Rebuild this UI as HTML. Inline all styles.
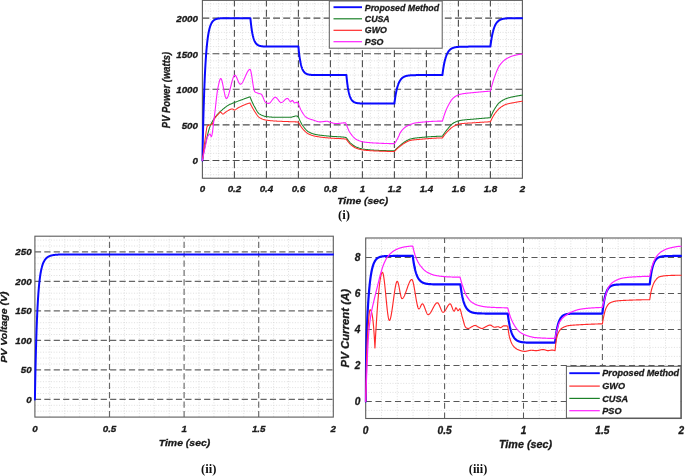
<!DOCTYPE html>
<html lang="en">
<head>
<meta charset="utf-8">
<title>PV power, voltage and current</title>
<style>
html,body{margin:0;padding:0;background:#ffffff;}
body{width:685px;height:476px;overflow:hidden;font-family:"Liberation Sans",sans-serif;}
svg{display:block;filter:blur(0.35px);}
.t{font-family:"Liberation Sans",sans-serif;font-weight:bold;font-style:italic;fill:#1a1a1a;stroke:#1a1a1a;stroke-width:0.3px;}
.s{font-family:"Liberation Serif",serif;font-weight:bold;fill:#111;}
</style>
</head>
<body>
<svg width="685" height="476" viewBox="0 0 685 476">
<rect x="0" y="0" width="685" height="476" fill="#ffffff"/>
<clipPath id="c1"><rect x="201.20" y="0.36" width="321.70" height="177.88"/></clipPath>
<rect x="202.40" y="0.36" width="320.00" height="177.88" fill="#fff"/>
<path d="M210.40,0.36V178.24M218.40,0.36V178.24M226.40,0.36V178.24M242.40,0.36V178.24M250.40,0.36V178.24M258.40,0.36V178.24M274.40,0.36V178.24M282.40,0.36V178.24M290.40,0.36V178.24M306.40,0.36V178.24M314.40,0.36V178.24M322.40,0.36V178.24M338.40,0.36V178.24M346.40,0.36V178.24M354.40,0.36V178.24M370.40,0.36V178.24M378.40,0.36V178.24M386.40,0.36V178.24M402.40,0.36V178.24M410.40,0.36V178.24M418.40,0.36V178.24M434.40,0.36V178.24M442.40,0.36V178.24M450.40,0.36V178.24M466.40,0.36V178.24M474.40,0.36V178.24M482.40,0.36V178.24M498.40,0.36V178.24M506.40,0.36V178.24M514.40,0.36V178.24M202.40,174.68H522.40M202.40,167.56H522.40M202.40,153.33H522.40M202.40,146.22H522.40M202.40,139.10H522.40M202.40,131.99H522.40M202.40,117.76H522.40M202.40,110.64H522.40M202.40,103.53H522.40M202.40,96.41H522.40M202.40,82.18H522.40M202.40,75.07H522.40M202.40,67.95H522.40M202.40,60.84H522.40M202.40,46.61H522.40M202.40,39.49H522.40M202.40,32.38H522.40M202.40,25.26H522.40M202.40,11.03H522.40M202.40,3.92H522.40" stroke="#dbdbdb" stroke-width="0.9" stroke-dasharray="1 1.68" fill="none"/>
<path d="M234.40,178.24V0.36M266.40,178.24V0.36M298.40,178.24V0.36M330.40,178.24V0.36M362.40,178.24V0.36M394.40,178.24V0.36M426.40,178.24V0.36M458.40,178.24V0.36M490.40,178.24V0.36M202.40,160.45H522.40M202.40,124.87H522.40M202.40,89.30H522.40M202.40,53.72H522.40M202.40,18.15H522.40" stroke="#4c4c4c" stroke-width="1.1" stroke-dasharray="6.9 3.2" fill="none"/>
<rect x="202.40" y="0.36" width="320.00" height="177.88" fill="none" stroke="#5c5c5c" stroke-width="1.1"/>
<g clip-path="url(#c1)" fill="none" stroke-linejoin="round" stroke-linecap="round">
<path d="M202.40,160.45 L202.51,154.98 L202.61,149.71 L202.72,144.65 L202.83,139.78 L202.93,135.11 L203.04,130.61 L203.15,126.28 L203.25,122.12 L203.36,118.12 L203.47,114.28 L203.57,110.58 L203.68,107.02 L203.79,103.60 L203.89,100.32 L204.00,97.15 L204.11,94.12 L204.21,91.19 L204.32,88.38 L204.43,85.68 L204.53,83.08 L204.64,80.59 L204.75,78.18 L204.85,75.87 L204.96,73.65 L205.07,71.52 L205.17,69.47 L205.28,67.49 L205.39,65.59 L205.49,63.77 L205.60,62.01 L205.71,60.33 L205.81,58.70 L205.92,57.14 L206.03,55.64 L206.13,54.20 L206.24,52.81 L206.35,51.48 L206.45,50.20 L206.56,48.97 L206.67,47.78 L206.77,46.64 L206.88,45.54 L206.99,44.49 L207.09,43.48 L207.20,42.50 L207.31,41.57 L207.42,40.67 L207.52,39.80 L207.63,38.97 L207.74,38.17 L207.84,37.40 L207.95,36.66 L208.06,35.94 L208.16,35.26 L208.27,34.60 L208.38,33.97 L208.48,33.36 L208.59,32.77 L208.70,32.21 L208.80,31.67 L208.91,31.15 L209.02,30.65 L209.12,30.17 L209.23,29.71 L209.34,29.26 L209.44,28.83 L209.55,28.42 L209.66,28.03 L209.76,27.65 L209.87,27.28 L209.98,26.93 L210.08,26.59 L210.19,26.27 L210.30,25.96 L210.40,25.66 L210.51,25.37 L210.62,25.09 L210.72,24.82 L210.83,24.57 L210.94,24.32 L211.04,24.08 L211.15,23.85 L211.26,23.63 L211.36,23.42 L211.47,23.22 L211.58,23.03 L211.68,22.84 L211.79,22.66 L211.90,22.48 L212.00,22.32 L212.11,22.16 L212.22,22.00 L212.32,21.85 L212.43,21.71 L212.54,21.58 L212.64,21.44 L212.75,21.32 L212.86,21.20 L212.96,21.08 L213.07,20.97 L213.18,20.86 L213.28,20.75 L213.39,20.65 L213.50,20.56 L213.60,20.46 L213.71,20.37 L213.82,20.29 L213.92,20.21 L214.03,20.13 L214.14,20.05 L214.24,19.98 L214.35,19.91 L214.46,19.84 L214.56,19.78 L214.67,19.71 L214.78,19.65 L214.88,19.60 L214.99,19.54 L215.10,19.49 L215.20,19.43 L215.31,19.39 L215.42,19.34 L215.52,19.29 L215.63,19.25 L215.74,19.21 L215.84,19.17 L215.95,19.13 L216.06,19.09 L216.16,19.05 L216.27,19.02 L216.38,18.98 L216.48,18.95 L216.59,18.92 L216.70,18.89 L216.80,18.86 L216.91,18.84 L217.02,18.81 L217.12,18.78 L217.23,18.76 L217.34,18.74 L217.45,18.71 L217.55,18.69 L217.66,18.67 L217.77,18.65 L217.87,18.63 L217.98,18.61 L218.09,18.60 L218.19,18.58 L218.30,18.56 L218.41,18.55 L218.51,18.53 L218.62,18.52 L218.73,18.50 L218.83,18.49 L218.94,18.48 L219.05,18.46 L219.15,18.45 L219.26,18.44 L219.37,18.43 L219.47,18.42 L219.58,18.41 L219.69,18.40 L219.79,18.39 L219.90,18.38 L220.01,18.37 L220.11,18.36 L220.22,18.35 L220.33,18.35 L220.43,18.34 L220.54,18.33 L220.65,18.32 L220.75,18.32 L220.86,18.31 L220.97,18.30 L221.07,18.30 L221.18,18.29 L221.29,18.29 L221.39,18.28 L221.50,18.28 L221.61,18.27 L221.71,18.27 L221.82,18.26 L221.93,18.26 L222.03,18.25 L222.14,18.25 L222.25,18.25 L222.35,18.24 L222.46,18.24 L222.57,18.24 L222.67,18.23 L222.78,18.23 L222.89,18.23 L222.99,18.22 L223.10,18.22 L223.21,18.22 L223.31,18.22 L223.42,18.21 L223.53,18.21 L223.63,18.21 L223.74,18.21 L223.85,18.20 L223.95,18.20 L224.06,18.20 L224.17,18.20 L224.27,18.20 L224.38,18.19 L224.49,18.19 L224.59,18.19 L224.70,18.19 L224.81,18.19 L224.91,18.19 L225.02,18.18 L225.13,18.18 L225.23,18.18 L225.34,18.18 L225.45,18.18 L225.55,18.18 L225.66,18.18 L225.77,18.18 L225.87,18.18 L225.98,18.17 L226.09,18.17 L226.19,18.17 L226.30,18.17 L226.41,18.17 L226.51,18.17 L226.62,18.17 L226.73,18.17 L226.83,18.17 L226.94,18.17 L227.05,18.17 L227.15,18.17 L227.26,18.17 L227.37,18.16 L227.48,18.16 L227.58,18.16 L227.69,18.16 L227.80,18.16 L227.90,18.16 L228.01,18.16 L228.12,18.16 L228.22,18.16 L228.33,18.16 L228.44,18.16 L228.54,18.16 L228.65,18.16 L228.76,18.16 L228.86,18.16 L228.97,18.16 L229.08,18.16 L229.18,18.16 L229.29,18.16 L229.40,18.16 L229.50,18.16 L229.61,18.16 L229.72,18.16 L229.82,18.16 L229.93,18.16 L230.04,18.16 L230.14,18.16 L230.25,18.16 L230.36,18.15 L230.46,18.15 L230.57,18.15 L230.68,18.15 L230.78,18.15 L230.89,18.15 L231.00,18.15 L231.10,18.15 L231.21,18.15 L231.32,18.15 L231.42,18.15 L231.53,18.15 L231.64,18.15 L231.74,18.15 L231.85,18.15 L231.96,18.15 L232.06,18.15 L232.17,18.15 L232.28,18.15 L232.38,18.15 L232.49,18.15 L232.60,18.15 L232.70,18.15 L232.81,18.15 L232.92,18.15 L233.02,18.15 L233.13,18.15 L233.24,18.15 L233.34,18.15 L233.45,18.15 L233.56,18.15 L233.66,18.15 L233.77,18.15 L233.88,18.15 L233.98,18.15 L234.09,18.15 L234.20,18.15 L234.30,18.15 L234.41,18.15 L234.52,18.15 L234.62,18.15 L234.73,18.15 L234.84,18.15 L234.94,18.15 L235.05,18.15 L235.16,18.15 L235.26,18.15 L235.37,18.15 L235.48,18.15 L235.58,18.15 L235.69,18.15 L235.80,18.15 L235.90,18.15 L236.01,18.15 L236.12,18.15 L236.22,18.15 L236.33,18.15 L236.44,18.15 L236.54,18.15 L236.65,18.15 L236.76,18.15 L236.86,18.15 L236.97,18.15 L237.08,18.15 L237.18,18.15 L237.29,18.15 L237.40,18.15 L237.51,18.15 L237.61,18.15 L237.72,18.15 L237.83,18.15 L237.93,18.15 L238.04,18.15 L238.15,18.15 L238.25,18.15 L238.36,18.15 L238.47,18.15 L238.57,18.15 L238.68,18.15 L238.79,18.15 L238.89,18.15 L239.00,18.15 L239.11,18.15 L239.21,18.15 L239.32,18.15 L239.43,18.15 L239.53,18.15 L239.64,18.15 L239.75,18.15 L239.85,18.15 L239.96,18.15 L240.07,18.15 L240.17,18.15 L240.28,18.15 L240.39,18.15 L240.49,18.15 L240.60,18.15 L240.71,18.15 L240.81,18.15 L240.92,18.15 L241.03,18.15 L241.13,18.15 L241.24,18.15 L241.35,18.15 L241.45,18.15 L241.56,18.15 L241.67,18.15 L241.77,18.15 L241.88,18.15 L241.99,18.15 L242.09,18.15 L242.20,18.15 L242.31,18.15 L242.41,18.15 L242.52,18.15 L242.63,18.15 L242.73,18.15 L242.84,18.15 L242.95,18.15 L243.05,18.15 L243.16,18.15 L243.27,18.15 L243.37,18.15 L243.48,18.15 L243.59,18.15 L243.69,18.15 L243.80,18.15 L243.91,18.15 L244.01,18.15 L244.12,18.15 L244.23,18.15 L244.33,18.15 L244.44,18.15 L244.55,18.15 L244.65,18.15 L244.76,18.15 L244.87,18.15 L244.97,18.15 L245.08,18.15 L245.19,18.15 L245.29,18.15 L245.40,18.15 L245.51,18.15 L245.61,18.15 L245.72,18.15 L245.83,18.15 L245.93,18.15 L246.04,18.15 L246.15,18.15 L246.25,18.15 L246.36,18.15 L246.47,18.15 L246.57,18.15 L246.68,18.15 L246.79,18.15 L246.89,18.15 L247.00,18.15 L247.11,18.15 L247.21,18.15 L247.32,18.15 L247.43,18.15 L247.54,18.15 L247.64,18.15 L247.75,18.15 L247.86,18.15 L247.96,18.15 L248.07,18.15 L248.18,18.15 L248.28,18.15 L248.39,18.15 L248.50,18.15 L248.60,18.15 L248.71,18.15 L248.82,18.15 L248.92,18.15 L249.03,18.15 L249.14,18.15 L249.24,18.15 L249.35,18.15 L249.46,18.15 L249.56,18.15 L249.67,18.15 L249.78,18.15 L249.88,18.15 L249.99,18.15 L250.10,18.15 L250.20,18.15 L250.31,18.15 L250.40,18.15 L250.42,18.33 L250.52,19.48 L250.63,20.59 L250.74,21.65 L250.84,22.67 L250.95,23.65 L251.06,24.59 L251.16,25.48 L251.27,26.35 L251.38,27.17 L251.48,27.97 L251.59,28.73 L251.70,29.46 L251.80,30.16 L251.91,30.83 L252.02,31.47 L252.12,32.09 L252.23,32.69 L252.34,33.25 L252.44,33.80 L252.55,34.32 L252.66,34.82 L252.76,35.30 L252.87,35.77 L252.98,36.21 L253.08,36.63 L253.19,37.04 L253.30,37.43 L253.40,37.81 L253.51,38.17 L253.62,38.51 L253.72,38.84 L253.83,39.16 L253.94,39.46 L254.04,39.75 L254.15,40.03 L254.26,40.30 L254.36,40.56 L254.47,40.81 L254.58,41.04 L254.68,41.27 L254.79,41.49 L254.90,41.70 L255.00,41.90 L255.11,42.09 L255.22,42.28 L255.32,42.45 L255.43,42.62 L255.54,42.78 L255.64,42.94 L255.75,43.09 L255.86,43.23 L255.96,43.37 L256.07,43.50 L256.18,43.63 L256.28,43.75 L256.39,43.87 L256.50,43.98 L256.60,44.09 L256.71,44.19 L256.82,44.29 L256.92,44.39 L257.03,44.48 L257.14,44.56 L257.24,44.65 L257.35,44.73 L257.46,44.80 L257.57,44.88 L257.67,44.95 L257.78,45.02 L257.89,45.08 L257.99,45.14 L258.10,45.20 L258.21,45.26 L258.31,45.32 L258.42,45.37 L258.53,45.42 L258.63,45.47 L258.74,45.51 L258.85,45.56 L258.95,45.60 L259.06,45.64 L259.17,45.68 L259.27,45.72 L259.38,45.76 L259.49,45.79 L259.59,45.83 L259.70,45.86 L259.81,45.89 L259.91,45.92 L260.02,45.95 L260.13,45.97 L260.23,46.00 L260.34,46.02 L260.45,46.05 L260.55,46.07 L260.66,46.09 L260.77,46.11 L260.87,46.13 L260.98,46.15 L261.09,46.17 L261.19,46.19 L261.30,46.21 L261.41,46.22 L261.51,46.24 L261.62,46.25 L261.73,46.27 L261.83,46.28 L261.94,46.30 L262.05,46.31 L262.15,46.32 L262.26,46.33 L262.37,46.34 L262.47,46.36 L262.58,46.37 L262.69,46.38 L262.79,46.39 L262.90,46.39 L263.01,46.40 L263.11,46.41 L263.22,46.42 L263.33,46.43 L263.43,46.43 L263.54,46.44 L263.65,46.45 L263.75,46.46 L263.86,46.46 L263.97,46.47 L264.07,46.47 L264.18,46.48 L264.29,46.48 L264.39,46.49 L264.50,46.49 L264.61,46.50 L264.71,46.50 L264.82,46.51 L264.93,46.51 L265.03,46.52 L265.14,46.52 L265.25,46.52 L265.35,46.53 L265.46,46.53 L265.57,46.53 L265.67,46.54 L265.78,46.54 L265.89,46.54 L265.99,46.55 L266.10,46.55 L266.21,46.55 L266.31,46.55 L266.42,46.56 L266.53,46.56 L266.63,46.56 L266.74,46.56 L266.85,46.56 L266.95,46.57 L267.06,46.57 L267.17,46.57 L267.27,46.57 L267.38,46.57 L267.49,46.57 L267.60,46.58 L267.70,46.58 L267.81,46.58 L267.92,46.58 L268.02,46.58 L268.13,46.58 L268.24,46.58 L268.34,46.58 L268.45,46.59 L268.56,46.59 L268.66,46.59 L268.77,46.59 L268.88,46.59 L268.98,46.59 L269.09,46.59 L269.20,46.59 L269.30,46.59 L269.41,46.59 L269.52,46.59 L269.62,46.59 L269.73,46.60 L269.84,46.60 L269.94,46.60 L270.05,46.60 L270.16,46.60 L270.26,46.60 L270.37,46.60 L270.48,46.60 L270.58,46.60 L270.69,46.60 L270.80,46.60 L270.90,46.60 L271.01,46.60 L271.12,46.60 L271.22,46.60 L271.33,46.60 L271.44,46.60 L271.54,46.60 L271.65,46.60 L271.76,46.60 L271.86,46.60 L271.97,46.60 L272.08,46.60 L272.18,46.60 L272.29,46.60 L272.40,46.60 L272.50,46.60 L272.61,46.61 L272.72,46.61 L272.82,46.61 L272.93,46.61 L273.04,46.61 L273.14,46.61 L273.25,46.61 L273.36,46.61 L273.46,46.61 L273.57,46.61 L273.68,46.61 L273.78,46.61 L273.89,46.61 L274.00,46.61 L274.10,46.61 L274.21,46.61 L274.32,46.61 L274.42,46.61 L274.53,46.61 L274.64,46.61 L274.74,46.61 L274.85,46.61 L274.96,46.61 L275.06,46.61 L275.17,46.61 L275.28,46.61 L275.38,46.61 L275.49,46.61 L275.60,46.61 L275.70,46.61 L275.81,46.61 L275.92,46.61 L276.02,46.61 L276.13,46.61 L276.24,46.61 L276.34,46.61 L276.45,46.61 L276.56,46.61 L276.66,46.61 L276.77,46.61 L276.88,46.61 L276.98,46.61 L277.09,46.61 L277.20,46.61 L277.30,46.61 L277.41,46.61 L277.52,46.61 L277.63,46.61 L277.73,46.61 L277.84,46.61 L277.95,46.61 L278.05,46.61 L278.16,46.61 L278.27,46.61 L278.37,46.61 L278.48,46.61 L278.59,46.61 L278.69,46.61 L278.80,46.61 L278.91,46.61 L279.01,46.61 L279.12,46.61 L279.23,46.61 L279.33,46.61 L279.44,46.61 L279.55,46.61 L279.65,46.61 L279.76,46.61 L279.87,46.61 L279.97,46.61 L280.08,46.61 L280.19,46.61 L280.29,46.61 L280.40,46.61 L280.51,46.61 L280.61,46.61 L280.72,46.61 L280.83,46.61 L280.93,46.61 L281.04,46.61 L281.15,46.61 L281.25,46.61 L281.36,46.61 L281.47,46.61 L281.57,46.61 L281.68,46.61 L281.79,46.61 L281.89,46.61 L282.00,46.61 L282.11,46.61 L282.21,46.61 L282.32,46.61 L282.43,46.61 L282.53,46.61 L282.64,46.61 L282.75,46.61 L282.85,46.61 L282.96,46.61 L283.07,46.61 L283.17,46.61 L283.28,46.61 L283.39,46.61 L283.49,46.61 L283.60,46.61 L283.71,46.61 L283.81,46.61 L283.92,46.61 L284.03,46.61 L284.13,46.61 L284.24,46.61 L284.35,46.61 L284.45,46.61 L284.56,46.61 L284.67,46.61 L284.77,46.61 L284.88,46.61 L284.99,46.61 L285.09,46.61 L285.20,46.61 L285.31,46.61 L285.41,46.61 L285.52,46.61 L285.63,46.61 L285.73,46.61 L285.84,46.61 L285.95,46.61 L286.05,46.61 L286.16,46.61 L286.27,46.61 L286.37,46.61 L286.48,46.61 L286.59,46.61 L286.69,46.61 L286.80,46.61 L286.91,46.61 L287.01,46.61 L287.12,46.61 L287.23,46.61 L287.33,46.61 L287.44,46.61 L287.55,46.61 L287.66,46.61 L287.76,46.61 L287.87,46.61 L287.98,46.61 L288.08,46.61 L288.19,46.61 L288.30,46.61 L288.40,46.61 L288.51,46.61 L288.62,46.61 L288.72,46.61 L288.83,46.61 L288.94,46.61 L289.04,46.61 L289.15,46.61 L289.26,46.61 L289.36,46.61 L289.47,46.61 L289.58,46.61 L289.68,46.61 L289.79,46.61 L289.90,46.61 L290.00,46.61 L290.11,46.61 L290.22,46.61 L290.32,46.61 L290.43,46.61 L290.54,46.61 L290.64,46.61 L290.75,46.61 L290.86,46.61 L290.96,46.61 L291.07,46.61 L291.18,46.61 L291.28,46.61 L291.39,46.61 L291.50,46.61 L291.60,46.61 L291.71,46.61 L291.82,46.61 L291.92,46.61 L292.03,46.61 L292.14,46.61 L292.24,46.61 L292.35,46.61 L292.46,46.61 L292.56,46.61 L292.67,46.61 L292.78,46.61 L292.88,46.61 L292.99,46.61 L293.10,46.61 L293.20,46.61 L293.31,46.61 L293.42,46.61 L293.52,46.61 L293.63,46.61 L293.74,46.61 L293.84,46.61 L293.95,46.61 L294.06,46.61 L294.16,46.61 L294.27,46.61 L294.38,46.61 L294.48,46.61 L294.59,46.61 L294.70,46.61 L294.80,46.61 L294.91,46.61 L295.02,46.61 L295.12,46.61 L295.23,46.61 L295.34,46.61 L295.44,46.61 L295.55,46.61 L295.66,46.61 L295.76,46.61 L295.87,46.61 L295.98,46.61 L296.08,46.61 L296.19,46.61 L296.30,46.61 L296.40,46.61 L296.51,46.61 L296.62,46.61 L296.72,46.61 L296.83,46.61 L296.94,46.61 L297.04,46.61 L297.15,46.61 L297.26,46.61 L297.36,46.61 L297.47,46.61 L297.58,46.61 L297.69,46.61 L297.79,46.61 L297.90,46.61 L298.01,46.61 L298.11,46.61 L298.22,46.61 L298.33,46.61 L298.40,46.61 L298.43,46.96 L298.54,48.11 L298.65,49.21 L298.75,50.27 L298.86,51.28 L298.97,52.25 L299.07,53.18 L299.18,54.08 L299.29,54.93 L299.39,55.76 L299.50,56.54 L299.61,57.30 L299.71,58.03 L299.82,58.72 L299.93,59.39 L300.03,60.03 L300.14,60.64 L300.25,61.23 L300.35,61.80 L300.46,62.34 L300.57,62.86 L300.67,63.36 L300.78,63.84 L300.89,64.29 L300.99,64.73 L301.10,65.16 L301.21,65.56 L301.31,65.95 L301.42,66.32 L301.53,66.68 L301.63,67.02 L301.74,67.35 L301.85,67.66 L301.95,67.97 L302.06,68.26 L302.17,68.53 L302.27,68.80 L302.38,69.06 L302.49,69.30 L302.59,69.54 L302.70,69.76 L302.81,69.98 L302.91,70.19 L303.02,70.39 L303.13,70.58 L303.23,70.76 L303.34,70.94 L303.45,71.11 L303.55,71.27 L303.66,71.42 L303.77,71.57 L303.87,71.72 L303.98,71.85 L304.09,71.98 L304.19,72.11 L304.30,72.23 L304.41,72.35 L304.51,72.46 L304.62,72.56 L304.73,72.67 L304.83,72.76 L304.94,72.86 L305.05,72.95 L305.15,73.04 L305.26,73.12 L305.37,73.20 L305.47,73.27 L305.58,73.35 L305.69,73.42 L305.79,73.49 L305.90,73.55 L306.01,73.61 L306.11,73.67 L306.22,73.73 L306.33,73.78 L306.43,73.84 L306.54,73.89 L306.65,73.94 L306.75,73.98 L306.86,74.03 L306.97,74.07 L307.07,74.11 L307.18,74.15 L307.29,74.19 L307.39,74.22 L307.50,74.26 L307.61,74.29 L307.72,74.32 L307.82,74.35 L307.93,74.38 L308.04,74.41 L308.14,74.44 L308.25,74.46 L308.36,74.49 L308.46,74.51 L308.57,74.53 L308.68,74.56 L308.78,74.58 L308.89,74.60 L309.00,74.62 L309.10,74.63 L309.21,74.65 L309.32,74.67 L309.42,74.69 L309.53,74.70 L309.64,74.72 L309.74,74.73 L309.85,74.74 L309.96,74.76 L310.06,74.77 L310.17,74.78 L310.28,74.79 L310.38,74.81 L310.49,74.82 L310.60,74.83 L310.70,74.84 L310.81,74.85 L310.92,74.86 L311.02,74.86 L311.13,74.87 L311.24,74.88 L311.34,74.89 L311.45,74.90 L311.56,74.90 L311.66,74.91 L311.77,74.92 L311.88,74.92 L311.98,74.93 L312.09,74.93 L312.20,74.94 L312.30,74.95 L312.41,74.95 L312.52,74.96 L312.62,74.96 L312.73,74.96 L312.84,74.97 L312.94,74.97 L313.05,74.98 L313.16,74.98 L313.26,74.98 L313.37,74.99 L313.48,74.99 L313.58,74.99 L313.69,75.00 L313.80,75.00 L313.90,75.00 L314.01,75.01 L314.12,75.01 L314.22,75.01 L314.33,75.01 L314.44,75.02 L314.54,75.02 L314.65,75.02 L314.76,75.02 L314.86,75.02 L314.97,75.03 L315.08,75.03 L315.18,75.03 L315.29,75.03 L315.40,75.03 L315.50,75.03 L315.61,75.04 L315.72,75.04 L315.82,75.04 L315.93,75.04 L316.04,75.04 L316.14,75.04 L316.25,75.04 L316.36,75.04 L316.46,75.05 L316.57,75.05 L316.68,75.05 L316.78,75.05 L316.89,75.05 L317.00,75.05 L317.10,75.05 L317.21,75.05 L317.32,75.05 L317.43,75.05 L317.53,75.05 L317.64,75.05 L317.75,75.06 L317.85,75.06 L317.96,75.06 L318.07,75.06 L318.17,75.06 L318.28,75.06 L318.39,75.06 L318.49,75.06 L318.60,75.06 L318.71,75.06 L318.81,75.06 L318.92,75.06 L319.03,75.06 L319.13,75.06 L319.24,75.06 L319.35,75.06 L319.45,75.06 L319.56,75.06 L319.67,75.06 L319.77,75.06 L319.88,75.06 L319.99,75.06 L320.09,75.06 L320.20,75.06 L320.31,75.06 L320.41,75.06 L320.52,75.06 L320.63,75.07 L320.73,75.07 L320.84,75.07 L320.95,75.07 L321.05,75.07 L321.16,75.07 L321.27,75.07 L321.37,75.07 L321.48,75.07 L321.59,75.07 L321.69,75.07 L321.80,75.07 L321.91,75.07 L322.01,75.07 L322.12,75.07 L322.23,75.07 L322.33,75.07 L322.44,75.07 L322.55,75.07 L322.65,75.07 L322.76,75.07 L322.87,75.07 L322.97,75.07 L323.08,75.07 L323.19,75.07 L323.29,75.07 L323.40,75.07 L323.51,75.07 L323.61,75.07 L323.72,75.07 L323.83,75.07 L323.93,75.07 L324.04,75.07 L324.15,75.07 L324.25,75.07 L324.36,75.07 L324.47,75.07 L324.57,75.07 L324.68,75.07 L324.79,75.07 L324.89,75.07 L325.00,75.07 L325.11,75.07 L325.21,75.07 L325.32,75.07 L325.43,75.07 L325.53,75.07 L325.64,75.07 L325.75,75.07 L325.85,75.07 L325.96,75.07 L326.07,75.07 L326.17,75.07 L326.28,75.07 L326.39,75.07 L326.49,75.07 L326.60,75.07 L326.71,75.07 L326.81,75.07 L326.92,75.07 L327.03,75.07 L327.13,75.07 L327.24,75.07 L327.35,75.07 L327.46,75.07 L327.56,75.07 L327.67,75.07 L327.78,75.07 L327.88,75.07 L327.99,75.07 L328.10,75.07 L328.20,75.07 L328.31,75.07 L328.42,75.07 L328.52,75.07 L328.63,75.07 L328.74,75.07 L328.84,75.07 L328.95,75.07 L329.06,75.07 L329.16,75.07 L329.27,75.07 L329.38,75.07 L329.48,75.07 L329.59,75.07 L329.70,75.07 L329.80,75.07 L329.91,75.07 L330.02,75.07 L330.12,75.07 L330.23,75.07 L330.34,75.07 L330.44,75.07 L330.55,75.07 L330.66,75.07 L330.76,75.07 L330.87,75.07 L330.98,75.07 L331.08,75.07 L331.19,75.07 L331.30,75.07 L331.40,75.07 L331.51,75.07 L331.62,75.07 L331.72,75.07 L331.83,75.07 L331.94,75.07 L332.04,75.07 L332.15,75.07 L332.26,75.07 L332.36,75.07 L332.47,75.07 L332.58,75.07 L332.68,75.07 L332.79,75.07 L332.90,75.07 L333.00,75.07 L333.11,75.07 L333.22,75.07 L333.32,75.07 L333.43,75.07 L333.54,75.07 L333.64,75.07 L333.75,75.07 L333.86,75.07 L333.96,75.07 L334.07,75.07 L334.18,75.07 L334.28,75.07 L334.39,75.07 L334.50,75.07 L334.60,75.07 L334.71,75.07 L334.82,75.07 L334.92,75.07 L335.03,75.07 L335.14,75.07 L335.24,75.07 L335.35,75.07 L335.46,75.07 L335.56,75.07 L335.67,75.07 L335.78,75.07 L335.88,75.07 L335.99,75.07 L336.10,75.07 L336.20,75.07 L336.31,75.07 L336.42,75.07 L336.52,75.07 L336.63,75.07 L336.74,75.07 L336.84,75.07 L336.95,75.07 L337.06,75.07 L337.16,75.07 L337.27,75.07 L337.38,75.07 L337.49,75.07 L337.59,75.07 L337.70,75.07 L337.81,75.07 L337.91,75.07 L338.02,75.07 L338.13,75.07 L338.23,75.07 L338.34,75.07 L338.45,75.07 L338.55,75.07 L338.66,75.07 L338.77,75.07 L338.87,75.07 L338.98,75.07 L339.09,75.07 L339.19,75.07 L339.30,75.07 L339.41,75.07 L339.51,75.07 L339.62,75.07 L339.73,75.07 L339.83,75.07 L339.94,75.07 L340.05,75.07 L340.15,75.07 L340.26,75.07 L340.37,75.07 L340.47,75.07 L340.58,75.07 L340.69,75.07 L340.79,75.07 L340.90,75.07 L341.01,75.07 L341.11,75.07 L341.22,75.07 L341.33,75.07 L341.43,75.07 L341.54,75.07 L341.65,75.07 L341.75,75.07 L341.86,75.07 L341.97,75.07 L342.07,75.07 L342.18,75.07 L342.29,75.07 L342.39,75.07 L342.50,75.07 L342.61,75.07 L342.71,75.07 L342.82,75.07 L342.93,75.07 L343.03,75.07 L343.14,75.07 L343.25,75.07 L343.35,75.07 L343.46,75.07 L343.57,75.07 L343.67,75.07 L343.78,75.07 L343.89,75.07 L343.99,75.07 L344.10,75.07 L344.21,75.07 L344.31,75.07 L344.42,75.07 L344.53,75.07 L344.63,75.07 L344.74,75.07 L344.85,75.07 L344.95,75.07 L345.06,75.07 L345.17,75.07 L345.27,75.07 L345.38,75.07 L345.49,75.07 L345.59,75.07 L345.70,75.07 L345.81,75.07 L345.91,75.07 L346.02,75.07 L346.13,75.07 L346.23,75.07 L346.34,75.07 L346.40,75.07 L346.45,75.60 L346.55,76.74 L346.66,77.83 L346.77,78.88 L346.87,79.89 L346.98,80.85 L347.09,81.78 L347.19,82.67 L347.30,83.52 L347.41,84.34 L347.52,85.12 L347.62,85.87 L347.73,86.59 L347.84,87.28 L347.94,87.95 L348.05,88.58 L348.16,89.19 L348.26,89.78 L348.37,90.34 L348.48,90.88 L348.58,91.39 L348.69,91.89 L348.80,92.37 L348.90,92.82 L349.01,93.26 L349.12,93.68 L349.22,94.08 L349.33,94.47 L349.44,94.84 L349.54,95.19 L349.65,95.53 L349.76,95.86 L349.86,96.17 L349.97,96.47 L350.08,96.76 L350.18,97.04 L350.29,97.30 L350.40,97.56 L350.50,97.80 L350.61,98.03 L350.72,98.26 L350.82,98.47 L350.93,98.68 L351.04,98.88 L351.14,99.07 L351.25,99.25 L351.36,99.42 L351.46,99.59 L351.57,99.75 L351.68,99.91 L351.78,100.05 L351.89,100.20 L352.00,100.33 L352.10,100.46 L352.21,100.59 L352.32,100.71 L352.42,100.82 L352.53,100.93 L352.64,101.04 L352.74,101.14 L352.85,101.24 L352.96,101.33 L353.06,101.42 L353.17,101.51 L353.28,101.59 L353.38,101.67 L353.49,101.75 L353.60,101.82 L353.70,101.89 L353.81,101.96 L353.92,102.02 L354.02,102.08 L354.13,102.14 L354.24,102.20 L354.34,102.25 L354.45,102.30 L354.56,102.35 L354.66,102.40 L354.77,102.45 L354.88,102.49 L354.98,102.53 L355.09,102.58 L355.20,102.61 L355.30,102.65 L355.41,102.69 L355.52,102.72 L355.62,102.75 L355.73,102.79 L355.84,102.82 L355.94,102.85 L356.05,102.87 L356.16,102.90 L356.26,102.93 L356.37,102.95 L356.48,102.97 L356.58,103.00 L356.69,103.02 L356.80,103.04 L356.90,103.06 L357.01,103.08 L357.12,103.10 L357.22,103.12 L357.33,103.13 L357.44,103.15 L357.55,103.16 L357.65,103.18 L357.76,103.19 L357.87,103.21 L357.97,103.22 L358.08,103.23 L358.19,103.24 L358.29,103.26 L358.40,103.27 L358.51,103.28 L358.61,103.29 L358.72,103.30 L358.83,103.31 L358.93,103.32 L359.04,103.33 L359.15,103.33 L359.25,103.34 L359.36,103.35 L359.47,103.36 L359.57,103.36 L359.68,103.37 L359.79,103.38 L359.89,103.38 L360.00,103.39 L360.11,103.40 L360.21,103.40 L360.32,103.41 L360.43,103.41 L360.53,103.42 L360.64,103.42 L360.75,103.43 L360.85,103.43 L360.96,103.43 L361.07,103.44 L361.17,103.44 L361.28,103.44 L361.39,103.45 L361.49,103.45 L361.60,103.45 L361.71,103.46 L361.81,103.46 L361.92,103.46 L362.03,103.47 L362.13,103.47 L362.24,103.47 L362.35,103.47 L362.45,103.48 L362.56,103.48 L362.67,103.48 L362.77,103.48 L362.88,103.48 L362.99,103.49 L363.09,103.49 L363.20,103.49 L363.31,103.49 L363.41,103.49 L363.52,103.49 L363.63,103.50 L363.73,103.50 L363.84,103.50 L363.95,103.50 L364.05,103.50 L364.16,103.50 L364.27,103.50 L364.37,103.50 L364.48,103.51 L364.59,103.51 L364.69,103.51 L364.80,103.51 L364.91,103.51 L365.01,103.51 L365.12,103.51 L365.23,103.51 L365.33,103.51 L365.44,103.51 L365.55,103.51 L365.65,103.51 L365.76,103.52 L365.87,103.52 L365.97,103.52 L366.08,103.52 L366.19,103.52 L366.29,103.52 L366.40,103.52 L366.51,103.52 L366.61,103.52 L366.72,103.52 L366.83,103.52 L366.93,103.52 L367.04,103.52 L367.15,103.52 L367.25,103.52 L367.36,103.52 L367.47,103.52 L367.58,103.52 L367.68,103.52 L367.79,103.52 L367.90,103.52 L368.00,103.52 L368.11,103.52 L368.22,103.52 L368.32,103.52 L368.43,103.52 L368.54,103.52 L368.64,103.53 L368.75,103.53 L368.86,103.53 L368.96,103.53 L369.07,103.53 L369.18,103.53 L369.28,103.53 L369.39,103.53 L369.50,103.53 L369.60,103.53 L369.71,103.53 L369.82,103.53 L369.92,103.53 L370.03,103.53 L370.14,103.53 L370.24,103.53 L370.35,103.53 L370.46,103.53 L370.56,103.53 L370.67,103.53 L370.78,103.53 L370.88,103.53 L370.99,103.53 L371.10,103.53 L371.20,103.53 L371.31,103.53 L371.42,103.53 L371.52,103.53 L371.63,103.53 L371.74,103.53 L371.84,103.53 L371.95,103.53 L372.06,103.53 L372.16,103.53 L372.27,103.53 L372.38,103.53 L372.48,103.53 L372.59,103.53 L372.70,103.53 L372.80,103.53 L372.91,103.53 L373.02,103.53 L373.12,103.53 L373.23,103.53 L373.34,103.53 L373.44,103.53 L373.55,103.53 L373.66,103.53 L373.76,103.53 L373.87,103.53 L373.98,103.53 L374.08,103.53 L374.19,103.53 L374.30,103.53 L374.40,103.53 L374.51,103.53 L374.62,103.53 L374.72,103.53 L374.83,103.53 L374.94,103.53 L375.04,103.53 L375.15,103.53 L375.26,103.53 L375.36,103.53 L375.47,103.53 L375.58,103.53 L375.68,103.53 L375.79,103.53 L375.90,103.53 L376.00,103.53 L376.11,103.53 L376.22,103.53 L376.32,103.53 L376.43,103.53 L376.54,103.53 L376.64,103.53 L376.75,103.53 L376.86,103.53 L376.96,103.53 L377.07,103.53 L377.18,103.53 L377.28,103.53 L377.39,103.53 L377.50,103.53 L377.61,103.53 L377.71,103.53 L377.82,103.53 L377.93,103.53 L378.03,103.53 L378.14,103.53 L378.25,103.53 L378.35,103.53 L378.46,103.53 L378.57,103.53 L378.67,103.53 L378.78,103.53 L378.89,103.53 L378.99,103.53 L379.10,103.53 L379.21,103.53 L379.31,103.53 L379.42,103.53 L379.53,103.53 L379.63,103.53 L379.74,103.53 L379.85,103.53 L379.95,103.53 L380.06,103.53 L380.17,103.53 L380.27,103.53 L380.38,103.53 L380.49,103.53 L380.59,103.53 L380.70,103.53 L380.81,103.53 L380.91,103.53 L381.02,103.53 L381.13,103.53 L381.23,103.53 L381.34,103.53 L381.45,103.53 L381.55,103.53 L381.66,103.53 L381.77,103.53 L381.87,103.53 L381.98,103.53 L382.09,103.53 L382.19,103.53 L382.30,103.53 L382.41,103.53 L382.51,103.53 L382.62,103.53 L382.73,103.53 L382.83,103.53 L382.94,103.53 L383.05,103.53 L383.15,103.53 L383.26,103.53 L383.37,103.53 L383.47,103.53 L383.58,103.53 L383.69,103.53 L383.79,103.53 L383.90,103.53 L384.01,103.53 L384.11,103.53 L384.22,103.53 L384.33,103.53 L384.43,103.53 L384.54,103.53 L384.65,103.53 L384.75,103.53 L384.86,103.53 L384.97,103.53 L385.07,103.53 L385.18,103.53 L385.29,103.53 L385.39,103.53 L385.50,103.53 L385.61,103.53 L385.71,103.53 L385.82,103.53 L385.93,103.53 L386.03,103.53 L386.14,103.53 L386.25,103.53 L386.35,103.53 L386.46,103.53 L386.57,103.53 L386.67,103.53 L386.78,103.53 L386.89,103.53 L386.99,103.53 L387.10,103.53 L387.21,103.53 L387.31,103.53 L387.42,103.53 L387.53,103.53 L387.64,103.53 L387.74,103.53 L387.85,103.53 L387.96,103.53 L388.06,103.53 L388.17,103.53 L388.28,103.53 L388.38,103.53 L388.49,103.53 L388.60,103.53 L388.70,103.53 L388.81,103.53 L388.92,103.53 L389.02,103.53 L389.13,103.53 L389.24,103.53 L389.34,103.53 L389.45,103.53 L389.56,103.53 L389.66,103.53 L389.77,103.53 L389.88,103.53 L389.98,103.53 L390.09,103.53 L390.20,103.53 L390.30,103.53 L390.41,103.53 L390.52,103.53 L390.62,103.53 L390.73,103.53 L390.84,103.53 L390.94,103.53 L391.05,103.53 L391.16,103.53 L391.26,103.53 L391.37,103.53 L391.48,103.53 L391.58,103.53 L391.69,103.53 L391.80,103.53 L391.90,103.53 L392.01,103.53 L392.12,103.53 L392.22,103.53 L392.33,103.53 L392.44,103.53 L392.54,103.53 L392.65,103.53 L392.76,103.53 L392.86,103.53 L392.97,103.53 L393.08,103.53 L393.18,103.53 L393.29,103.53 L393.40,103.53 L393.50,103.53 L393.61,103.53 L393.72,103.53 L393.82,103.53 L393.93,103.53 L394.04,103.53 L394.14,103.53 L394.25,103.53 L394.36,103.53 L394.40,103.53 L394.46,103.01 L394.57,102.15 L394.68,101.32 L394.78,100.52 L394.89,99.75 L395.00,98.99 L395.10,98.26 L395.21,97.55 L395.32,96.87 L395.42,96.20 L395.53,95.56 L395.64,94.93 L395.74,94.32 L395.85,93.74 L395.96,93.16 L396.06,92.61 L396.17,92.08 L396.28,91.56 L396.38,91.05 L396.49,90.57 L396.60,90.09 L396.70,89.63 L396.81,89.19 L396.92,88.76 L397.02,88.34 L397.13,87.93 L397.24,87.54 L397.34,87.16 L397.45,86.79 L397.56,86.43 L397.67,86.09 L397.77,85.75 L397.88,85.42 L397.99,85.11 L398.09,84.80 L398.20,84.50 L398.31,84.22 L398.41,83.94 L398.52,83.67 L398.63,83.40 L398.73,83.15 L398.84,82.90 L398.95,82.66 L399.05,82.43 L399.16,82.21 L399.27,81.99 L399.37,81.78 L399.48,81.57 L399.59,81.37 L399.69,81.18 L399.80,80.99 L399.91,80.81 L400.01,80.64 L400.12,80.47 L400.23,80.30 L400.33,80.14 L400.44,79.99 L400.55,79.84 L400.65,79.69 L400.76,79.55 L400.87,79.41 L400.97,79.28 L401.08,79.15 L401.19,79.03 L401.29,78.91 L401.40,78.79 L401.51,78.68 L401.61,78.57 L401.72,78.46 L401.83,78.36 L401.93,78.26 L402.04,78.16 L402.15,78.06 L402.25,77.97 L402.36,77.88 L402.47,77.80 L402.57,77.71 L402.68,77.63 L402.79,77.56 L402.89,77.48 L403.00,77.41 L403.11,77.33 L403.21,77.27 L403.32,77.20 L403.43,77.13 L403.53,77.07 L403.64,77.01 L403.75,76.95 L403.85,76.89 L403.96,76.84 L404.07,76.78 L404.17,76.73 L404.28,76.68 L404.39,76.63 L404.49,76.58 L404.60,76.54 L404.71,76.49 L404.81,76.45 L404.92,76.41 L405.03,76.37 L405.13,76.33 L405.24,76.29 L405.35,76.25 L405.45,76.21 L405.56,76.18 L405.67,76.15 L405.77,76.11 L405.88,76.08 L405.99,76.05 L406.09,76.02 L406.20,75.99 L406.31,75.96 L406.41,75.94 L406.52,75.91 L406.63,75.88 L406.73,75.86 L406.84,75.83 L406.95,75.81 L407.05,75.79 L407.16,75.77 L407.27,75.75 L407.37,75.72 L407.48,75.70 L407.59,75.69 L407.70,75.67 L407.80,75.65 L407.91,75.63 L408.02,75.61 L408.12,75.60 L408.23,75.58 L408.34,75.57 L408.44,75.55 L408.55,75.54 L408.66,75.52 L408.76,75.51 L408.87,75.49 L408.98,75.48 L409.08,75.47 L409.19,75.46 L409.30,75.44 L409.40,75.43 L409.51,75.42 L409.62,75.41 L409.72,75.40 L409.83,75.39 L409.94,75.38 L410.04,75.37 L410.15,75.36 L410.26,75.35 L410.36,75.34 L410.47,75.34 L410.58,75.33 L410.68,75.32 L410.79,75.31 L410.90,75.31 L411.00,75.30 L411.11,75.29 L411.22,75.28 L411.32,75.28 L411.43,75.27 L411.54,75.27 L411.64,75.26 L411.75,75.25 L411.86,75.25 L411.96,75.24 L412.07,75.24 L412.18,75.23 L412.28,75.23 L412.39,75.22 L412.50,75.22 L412.60,75.21 L412.71,75.21 L412.82,75.20 L412.92,75.20 L413.03,75.20 L413.14,75.19 L413.24,75.19 L413.35,75.19 L413.46,75.18 L413.56,75.18 L413.67,75.18 L413.78,75.17 L413.88,75.17 L413.99,75.17 L414.10,75.16 L414.20,75.16 L414.31,75.16 L414.42,75.15 L414.52,75.15 L414.63,75.15 L414.74,75.15 L414.84,75.14 L414.95,75.14 L415.06,75.14 L415.16,75.14 L415.27,75.14 L415.38,75.13 L415.48,75.13 L415.59,75.13 L415.70,75.13 L415.80,75.13 L415.91,75.12 L416.02,75.12 L416.12,75.12 L416.23,75.12 L416.34,75.12 L416.44,75.12 L416.55,75.12 L416.66,75.11 L416.76,75.11 L416.87,75.11 L416.98,75.11 L417.08,75.11 L417.19,75.11 L417.30,75.11 L417.41,75.11 L417.51,75.10 L417.62,75.10 L417.73,75.10 L417.83,75.10 L417.94,75.10 L418.05,75.10 L418.15,75.10 L418.26,75.10 L418.37,75.10 L418.47,75.10 L418.58,75.10 L418.69,75.09 L418.79,75.09 L418.90,75.09 L419.01,75.09 L419.11,75.09 L419.22,75.09 L419.33,75.09 L419.43,75.09 L419.54,75.09 L419.65,75.09 L419.75,75.09 L419.86,75.09 L419.97,75.09 L420.07,75.09 L420.18,75.09 L420.29,75.09 L420.39,75.08 L420.50,75.08 L420.61,75.08 L420.71,75.08 L420.82,75.08 L420.93,75.08 L421.03,75.08 L421.14,75.08 L421.25,75.08 L421.35,75.08 L421.46,75.08 L421.57,75.08 L421.67,75.08 L421.78,75.08 L421.89,75.08 L421.99,75.08 L422.10,75.08 L422.21,75.08 L422.31,75.08 L422.42,75.08 L422.53,75.08 L422.63,75.08 L422.74,75.08 L422.85,75.08 L422.95,75.08 L423.06,75.08 L423.17,75.08 L423.27,75.08 L423.38,75.08 L423.49,75.08 L423.59,75.08 L423.70,75.08 L423.81,75.08 L423.91,75.08 L424.02,75.08 L424.13,75.08 L424.23,75.07 L424.34,75.07 L424.45,75.07 L424.55,75.07 L424.66,75.07 L424.77,75.07 L424.87,75.07 L424.98,75.07 L425.09,75.07 L425.19,75.07 L425.30,75.07 L425.41,75.07 L425.51,75.07 L425.62,75.07 L425.73,75.07 L425.83,75.07 L425.94,75.07 L426.05,75.07 L426.15,75.07 L426.26,75.07 L426.37,75.07 L426.47,75.07 L426.58,75.07 L426.69,75.07 L426.79,75.07 L426.90,75.07 L427.01,75.07 L427.11,75.07 L427.22,75.07 L427.33,75.07 L427.44,75.07 L427.54,75.07 L427.65,75.07 L427.76,75.07 L427.86,75.07 L427.97,75.07 L428.08,75.07 L428.18,75.07 L428.29,75.07 L428.40,75.07 L428.50,75.07 L428.61,75.07 L428.72,75.07 L428.82,75.07 L428.93,75.07 L429.04,75.07 L429.14,75.07 L429.25,75.07 L429.36,75.07 L429.46,75.07 L429.57,75.07 L429.68,75.07 L429.78,75.07 L429.89,75.07 L430.00,75.07 L430.10,75.07 L430.21,75.07 L430.32,75.07 L430.42,75.07 L430.53,75.07 L430.64,75.07 L430.74,75.07 L430.85,75.07 L430.96,75.07 L431.06,75.07 L431.17,75.07 L431.28,75.07 L431.38,75.07 L431.49,75.07 L431.60,75.07 L431.70,75.07 L431.81,75.07 L431.92,75.07 L432.02,75.07 L432.13,75.07 L432.24,75.07 L432.34,75.07 L432.45,75.07 L432.56,75.07 L432.66,75.07 L432.77,75.07 L432.88,75.07 L432.98,75.07 L433.09,75.07 L433.20,75.07 L433.30,75.07 L433.41,75.07 L433.52,75.07 L433.62,75.07 L433.73,75.07 L433.84,75.07 L433.94,75.07 L434.05,75.07 L434.16,75.07 L434.26,75.07 L434.37,75.07 L434.48,75.07 L434.58,75.07 L434.69,75.07 L434.80,75.07 L434.90,75.07 L435.01,75.07 L435.12,75.07 L435.22,75.07 L435.33,75.07 L435.44,75.07 L435.54,75.07 L435.65,75.07 L435.76,75.07 L435.86,75.07 L435.97,75.07 L436.08,75.07 L436.18,75.07 L436.29,75.07 L436.40,75.07 L436.50,75.07 L436.61,75.07 L436.72,75.07 L436.82,75.07 L436.93,75.07 L437.04,75.07 L437.14,75.07 L437.25,75.07 L437.36,75.07 L437.47,75.07 L437.57,75.07 L437.68,75.07 L437.79,75.07 L437.89,75.07 L438.00,75.07 L438.11,75.07 L438.21,75.07 L438.32,75.07 L438.43,75.07 L438.53,75.07 L438.64,75.07 L438.75,75.07 L438.85,75.07 L438.96,75.07 L439.07,75.07 L439.17,75.07 L439.28,75.07 L439.39,75.07 L439.49,75.07 L439.60,75.07 L439.71,75.07 L439.81,75.07 L439.92,75.07 L440.03,75.07 L440.13,75.07 L440.24,75.07 L440.35,75.07 L440.45,75.07 L440.56,75.07 L440.67,75.07 L440.77,75.07 L440.88,75.07 L440.99,75.07 L441.09,75.07 L441.20,75.07 L441.31,75.07 L441.41,75.07 L441.52,75.07 L441.63,75.07 L441.73,75.07 L441.84,75.07 L441.95,75.07 L442.05,75.07 L442.16,75.07 L442.27,75.07 L442.37,75.07 L442.40,75.07 L442.48,74.42 L442.59,73.57 L442.69,72.74 L442.80,71.94 L442.91,71.17 L443.01,70.42 L443.12,69.69 L443.23,68.99 L443.33,68.31 L443.44,67.64 L443.55,67.00 L443.65,66.38 L443.76,65.77 L443.87,65.19 L443.97,64.62 L444.08,64.07 L444.19,63.54 L444.29,63.02 L444.40,62.52 L444.51,62.03 L444.61,61.56 L444.72,61.11 L444.83,60.66 L444.93,60.23 L445.04,59.82 L445.15,59.41 L445.25,59.02 L445.36,58.64 L445.47,58.28 L445.57,57.92 L445.68,57.57 L445.79,57.24 L445.89,56.92 L446.00,56.60 L446.11,56.30 L446.21,56.00 L446.32,55.71 L446.43,55.43 L446.53,55.17 L446.64,54.90 L446.75,54.65 L446.85,54.41 L446.96,54.17 L447.07,53.94 L447.17,53.71 L447.28,53.50 L447.39,53.29 L447.50,53.08 L447.60,52.88 L447.71,52.69 L447.82,52.51 L447.92,52.33 L448.03,52.15 L448.14,51.98 L448.24,51.82 L448.35,51.66 L448.46,51.51 L448.56,51.36 L448.67,51.21 L448.78,51.07 L448.88,50.93 L448.99,50.80 L449.10,50.67 L449.20,50.55 L449.31,50.43 L449.42,50.31 L449.52,50.20 L449.63,50.09 L449.74,49.98 L449.84,49.88 L449.95,49.78 L450.06,49.68 L450.16,49.59 L450.27,49.50 L450.38,49.41 L450.48,49.33 L450.59,49.24 L450.70,49.16 L450.80,49.08 L450.91,49.01 L451.02,48.94 L451.12,48.86 L451.23,48.80 L451.34,48.73 L451.44,48.66 L451.55,48.60 L451.66,48.54 L451.76,48.48 L451.87,48.42 L451.98,48.37 L452.08,48.32 L452.19,48.26 L452.30,48.21 L452.40,48.16 L452.51,48.12 L452.62,48.07 L452.72,48.03 L452.83,47.98 L452.94,47.94 L453.04,47.90 L453.15,47.86 L453.26,47.82 L453.36,47.79 L453.47,47.75 L453.58,47.71 L453.68,47.68 L453.79,47.65 L453.90,47.62 L454.00,47.59 L454.11,47.56 L454.22,47.53 L454.32,47.50 L454.43,47.47 L454.54,47.45 L454.64,47.42 L454.75,47.40 L454.86,47.37 L454.96,47.35 L455.07,47.33 L455.18,47.30 L455.28,47.28 L455.39,47.26 L455.50,47.24 L455.60,47.22 L455.71,47.20 L455.82,47.19 L455.92,47.17 L456.03,47.15 L456.14,47.13 L456.24,47.12 L456.35,47.10 L456.46,47.09 L456.56,47.07 L456.67,47.06 L456.78,47.05 L456.88,47.03 L456.99,47.02 L457.10,47.01 L457.20,46.99 L457.31,46.98 L457.42,46.97 L457.53,46.96 L457.63,46.95 L457.74,46.94 L457.85,46.93 L457.95,46.92 L458.06,46.91 L458.17,46.90 L458.27,46.89 L458.38,46.88 L458.49,46.88 L458.59,46.87 L458.70,46.86 L458.81,46.85 L458.91,46.84 L459.02,46.84 L459.13,46.83 L459.23,46.82 L459.34,46.82 L459.45,46.81 L459.55,46.80 L459.66,46.80 L459.77,46.79 L459.87,46.79 L459.98,46.78 L460.09,46.78 L460.19,46.77 L460.30,46.77 L460.41,46.76 L460.51,46.76 L460.62,46.75 L460.73,46.75 L460.83,46.74 L460.94,46.74 L461.05,46.74 L461.15,46.73 L461.26,46.73 L461.37,46.72 L461.47,46.72 L461.58,46.72 L461.69,46.71 L461.79,46.71 L461.90,46.71 L462.01,46.71 L462.11,46.70 L462.22,46.70 L462.33,46.70 L462.43,46.69 L462.54,46.69 L462.65,46.69 L462.75,46.69 L462.86,46.68 L462.97,46.68 L463.07,46.68 L463.18,46.68 L463.29,46.68 L463.39,46.67 L463.50,46.67 L463.61,46.67 L463.71,46.67 L463.82,46.67 L463.93,46.66 L464.03,46.66 L464.14,46.66 L464.25,46.66 L464.35,46.66 L464.46,46.66 L464.57,46.66 L464.67,46.65 L464.78,46.65 L464.89,46.65 L464.99,46.65 L465.10,46.65 L465.21,46.65 L465.31,46.65 L465.42,46.65 L465.53,46.64 L465.63,46.64 L465.74,46.64 L465.85,46.64 L465.95,46.64 L466.06,46.64 L466.17,46.64 L466.27,46.64 L466.38,46.64 L466.49,46.64 L466.59,46.64 L466.70,46.63 L466.81,46.63 L466.91,46.63 L467.02,46.63 L467.13,46.63 L467.23,46.63 L467.34,46.63 L467.45,46.63 L467.56,46.63 L467.66,46.63 L467.77,46.63 L467.88,46.63 L467.98,46.63 L468.09,46.63 L468.20,46.63 L468.30,46.63 L468.41,46.62 L468.52,46.62 L468.62,46.62 L468.73,46.62 L468.84,46.62 L468.94,46.62 L469.05,46.62 L469.16,46.62 L469.26,46.62 L469.37,46.62 L469.48,46.62 L469.58,46.62 L469.69,46.62 L469.80,46.62 L469.90,46.62 L470.01,46.62 L470.12,46.62 L470.22,46.62 L470.33,46.62 L470.44,46.62 L470.54,46.62 L470.65,46.62 L470.76,46.62 L470.86,46.62 L470.97,46.62 L471.08,46.62 L471.18,46.62 L471.29,46.62 L471.40,46.62 L471.50,46.62 L471.61,46.62 L471.72,46.62 L471.82,46.62 L471.93,46.62 L472.04,46.62 L472.14,46.62 L472.25,46.61 L472.36,46.61 L472.46,46.61 L472.57,46.61 L472.68,46.61 L472.78,46.61 L472.89,46.61 L473.00,46.61 L473.10,46.61 L473.21,46.61 L473.32,46.61 L473.42,46.61 L473.53,46.61 L473.64,46.61 L473.74,46.61 L473.85,46.61 L473.96,46.61 L474.06,46.61 L474.17,46.61 L474.28,46.61 L474.38,46.61 L474.49,46.61 L474.60,46.61 L474.70,46.61 L474.81,46.61 L474.92,46.61 L475.02,46.61 L475.13,46.61 L475.24,46.61 L475.34,46.61 L475.45,46.61 L475.56,46.61 L475.66,46.61 L475.77,46.61 L475.88,46.61 L475.98,46.61 L476.09,46.61 L476.20,46.61 L476.30,46.61 L476.41,46.61 L476.52,46.61 L476.62,46.61 L476.73,46.61 L476.84,46.61 L476.94,46.61 L477.05,46.61 L477.16,46.61 L477.26,46.61 L477.37,46.61 L477.48,46.61 L477.59,46.61 L477.69,46.61 L477.80,46.61 L477.91,46.61 L478.01,46.61 L478.12,46.61 L478.23,46.61 L478.33,46.61 L478.44,46.61 L478.55,46.61 L478.65,46.61 L478.76,46.61 L478.87,46.61 L478.97,46.61 L479.08,46.61 L479.19,46.61 L479.29,46.61 L479.40,46.61 L479.51,46.61 L479.61,46.61 L479.72,46.61 L479.83,46.61 L479.93,46.61 L480.04,46.61 L480.15,46.61 L480.25,46.61 L480.36,46.61 L480.47,46.61 L480.57,46.61 L480.68,46.61 L480.79,46.61 L480.89,46.61 L481.00,46.61 L481.11,46.61 L481.21,46.61 L481.32,46.61 L481.43,46.61 L481.53,46.61 L481.64,46.61 L481.75,46.61 L481.85,46.61 L481.96,46.61 L482.07,46.61 L482.17,46.61 L482.28,46.61 L482.39,46.61 L482.49,46.61 L482.60,46.61 L482.71,46.61 L482.81,46.61 L482.92,46.61 L483.03,46.61 L483.13,46.61 L483.24,46.61 L483.35,46.61 L483.45,46.61 L483.56,46.61 L483.67,46.61 L483.77,46.61 L483.88,46.61 L483.99,46.61 L484.09,46.61 L484.20,46.61 L484.31,46.61 L484.41,46.61 L484.52,46.61 L484.63,46.61 L484.73,46.61 L484.84,46.61 L484.95,46.61 L485.05,46.61 L485.16,46.61 L485.27,46.61 L485.37,46.61 L485.48,46.61 L485.59,46.61 L485.69,46.61 L485.80,46.61 L485.91,46.61 L486.01,46.61 L486.12,46.61 L486.23,46.61 L486.33,46.61 L486.44,46.61 L486.55,46.61 L486.65,46.61 L486.76,46.61 L486.87,46.61 L486.97,46.61 L487.08,46.61 L487.19,46.61 L487.29,46.61 L487.40,46.61 L487.51,46.61 L487.62,46.61 L487.72,46.61 L487.83,46.61 L487.94,46.61 L488.04,46.61 L488.15,46.61 L488.26,46.61 L488.36,46.61 L488.47,46.61 L488.58,46.61 L488.68,46.61 L488.79,46.61 L488.90,46.61 L489.00,46.61 L489.11,46.61 L489.22,46.61 L489.32,46.61 L489.43,46.61 L489.54,46.61 L489.64,46.61 L489.75,46.61 L489.86,46.61 L489.96,46.61 L490.07,46.61 L490.18,46.61 L490.28,46.61 L490.39,46.61 L490.40,46.61 L490.50,45.83 L490.60,44.98 L490.71,44.16 L490.82,43.37 L490.92,42.60 L491.03,41.85 L491.14,41.13 L491.24,40.42 L491.35,39.74 L491.46,39.08 L491.56,38.45 L491.67,37.83 L491.78,37.22 L491.88,36.64 L491.99,36.08 L492.10,35.53 L492.20,35.00 L492.31,34.48 L492.42,33.99 L492.52,33.50 L492.63,33.03 L492.74,32.58 L492.84,32.14 L492.95,31.71 L493.06,31.30 L493.16,30.89 L493.27,30.51 L493.38,30.13 L493.48,29.76 L493.59,29.41 L493.70,29.06 L493.80,28.73 L493.91,28.41 L494.02,28.09 L494.12,27.79 L494.23,27.50 L494.34,27.21 L494.44,26.93 L494.55,26.67 L494.66,26.41 L494.76,26.15 L494.87,25.91 L494.98,25.67 L495.08,25.44 L495.19,25.22 L495.30,25.00 L495.40,24.79 L495.51,24.59 L495.62,24.39 L495.72,24.20 L495.83,24.02 L495.94,23.84 L496.04,23.67 L496.15,23.50 L496.26,23.33 L496.36,23.18 L496.47,23.02 L496.58,22.87 L496.68,22.73 L496.79,22.59 L496.90,22.45 L497.00,22.32 L497.11,22.19 L497.22,22.07 L497.32,21.95 L497.43,21.84 L497.54,21.72 L497.65,21.61 L497.75,21.51 L497.86,21.41 L497.97,21.31 L498.07,21.21 L498.18,21.12 L498.29,21.03 L498.39,20.94 L498.50,20.85 L498.61,20.77 L498.71,20.69 L498.82,20.61 L498.93,20.54 L499.03,20.46 L499.14,20.39 L499.25,20.33 L499.35,20.26 L499.46,20.19 L499.57,20.13 L499.67,20.07 L499.78,20.01 L499.89,19.96 L499.99,19.90 L500.10,19.85 L500.21,19.80 L500.31,19.75 L500.42,19.70 L500.53,19.65 L500.63,19.60 L500.74,19.56 L500.85,19.52 L500.95,19.47 L501.06,19.43 L501.17,19.39 L501.27,19.36 L501.38,19.32 L501.49,19.28 L501.59,19.25 L501.70,19.22 L501.81,19.18 L501.91,19.15 L502.02,19.12 L502.13,19.09 L502.23,19.06 L502.34,19.03 L502.45,19.01 L502.55,18.98 L502.66,18.96 L502.77,18.93 L502.87,18.91 L502.98,18.88 L503.09,18.86 L503.19,18.84 L503.30,18.82 L503.41,18.80 L503.51,18.78 L503.62,18.76 L503.73,18.74 L503.83,18.72 L503.94,18.71 L504.05,18.69 L504.15,18.67 L504.26,18.66 L504.37,18.64 L504.47,18.63 L504.58,18.61 L504.69,18.60 L504.79,18.58 L504.90,18.57 L505.01,18.56 L505.11,18.54 L505.22,18.53 L505.33,18.52 L505.43,18.51 L505.54,18.50 L505.65,18.49 L505.75,18.48 L505.86,18.47 L505.97,18.46 L506.07,18.45 L506.18,18.44 L506.29,18.43 L506.39,18.42 L506.50,18.41 L506.61,18.41 L506.71,18.40 L506.82,18.39 L506.93,18.38 L507.03,18.38 L507.14,18.37 L507.25,18.36 L507.35,18.36 L507.46,18.35 L507.57,18.34 L507.68,18.34 L507.78,18.33 L507.89,18.33 L508.00,18.32 L508.10,18.32 L508.21,18.31 L508.32,18.31 L508.42,18.30 L508.53,18.30 L508.64,18.29 L508.74,18.29 L508.85,18.28 L508.96,18.28 L509.06,18.28 L509.17,18.27 L509.28,18.27 L509.38,18.26 L509.49,18.26 L509.60,18.26 L509.70,18.25 L509.81,18.25 L509.92,18.25 L510.02,18.24 L510.13,18.24 L510.24,18.24 L510.34,18.24 L510.45,18.23 L510.56,18.23 L510.66,18.23 L510.77,18.23 L510.88,18.22 L510.98,18.22 L511.09,18.22 L511.20,18.22 L511.30,18.22 L511.41,18.21 L511.52,18.21 L511.62,18.21 L511.73,18.21 L511.84,18.21 L511.94,18.20 L512.05,18.20 L512.16,18.20 L512.26,18.20 L512.37,18.20 L512.48,18.20 L512.58,18.20 L512.69,18.19 L512.80,18.19 L512.90,18.19 L513.01,18.19 L513.12,18.19 L513.22,18.19 L513.33,18.19 L513.44,18.19 L513.54,18.18 L513.65,18.18 L513.76,18.18 L513.86,18.18 L513.97,18.18 L514.08,18.18 L514.18,18.18 L514.29,18.18 L514.40,18.18 L514.50,18.18 L514.61,18.17 L514.72,18.17 L514.82,18.17 L514.93,18.17 L515.04,18.17 L515.14,18.17 L515.25,18.17 L515.36,18.17 L515.46,18.17 L515.57,18.17 L515.68,18.17 L515.78,18.17 L515.89,18.17 L516.00,18.17 L516.10,18.17 L516.21,18.17 L516.32,18.17 L516.42,18.16 L516.53,18.16 L516.64,18.16 L516.74,18.16 L516.85,18.16 L516.96,18.16 L517.06,18.16 L517.17,18.16 L517.28,18.16 L517.38,18.16 L517.49,18.16 L517.60,18.16 L517.71,18.16 L517.81,18.16 L517.92,18.16 L518.03,18.16 L518.13,18.16 L518.24,18.16 L518.35,18.16 L518.45,18.16 L518.56,18.16 L518.67,18.16 L518.77,18.16 L518.88,18.16 L518.99,18.16 L519.09,18.16 L519.20,18.16 L519.31,18.16 L519.41,18.16 L519.52,18.16 L519.63,18.16 L519.73,18.16 L519.84,18.16 L519.95,18.16 L520.05,18.16 L520.16,18.15 L520.27,18.15 L520.37,18.15 L520.48,18.15 L520.59,18.15 L520.69,18.15 L520.80,18.15 L520.91,18.15 L521.01,18.15 L521.12,18.15 L521.23,18.15 L521.33,18.15 L521.44,18.15 L521.55,18.15 L521.65,18.15 L521.76,18.15 L521.87,18.15 L521.97,18.15 L522.08,18.15 L522.19,18.15 L522.29,18.15 L522.40,18.15" stroke="#0a0aff" stroke-width="2.0"/>
<path d="M202.40,160.45 L202.76,158.32 L203.12,156.25 L203.48,154.22 L203.84,152.24 L204.20,150.32 L204.56,148.44 L204.92,146.62 L205.28,144.86 L205.65,143.14 L206.01,141.49 L206.37,139.89 L206.73,138.34 L206.80,138.04 L207.09,136.84 L207.45,135.36 L207.81,133.92 L208.17,132.52 L208.53,131.17 L208.89,129.89 L209.25,128.69 L209.61,127.58 L209.97,126.58 L210.08,126.30 L210.33,125.67 L210.69,124.82 L211.05,124.02 L211.42,123.27 L211.78,122.55 L212.14,121.88 L212.50,121.24 L212.86,120.63 L213.22,120.03 L213.44,119.68 L213.58,119.46 L213.94,118.91 L214.30,118.38 L214.66,117.87 L215.02,117.37 L215.38,116.89 L215.74,116.43 L216.10,115.98 L216.46,115.54 L216.82,115.12 L217.18,114.70 L217.55,114.30 L217.76,114.06 L217.91,113.90 L218.27,113.51 L218.63,113.13 L218.99,112.77 L219.35,112.41 L219.71,112.06 L220.07,111.71 L220.43,111.38 L220.79,111.05 L221.15,110.73 L221.51,110.41 L221.87,110.10 L222.23,109.80 L222.24,109.79 L222.59,109.49 L222.95,109.19 L223.32,108.89 L223.68,108.60 L224.04,108.30 L224.40,108.01 L224.76,107.72 L225.12,107.44 L225.48,107.16 L225.84,106.89 L226.20,106.62 L226.56,106.36 L226.92,106.11 L227.28,105.87 L227.64,105.64 L228.00,105.41 L228.36,105.20 L228.72,104.99 L228.80,104.95 L229.08,104.80 L229.45,104.62 L229.81,104.44 L230.17,104.27 L230.53,104.11 L230.89,103.95 L231.25,103.79 L231.61,103.64 L231.97,103.50 L232.33,103.35 L232.69,103.21 L233.05,103.07 L233.41,102.93 L233.77,102.78 L234.13,102.64 L234.40,102.53 L234.49,102.50 L234.85,102.35 L235.22,102.21 L235.58,102.07 L235.94,101.93 L236.30,101.79 L236.66,101.65 L237.02,101.52 L237.38,101.38 L237.74,101.25 L238.10,101.12 L238.46,100.98 L238.82,100.85 L239.18,100.72 L239.54,100.59 L239.90,100.45 L240.26,100.32 L240.62,100.19 L240.98,100.06 L241.35,99.92 L241.60,99.83 L241.71,99.79 L242.07,99.66 L242.43,99.52 L242.79,99.39 L243.15,99.26 L243.51,99.13 L243.87,98.99 L244.23,98.86 L244.59,98.73 L244.95,98.60 L245.31,98.47 L245.67,98.33 L246.03,98.20 L246.39,98.07 L246.75,97.94 L247.12,97.81 L247.48,97.68 L247.84,97.55 L248.20,97.42 L248.56,97.29 L248.92,97.16 L249.28,97.03 L249.64,96.90 L250.00,96.77 L250.00,96.77 L250.36,97.67 L250.72,98.56 L251.08,99.43 L251.43,100.27 L251.79,101.10 L252.15,101.92 L252.51,102.71 L252.87,103.47 L253.23,104.22 L253.59,104.95 L253.94,105.65 L254.30,106.33 L254.66,106.98 L254.72,107.09 L255.02,107.62 L255.38,108.28 L255.74,108.93 L256.09,109.58 L256.45,110.21 L256.81,110.82 L257.17,111.40 L257.53,111.95 L257.89,112.44 L258.25,112.89 L258.60,113.27 L258.96,113.59 L259.12,113.70 L259.32,113.84 L259.68,114.07 L260.04,114.30 L260.40,114.51 L260.76,114.72 L261.11,114.91 L261.47,115.10 L261.83,115.27 L262.19,115.44 L262.55,115.59 L262.91,115.73 L263.27,115.86 L263.62,115.99 L263.98,116.10 L264.34,116.20 L264.70,116.29 L265.06,116.36 L265.42,116.43 L265.73,116.48 L265.77,116.49 L266.13,116.54 L266.49,116.59 L266.85,116.63 L267.21,116.68 L267.57,116.72 L267.93,116.77 L268.28,116.81 L268.64,116.85 L269.00,116.89 L269.36,116.92 L269.72,116.96 L270.08,116.99 L270.44,117.02 L270.79,117.05 L271.15,117.08 L271.51,117.11 L271.87,117.13 L272.23,117.15 L272.59,117.17 L272.95,117.19 L273.30,117.21 L273.66,117.22 L274.02,117.24 L274.38,117.25 L274.74,117.25 L275.10,117.26 L275.30,117.26 L275.45,117.26 L275.81,117.27 L276.17,117.27 L276.53,117.27 L276.89,117.28 L277.25,117.28 L277.61,117.28 L277.96,117.29 L278.32,117.29 L278.68,117.29 L279.04,117.29 L279.40,117.30 L279.76,117.30 L280.12,117.30 L280.47,117.30 L280.83,117.31 L281.19,117.31 L281.55,117.31 L281.91,117.31 L282.27,117.31 L282.63,117.32 L282.98,117.32 L283.34,117.32 L283.70,117.32 L284.06,117.32 L284.42,117.32 L284.78,117.32 L285.13,117.33 L285.49,117.33 L285.85,117.33 L286.21,117.33 L286.57,117.33 L286.93,117.33 L287.29,117.33 L287.64,117.33 L288.00,117.33 L288.36,117.33 L288.72,117.33 L289.08,117.33 L289.44,117.33 L289.80,117.33 L290.00,117.33 L290.15,117.33 L290.51,117.31 L290.87,117.27 L291.23,117.20 L291.59,117.13 L291.95,117.04 L292.31,116.94 L292.66,116.83 L293.02,116.72 L293.38,116.60 L293.74,116.49 L294.10,116.38 L294.46,116.27 L294.81,116.17 L295.17,116.09 L295.53,116.02 L295.89,115.96 L296.25,115.92 L296.61,115.91 L296.64,115.91 L296.97,115.98 L297.32,116.19 L297.68,116.49 L298.04,116.84 L298.40,117.19 L298.40,117.19 L298.76,118.01 L299.12,118.82 L299.47,119.61 L299.83,120.39 L300.19,121.13 L300.55,121.86 L300.91,122.56 L301.27,123.23 L301.62,123.86 L301.98,124.47 L302.34,125.03 L302.70,125.56 L302.72,125.59 L303.06,126.06 L303.41,126.55 L303.77,127.03 L304.13,127.50 L304.49,127.96 L304.85,128.40 L305.21,128.83 L305.56,129.24 L305.92,129.63 L306.28,130.01 L306.64,130.36 L307.00,130.69 L307.36,130.99 L307.71,131.27 L308.07,131.52 L308.43,131.75 L308.48,131.78 L308.79,131.95 L309.15,132.15 L309.50,132.33 L309.86,132.51 L310.22,132.69 L310.58,132.85 L310.94,133.01 L311.30,133.17 L311.65,133.31 L312.01,133.45 L312.37,133.58 L312.73,133.70 L313.09,133.82 L313.44,133.93 L313.80,134.04 L314.16,134.13 L314.52,134.22 L314.88,134.31 L315.24,134.38 L315.36,134.41 L315.59,134.46 L315.95,134.52 L316.31,134.59 L316.67,134.66 L317.03,134.72 L317.39,134.78 L317.74,134.84 L318.10,134.90 L318.46,134.95 L318.82,135.01 L319.18,135.06 L319.53,135.11 L319.89,135.16 L320.25,135.21 L320.61,135.26 L320.97,135.30 L321.33,135.35 L321.68,135.39 L322.04,135.44 L322.40,135.48 L322.76,135.52 L323.12,135.56 L323.47,135.60 L323.83,135.63 L324.19,135.67 L324.55,135.71 L324.91,135.74 L325.27,135.78 L325.62,135.82 L325.98,135.85 L326.34,135.88 L326.70,135.92 L327.06,135.95 L327.41,135.98 L327.77,136.02 L328.13,136.05 L328.49,136.08 L328.85,136.12 L329.21,136.15 L329.56,136.18 L329.92,136.21 L330.28,136.25 L330.40,136.26 L330.64,136.28 L331.00,136.31 L331.36,136.34 L331.71,136.37 L332.07,136.39 L332.43,136.42 L332.79,136.44 L333.15,136.46 L333.50,136.48 L333.86,136.50 L334.22,136.52 L334.58,136.54 L334.94,136.56 L335.30,136.58 L335.65,136.59 L336.01,136.61 L336.37,136.62 L336.73,136.64 L337.09,136.66 L337.44,136.67 L337.80,136.69 L338.16,136.71 L338.52,136.73 L338.88,136.75 L339.24,136.77 L339.59,136.79 L339.95,136.81 L340.31,136.83 L340.67,136.86 L341.03,136.89 L341.39,136.92 L341.74,136.95 L342.10,136.98 L342.46,137.01 L342.82,137.05 L343.18,137.09 L343.53,137.13 L343.89,137.17 L344.25,137.22 L344.61,137.27 L344.97,137.32 L345.33,137.38 L345.44,137.40 L345.68,137.47 L346.04,137.64 L346.40,137.82 L346.40,137.82 L346.76,138.35 L347.12,138.87 L347.48,139.38 L347.84,139.87 L348.20,140.36 L348.57,140.82 L348.93,141.27 L349.29,141.71 L349.65,142.12 L350.01,142.52 L350.37,142.89 L350.73,143.24 L351.09,143.57 L351.20,143.66 L351.45,143.87 L351.81,144.17 L352.17,144.46 L352.54,144.74 L352.90,145.02 L353.26,145.28 L353.62,145.54 L353.98,145.78 L354.34,146.01 L354.70,146.24 L355.06,146.45 L355.42,146.65 L355.78,146.84 L356.14,147.01 L356.51,147.17 L356.87,147.32 L356.96,147.36 L357.23,147.46 L357.59,147.59 L357.95,147.72 L358.31,147.84 L358.67,147.96 L359.03,148.08 L359.39,148.19 L359.75,148.30 L360.11,148.40 L360.48,148.50 L360.84,148.59 L361.20,148.68 L361.56,148.77 L361.92,148.85 L362.28,148.92 L362.64,148.99 L363.00,149.06 L363.36,149.12 L363.72,149.17 L364.00,149.21 L364.08,149.22 L364.45,149.27 L364.81,149.31 L365.17,149.36 L365.53,149.40 L365.89,149.44 L366.25,149.48 L366.61,149.53 L366.97,149.57 L367.33,149.60 L367.69,149.64 L368.05,149.68 L368.42,149.71 L368.78,149.75 L369.14,149.78 L369.50,149.81 L369.86,149.85 L370.22,149.88 L370.58,149.91 L370.94,149.94 L371.30,149.97 L371.66,149.99 L372.02,150.02 L372.38,150.05 L372.75,150.07 L373.11,150.09 L373.47,150.12 L373.83,150.14 L374.19,150.16 L374.55,150.18 L374.91,150.20 L375.27,150.22 L375.63,150.24 L375.99,150.26 L376.35,150.28 L376.72,150.30 L377.08,150.31 L377.44,150.33 L377.80,150.34 L377.92,150.35 L378.16,150.36 L378.52,150.37 L378.88,150.38 L379.24,150.40 L379.60,150.41 L379.96,150.43 L380.32,150.44 L380.69,150.46 L381.05,150.47 L381.41,150.48 L381.77,150.50 L382.13,150.51 L382.49,150.52 L382.85,150.54 L383.21,150.55 L383.57,150.56 L383.93,150.57 L384.29,150.58 L384.66,150.60 L385.02,150.61 L385.38,150.62 L385.74,150.63 L386.10,150.64 L386.46,150.65 L386.82,150.66 L387.18,150.67 L387.54,150.68 L387.90,150.69 L388.26,150.70 L388.63,150.71 L388.99,150.71 L389.35,150.72 L389.71,150.73 L390.07,150.73 L390.43,150.74 L390.79,150.75 L391.15,150.75 L391.51,150.76 L391.87,150.76 L392.23,150.76 L392.60,150.77 L392.96,150.77 L393.32,150.77 L393.68,150.77 L394.04,150.77 L394.40,150.77 L394.40,150.77 L394.76,150.41 L395.12,150.05 L395.47,149.69 L395.83,149.33 L396.19,148.98 L396.55,148.63 L396.91,148.29 L397.27,147.95 L397.62,147.62 L397.98,147.30 L398.34,146.98 L398.70,146.67 L398.72,146.65 L399.06,146.36 L399.41,146.05 L399.77,145.74 L400.13,145.43 L400.49,145.12 L400.85,144.82 L401.21,144.52 L401.56,144.22 L401.92,143.93 L402.28,143.64 L402.64,143.36 L403.00,143.08 L403.36,142.81 L403.71,142.55 L404.07,142.29 L404.43,142.05 L404.79,141.81 L405.15,141.58 L405.50,141.37 L405.60,141.31 L405.86,141.16 L406.22,140.95 L406.58,140.75 L406.94,140.55 L407.30,140.35 L407.65,140.16 L408.01,139.98 L408.37,139.80 L408.73,139.64 L409.09,139.48 L409.44,139.34 L409.80,139.21 L410.16,139.10 L410.40,139.03 L410.52,139.00 L410.88,138.91 L411.24,138.82 L411.59,138.74 L411.95,138.66 L412.31,138.58 L412.67,138.51 L413.03,138.44 L413.39,138.37 L413.74,138.31 L414.10,138.25 L414.46,138.20 L414.82,138.14 L415.18,138.09 L415.53,138.04 L415.89,138.00 L416.25,137.96 L416.61,137.92 L416.80,137.90 L416.97,137.88 L417.33,137.84 L417.68,137.80 L418.04,137.77 L418.40,137.73 L418.76,137.69 L419.12,137.66 L419.47,137.62 L419.83,137.59 L420.19,137.55 L420.55,137.52 L420.91,137.48 L421.27,137.45 L421.62,137.41 L421.98,137.38 L422.34,137.35 L422.70,137.31 L423.06,137.28 L423.41,137.25 L423.77,137.21 L424.13,137.18 L424.49,137.15 L424.85,137.12 L425.21,137.09 L425.56,137.06 L425.92,137.03 L426.28,137.00 L426.64,136.97 L427.00,136.94 L427.36,136.91 L427.71,136.88 L428.07,136.86 L428.43,136.83 L428.79,136.80 L429.15,136.78 L429.50,136.75 L429.86,136.73 L430.22,136.70 L430.58,136.68 L430.94,136.66 L431.30,136.63 L431.65,136.61 L432.01,136.59 L432.37,136.57 L432.73,136.55 L433.09,136.53 L433.44,136.51 L433.80,136.49 L434.16,136.47 L434.52,136.45 L434.88,136.44 L435.24,136.42 L435.59,136.41 L435.95,136.39 L436.31,136.38 L436.67,136.36 L437.03,136.35 L437.39,136.34 L437.74,136.33 L438.10,136.32 L438.46,136.31 L438.82,136.30 L439.18,136.29 L439.53,136.29 L439.89,136.28 L440.25,136.27 L440.61,136.27 L440.97,136.27 L441.33,136.26 L441.68,136.26 L442.04,136.26 L442.40,136.26 L442.40,136.26 L442.76,135.70 L443.12,135.14 L443.47,134.60 L443.83,134.06 L444.19,133.53 L444.55,133.00 L444.91,132.49 L445.27,131.99 L445.62,131.50 L445.98,131.02 L446.34,130.56 L446.70,130.11 L447.06,129.67 L447.20,129.50 L447.41,129.24 L447.77,128.82 L448.13,128.38 L448.49,127.95 L448.85,127.52 L449.21,127.10 L449.56,126.68 L449.92,126.26 L450.28,125.86 L450.64,125.47 L451.00,125.09 L451.36,124.73 L451.71,124.38 L452.07,124.05 L452.43,123.75 L452.79,123.46 L453.15,123.20 L453.50,122.97 L453.86,122.77 L453.92,122.74 L454.22,122.59 L454.58,122.41 L454.94,122.25 L455.30,122.08 L455.65,121.93 L456.01,121.78 L456.37,121.63 L456.73,121.50 L457.09,121.36 L457.44,121.24 L457.80,121.12 L458.16,121.01 L458.52,120.90 L458.88,120.81 L459.24,120.71 L459.59,120.63 L459.95,120.55 L460.31,120.48 L460.67,120.41 L460.80,120.39 L461.03,120.36 L461.39,120.30 L461.74,120.25 L462.10,120.19 L462.46,120.14 L462.82,120.10 L463.18,120.05 L463.53,120.00 L463.89,119.96 L464.25,119.92 L464.61,119.88 L464.97,119.84 L465.33,119.81 L465.68,119.77 L466.04,119.73 L466.40,119.70 L466.76,119.67 L467.12,119.64 L467.47,119.60 L467.83,119.57 L468.19,119.54 L468.55,119.51 L468.91,119.49 L469.27,119.46 L469.62,119.43 L469.98,119.40 L470.34,119.37 L470.70,119.35 L471.06,119.32 L471.41,119.29 L471.77,119.26 L472.13,119.23 L472.49,119.20 L472.85,119.18 L473.21,119.15 L473.56,119.11 L473.92,119.08 L474.28,119.05 L474.40,119.04 L474.64,119.02 L475.00,118.99 L475.36,118.95 L475.71,118.92 L476.07,118.89 L476.43,118.86 L476.79,118.82 L477.15,118.79 L477.50,118.76 L477.86,118.73 L478.22,118.70 L478.58,118.67 L478.94,118.63 L479.30,118.60 L479.65,118.57 L480.01,118.54 L480.37,118.51 L480.73,118.48 L481.09,118.45 L481.44,118.42 L481.80,118.39 L482.16,118.35 L482.52,118.32 L482.88,118.29 L483.24,118.26 L483.59,118.23 L483.95,118.20 L484.31,118.17 L484.67,118.14 L485.03,118.12 L485.39,118.09 L485.74,118.06 L486.10,118.03 L486.46,118.00 L486.82,117.97 L487.18,117.94 L487.53,117.91 L487.89,117.88 L488.25,117.86 L488.61,117.83 L488.97,117.80 L489.33,117.77 L489.68,117.74 L490.04,117.72 L490.40,117.69 L490.40,117.69 L490.76,116.81 L491.13,115.95 L491.49,115.10 L491.85,114.28 L492.22,113.48 L492.58,112.71 L492.95,111.96 L493.31,111.24 L493.67,110.56 L494.04,109.91 L494.40,109.29 L494.76,108.70 L495.13,108.12 L495.49,107.55 L495.85,106.99 L496.22,106.45 L496.58,105.92 L496.95,105.41 L497.31,104.92 L497.67,104.46 L498.04,104.02 L498.40,103.61 L498.76,103.23 L499.13,102.88 L499.49,102.56 L499.52,102.53 L499.85,102.26 L500.22,101.98 L500.58,101.71 L500.95,101.44 L501.31,101.19 L501.67,100.94 L502.04,100.70 L502.40,100.48 L502.76,100.26 L503.13,100.05 L503.49,99.85 L503.85,99.66 L504.22,99.48 L504.58,99.30 L504.95,99.14 L505.31,98.98 L505.67,98.83 L506.04,98.68 L506.40,98.55 L506.76,98.42 L507.13,98.30 L507.49,98.18 L507.85,98.06 L508.22,97.95 L508.58,97.85 L508.95,97.74 L509.31,97.64 L509.67,97.55 L510.04,97.45 L510.40,97.36 L510.76,97.27 L511.13,97.19 L511.49,97.10 L511.85,97.02 L512.22,96.94 L512.58,96.86 L512.95,96.79 L513.31,96.71 L513.67,96.64 L514.04,96.56 L514.40,96.49 L514.76,96.41 L515.13,96.34 L515.49,96.27 L515.85,96.20 L516.22,96.13 L516.58,96.06 L516.95,95.99 L517.31,95.92 L517.67,95.86 L518.04,95.79 L518.40,95.73 L518.76,95.67 L519.13,95.61 L519.49,95.55 L519.85,95.49 L520.22,95.44 L520.58,95.38 L520.95,95.33 L521.31,95.28 L521.67,95.23 L522.04,95.18 L522.40,95.13" stroke="#1b8128" stroke-width="1.05"/>
<path d="M202.40,160.45 L202.76,157.28 L203.12,154.22 L203.48,151.25 L203.84,148.39 L204.20,145.62 L204.56,142.95 L204.92,140.36 L205.28,137.86 L205.65,135.45 L205.70,135.12 L206.01,132.94 L206.37,130.28 L206.73,127.98 L207.09,126.51 L207.20,126.30 L207.45,126.01 L207.81,125.67 L208.17,125.42 L208.53,125.24 L208.89,125.11 L208.96,125.09 L209.25,125.02 L209.61,124.96 L209.97,124.92 L210.33,124.88 L210.69,124.84 L211.05,124.80 L211.42,124.73 L211.68,124.66 L211.78,124.62 L212.14,124.24 L212.50,123.58 L212.86,122.72 L213.22,121.74 L213.58,120.74 L213.94,119.79 L214.30,118.99 L214.51,118.61 L214.66,118.39 L215.02,117.87 L215.38,117.38 L215.74,116.92 L216.10,116.49 L216.46,116.07 L216.82,115.68 L217.18,115.29 L217.55,114.91 L217.91,114.54 L218.27,114.16 L218.56,113.85 L218.63,113.77 L218.99,113.32 L219.35,112.84 L219.71,112.41 L220.07,112.13 L220.32,112.07 L220.43,112.08 L220.79,112.25 L221.15,112.56 L221.51,112.96 L221.87,113.38 L222.23,113.74 L222.59,113.99 L222.88,114.06 L222.95,114.06 L223.32,113.96 L223.68,113.75 L224.04,113.47 L224.40,113.14 L224.76,112.81 L225.12,112.49 L225.48,112.23 L225.52,112.21 L225.84,112.02 L226.20,111.80 L226.56,111.58 L226.92,111.35 L227.28,111.12 L227.64,110.89 L228.00,110.66 L228.36,110.44 L228.72,110.23 L229.08,110.02 L229.45,109.83 L229.81,109.65 L230.17,109.48 L230.53,109.34 L230.89,109.21 L231.25,109.10 L231.61,109.02 L231.97,108.97 L232.33,108.94 L232.48,108.94 L232.69,108.98 L233.05,109.18 L233.41,109.48 L233.77,109.79 L234.13,110.02 L234.40,110.08 L234.49,110.07 L234.85,110.00 L235.22,109.86 L235.58,109.65 L235.94,109.40 L236.30,109.12 L236.66,108.83 L237.02,108.54 L237.38,108.27 L237.74,108.04 L237.92,107.94 L238.10,107.85 L238.46,107.67 L238.82,107.49 L239.18,107.31 L239.54,107.13 L239.90,106.95 L240.26,106.77 L240.62,106.60 L240.98,106.43 L241.35,106.26 L241.71,106.09 L242.07,105.92 L242.43,105.75 L242.79,105.59 L243.15,105.43 L243.51,105.27 L243.87,105.12 L244.23,104.96 L244.59,104.81 L244.95,104.67 L245.31,104.52 L245.67,104.38 L246.03,104.24 L246.39,104.11 L246.75,103.98 L247.12,103.85 L247.48,103.72 L247.84,103.60 L248.20,103.49 L248.56,103.37 L248.92,103.26 L249.28,103.16 L249.64,103.06 L250.00,102.96 L250.00,102.96 L250.36,103.69 L250.72,104.41 L251.08,105.12 L251.43,105.81 L251.79,106.49 L252.15,107.16 L252.51,107.81 L252.87,108.45 L253.23,109.07 L253.59,109.68 L253.94,110.27 L254.30,110.85 L254.66,111.41 L254.72,111.50 L255.02,111.96 L255.38,112.52 L255.74,113.09 L256.09,113.65 L256.45,114.21 L256.81,114.74 L257.17,115.25 L257.53,115.74 L257.89,116.18 L258.25,116.58 L258.60,116.93 L258.96,117.22 L259.12,117.33 L259.32,117.46 L259.68,117.68 L260.04,117.90 L260.40,118.10 L260.76,118.30 L261.11,118.48 L261.47,118.66 L261.83,118.82 L262.19,118.98 L262.55,119.13 L262.91,119.27 L263.27,119.40 L263.62,119.52 L263.98,119.63 L264.34,119.73 L264.70,119.82 L265.06,119.91 L265.42,119.98 L265.73,120.04 L265.77,120.04 L266.13,120.10 L266.49,120.16 L266.85,120.22 L267.21,120.27 L267.57,120.32 L267.93,120.37 L268.28,120.42 L268.64,120.46 L269.00,120.50 L269.36,120.55 L269.72,120.58 L270.08,120.62 L270.44,120.66 L270.79,120.69 L271.15,120.73 L271.51,120.76 L271.87,120.79 L272.23,120.82 L272.59,120.85 L272.95,120.87 L273.30,120.90 L273.66,120.92 L274.02,120.95 L274.38,120.97 L274.74,121.00 L275.10,121.02 L275.30,121.03 L275.45,121.04 L275.81,121.07 L276.17,121.09 L276.53,121.11 L276.89,121.13 L277.25,121.15 L277.61,121.17 L277.96,121.19 L278.32,121.21 L278.68,121.22 L279.04,121.24 L279.40,121.26 L279.76,121.28 L280.12,121.29 L280.47,121.31 L280.83,121.32 L281.19,121.34 L281.55,121.35 L281.91,121.37 L282.27,121.38 L282.63,121.40 L282.98,121.41 L283.34,121.43 L283.70,121.44 L284.06,121.46 L284.42,121.47 L284.78,121.48 L285.13,121.50 L285.49,121.51 L285.85,121.52 L286.21,121.53 L286.57,121.55 L286.93,121.56 L287.29,121.57 L287.64,121.59 L288.00,121.60 L288.36,121.61 L288.72,121.63 L289.08,121.64 L289.44,121.65 L289.80,121.67 L290.00,121.67 L290.15,121.68 L290.51,121.69 L290.87,121.71 L291.23,121.72 L291.59,121.73 L291.95,121.74 L292.31,121.76 L292.66,121.77 L293.02,121.78 L293.38,121.80 L293.74,121.81 L294.10,121.82 L294.46,121.83 L294.81,121.84 L295.17,121.86 L295.53,121.87 L295.89,121.88 L296.25,121.89 L296.61,121.90 L296.97,121.91 L297.32,121.92 L297.68,121.94 L298.04,121.95 L298.40,121.96 L298.40,121.96 L298.76,122.64 L299.12,123.30 L299.47,123.95 L299.83,124.59 L300.19,125.20 L300.55,125.80 L300.91,126.37 L301.27,126.92 L301.62,127.45 L301.98,127.94 L302.34,128.40 L302.70,128.83 L302.72,128.86 L303.06,129.24 L303.41,129.64 L303.77,130.03 L304.13,130.41 L304.49,130.78 L304.85,131.14 L305.21,131.49 L305.56,131.82 L305.92,132.14 L306.28,132.44 L306.64,132.73 L307.00,133.00 L307.36,133.25 L307.71,133.48 L308.07,133.69 L308.43,133.89 L308.48,133.91 L308.79,134.06 L309.15,134.23 L309.50,134.40 L309.86,134.55 L310.22,134.71 L310.58,134.85 L310.94,134.99 L311.30,135.13 L311.65,135.26 L312.01,135.38 L312.37,135.50 L312.73,135.61 L313.09,135.71 L313.44,135.81 L313.80,135.91 L314.16,136.00 L314.52,136.08 L314.88,136.16 L315.24,136.23 L315.36,136.26 L315.59,136.30 L315.95,136.37 L316.31,136.44 L316.67,136.50 L317.03,136.56 L317.39,136.62 L317.74,136.68 L318.10,136.74 L318.46,136.80 L318.82,136.85 L319.18,136.90 L319.53,136.96 L319.89,137.01 L320.25,137.06 L320.61,137.11 L320.97,137.15 L321.33,137.20 L321.68,137.25 L322.04,137.29 L322.40,137.33 L322.76,137.38 L323.12,137.42 L323.47,137.46 L323.83,137.50 L324.19,137.54 L324.55,137.57 L324.91,137.61 L325.27,137.65 L325.62,137.68 L325.98,137.72 L326.34,137.75 L326.70,137.79 L327.06,137.82 L327.41,137.85 L327.77,137.89 L328.13,137.92 L328.49,137.95 L328.85,137.98 L329.21,138.01 L329.56,138.04 L329.92,138.07 L330.28,138.10 L330.40,138.11 L330.64,138.13 L331.00,138.16 L331.36,138.18 L331.71,138.21 L332.07,138.23 L332.43,138.25 L332.79,138.27 L333.15,138.29 L333.50,138.31 L333.86,138.32 L334.22,138.34 L334.58,138.36 L334.94,138.37 L335.30,138.39 L335.65,138.40 L336.01,138.41 L336.37,138.43 L336.73,138.44 L337.09,138.46 L337.44,138.47 L337.80,138.48 L338.16,138.50 L338.52,138.51 L338.88,138.53 L339.24,138.54 L339.59,138.56 L339.95,138.58 L340.31,138.60 L340.67,138.62 L341.03,138.64 L341.39,138.66 L341.74,138.68 L342.10,138.71 L342.46,138.74 L342.82,138.76 L343.18,138.79 L343.53,138.83 L343.89,138.86 L344.25,138.90 L344.61,138.94 L344.97,138.98 L345.33,139.02 L345.44,139.03 L345.68,139.08 L346.04,139.20 L346.40,139.32 L346.40,139.32 L346.76,139.84 L347.12,140.35 L347.48,140.84 L347.84,141.33 L348.20,141.80 L348.57,142.26 L348.93,142.70 L349.29,143.12 L349.65,143.53 L350.01,143.91 L350.37,144.27 L350.73,144.61 L351.09,144.92 L351.20,145.01 L351.45,145.21 L351.81,145.50 L352.17,145.77 L352.54,146.04 L352.90,146.30 L353.26,146.55 L353.62,146.80 L353.98,147.03 L354.34,147.25 L354.70,147.46 L355.06,147.66 L355.42,147.85 L355.78,148.02 L356.14,148.18 L356.51,148.33 L356.87,148.46 L356.96,148.50 L357.23,148.59 L357.59,148.71 L357.95,148.82 L358.31,148.93 L358.67,149.04 L359.03,149.14 L359.39,149.24 L359.75,149.34 L360.11,149.43 L360.48,149.52 L360.84,149.60 L361.20,149.68 L361.56,149.75 L361.92,149.82 L362.28,149.89 L362.64,149.95 L363.00,150.00 L363.36,150.06 L363.72,150.10 L364.00,150.13 L364.08,150.14 L364.45,150.18 L364.81,150.22 L365.17,150.26 L365.53,150.29 L365.89,150.33 L366.25,150.36 L366.61,150.39 L366.97,150.43 L367.33,150.46 L367.69,150.49 L368.05,150.52 L368.42,150.54 L368.78,150.57 L369.14,150.60 L369.50,150.62 L369.86,150.65 L370.22,150.67 L370.58,150.70 L370.94,150.72 L371.30,150.74 L371.66,150.76 L372.02,150.79 L372.38,150.81 L372.75,150.83 L373.11,150.84 L373.47,150.86 L373.83,150.88 L374.19,150.90 L374.55,150.92 L374.91,150.93 L375.27,150.95 L375.63,150.97 L375.99,150.98 L376.35,151.00 L376.72,151.01 L377.08,151.03 L377.44,151.04 L377.80,151.05 L377.92,151.06 L378.16,151.07 L378.52,151.08 L378.88,151.09 L379.24,151.11 L379.60,151.12 L379.96,151.13 L380.32,151.15 L380.69,151.16 L381.05,151.17 L381.41,151.19 L381.77,151.20 L382.13,151.21 L382.49,151.22 L382.85,151.24 L383.21,151.25 L383.57,151.26 L383.93,151.27 L384.29,151.28 L384.66,151.30 L385.02,151.31 L385.38,151.32 L385.74,151.33 L386.10,151.34 L386.46,151.35 L386.82,151.36 L387.18,151.37 L387.54,151.38 L387.90,151.39 L388.26,151.40 L388.63,151.40 L388.99,151.41 L389.35,151.42 L389.71,151.43 L390.07,151.43 L390.43,151.44 L390.79,151.45 L391.15,151.45 L391.51,151.46 L391.87,151.46 L392.23,151.47 L392.60,151.47 L392.96,151.48 L393.32,151.48 L393.68,151.48 L394.04,151.48 L394.40,151.49 L394.40,151.49 L394.76,151.11 L395.12,150.74 L395.47,150.37 L395.83,150.01 L396.19,149.66 L396.55,149.31 L396.91,148.96 L397.27,148.63 L397.62,148.30 L397.98,147.98 L398.34,147.68 L398.70,147.38 L398.72,147.36 L399.06,147.08 L399.41,146.79 L399.77,146.51 L400.13,146.22 L400.49,145.94 L400.85,145.67 L401.21,145.40 L401.56,145.13 L401.92,144.87 L402.28,144.61 L402.64,144.36 L403.00,144.11 L403.36,143.87 L403.71,143.64 L404.07,143.41 L404.43,143.19 L404.79,142.98 L405.15,142.77 L405.50,142.57 L405.60,142.52 L405.86,142.38 L406.22,142.18 L406.58,141.99 L406.94,141.79 L407.30,141.60 L407.65,141.42 L408.01,141.24 L408.37,141.07 L408.73,140.92 L409.09,140.77 L409.44,140.64 L409.80,140.53 L410.16,140.44 L410.40,140.39 L410.52,140.36 L410.88,140.30 L411.24,140.23 L411.59,140.17 L411.95,140.12 L412.31,140.07 L412.67,140.02 L413.03,139.98 L413.39,139.93 L413.74,139.89 L414.10,139.86 L414.46,139.82 L414.82,139.78 L415.18,139.75 L415.53,139.72 L415.89,139.69 L416.25,139.65 L416.61,139.62 L416.80,139.60 L416.97,139.59 L417.33,139.55 L417.68,139.52 L418.04,139.49 L418.40,139.46 L418.76,139.42 L419.12,139.39 L419.47,139.36 L419.83,139.33 L420.19,139.30 L420.55,139.26 L420.91,139.23 L421.27,139.20 L421.62,139.17 L421.98,139.14 L422.34,139.11 L422.70,139.08 L423.06,139.04 L423.41,139.01 L423.77,138.98 L424.13,138.95 L424.49,138.92 L424.85,138.89 L425.21,138.87 L425.56,138.84 L425.92,138.81 L426.28,138.78 L426.64,138.75 L427.00,138.72 L427.36,138.69 L427.71,138.67 L428.07,138.64 L428.43,138.61 L428.79,138.59 L429.15,138.56 L429.50,138.53 L429.86,138.51 L430.22,138.48 L430.58,138.46 L430.94,138.43 L431.30,138.41 L431.65,138.39 L432.01,138.36 L432.37,138.34 L432.73,138.32 L433.09,138.30 L433.44,138.27 L433.80,138.25 L434.16,138.23 L434.52,138.21 L434.88,138.19 L435.24,138.17 L435.59,138.15 L435.95,138.13 L436.31,138.12 L436.67,138.10 L437.03,138.08 L437.39,138.07 L437.74,138.05 L438.10,138.03 L438.46,138.02 L438.82,138.01 L439.18,137.99 L439.53,137.98 L439.89,137.97 L440.25,137.95 L440.61,137.94 L440.97,137.93 L441.33,137.92 L441.68,137.91 L442.04,137.90 L442.40,137.90 L442.40,137.90 L442.76,137.39 L443.12,136.88 L443.47,136.39 L443.83,135.90 L444.19,135.42 L444.55,134.95 L444.91,134.49 L445.27,134.04 L445.62,133.61 L445.98,133.18 L446.34,132.77 L446.70,132.38 L447.06,132.00 L447.20,131.85 L447.41,131.63 L447.77,131.26 L448.13,130.90 L448.49,130.54 L448.85,130.18 L449.21,129.83 L449.56,129.48 L449.92,129.14 L450.28,128.81 L450.64,128.49 L451.00,128.18 L451.36,127.88 L451.71,127.59 L452.07,127.32 L452.43,127.06 L452.79,126.81 L453.15,126.59 L453.50,126.38 L453.86,126.18 L453.92,126.16 L454.22,126.01 L454.58,125.83 L454.94,125.66 L455.30,125.49 L455.65,125.33 L456.01,125.17 L456.37,125.02 L456.73,124.87 L457.09,124.73 L457.44,124.60 L457.80,124.47 L458.16,124.35 L458.52,124.24 L458.88,124.14 L459.24,124.04 L459.59,123.95 L459.95,123.88 L460.31,123.81 L460.67,123.75 L460.80,123.74 L461.03,123.71 L461.39,123.66 L461.74,123.62 L462.10,123.58 L462.46,123.54 L462.82,123.50 L463.18,123.47 L463.53,123.43 L463.89,123.40 L464.25,123.37 L464.61,123.34 L464.97,123.31 L465.33,123.28 L465.68,123.26 L466.04,123.23 L466.40,123.21 L466.76,123.18 L467.12,123.16 L467.47,123.14 L467.83,123.12 L468.19,123.10 L468.55,123.08 L468.91,123.06 L469.27,123.04 L469.62,123.02 L469.98,123.00 L470.34,122.98 L470.70,122.96 L471.06,122.94 L471.41,122.92 L471.77,122.90 L472.13,122.88 L472.49,122.86 L472.85,122.84 L473.21,122.82 L473.56,122.79 L473.92,122.77 L474.28,122.75 L474.40,122.74 L474.64,122.72 L475.00,122.70 L475.36,122.68 L475.71,122.65 L476.07,122.63 L476.43,122.60 L476.79,122.58 L477.15,122.56 L477.50,122.53 L477.86,122.51 L478.22,122.49 L478.58,122.46 L478.94,122.44 L479.30,122.42 L479.65,122.39 L480.01,122.37 L480.37,122.35 L480.73,122.33 L481.09,122.30 L481.44,122.28 L481.80,122.26 L482.16,122.24 L482.52,122.21 L482.88,122.19 L483.24,122.17 L483.59,122.15 L483.95,122.12 L484.31,122.10 L484.67,122.08 L485.03,122.06 L485.39,122.04 L485.74,122.02 L486.10,121.99 L486.46,121.97 L486.82,121.95 L487.18,121.93 L487.53,121.91 L487.89,121.89 L488.25,121.87 L488.61,121.85 L488.97,121.83 L489.33,121.81 L489.68,121.78 L490.04,121.76 L490.40,121.74 L490.40,121.74 L490.76,120.97 L491.13,120.21 L491.49,119.47 L491.85,118.75 L492.22,118.04 L492.58,117.36 L492.95,116.70 L493.31,116.07 L493.67,115.47 L494.04,114.89 L494.40,114.34 L494.76,113.82 L495.13,113.31 L495.49,112.80 L495.85,112.31 L496.22,111.83 L496.58,111.37 L496.95,110.92 L497.31,110.49 L497.67,110.07 L498.04,109.68 L498.40,109.31 L498.76,108.95 L499.13,108.63 L499.49,108.32 L499.52,108.30 L499.85,108.03 L500.22,107.75 L500.58,107.47 L500.95,107.20 L501.31,106.94 L501.67,106.69 L502.04,106.44 L502.40,106.20 L502.76,105.97 L503.13,105.75 L503.49,105.54 L503.85,105.34 L504.22,105.15 L504.58,104.97 L504.95,104.80 L505.31,104.64 L505.67,104.50 L506.04,104.36 L506.40,104.24 L506.76,104.13 L507.13,104.02 L507.49,103.92 L507.85,103.82 L508.22,103.73 L508.58,103.65 L508.95,103.56 L509.31,103.48 L509.67,103.40 L510.04,103.33 L510.40,103.26 L510.76,103.19 L511.13,103.12 L511.49,103.06 L511.85,102.99 L512.22,102.93 L512.58,102.86 L512.95,102.80 L513.31,102.73 L513.67,102.67 L514.04,102.60 L514.40,102.53 L514.76,102.47 L515.13,102.40 L515.49,102.33 L515.85,102.26 L516.22,102.20 L516.58,102.13 L516.95,102.07 L517.31,102.00 L517.67,101.94 L518.04,101.88 L518.40,101.82 L518.76,101.75 L519.13,101.69 L519.49,101.63 L519.85,101.58 L520.22,101.52 L520.58,101.46 L520.95,101.40 L521.31,101.35 L521.67,101.29 L522.04,101.24 L522.40,101.18" stroke="#ff2a2a" stroke-width="1.05"/>
<path d="M202.40,160.45 L202.76,158.60 L203.11,156.78 L203.47,155.00 L203.83,153.26 L204.19,151.56 L204.54,149.89 L204.90,148.27 L205.12,147.29 L205.26,146.68 L205.61,144.99 L205.97,143.25 L206.33,141.53 L206.68,139.90 L207.04,138.46 L207.40,137.27 L207.76,136.41 L207.84,136.26 L208.11,135.83 L208.47,135.30 L208.83,134.83 L209.18,134.44 L209.54,134.16 L209.90,134.00 L210.08,133.98 L210.25,134.14 L210.61,135.10 L210.97,136.23 L211.28,136.69 L211.33,136.68 L211.68,136.09 L212.04,134.69 L212.40,132.63 L212.75,130.06 L213.11,127.14 L213.47,124.03 L213.82,120.88 L214.18,117.84 L214.51,115.27 L214.54,115.08 L214.90,112.27 L215.25,109.19 L215.61,105.95 L215.97,102.64 L216.32,99.39 L216.68,96.28 L217.04,93.43 L217.39,90.94 L217.75,88.91 L217.76,88.87 L218.11,87.15 L218.47,85.39 L218.82,83.69 L219.18,82.12 L219.54,80.75 L219.89,79.65 L220.25,78.88 L220.61,78.51 L220.72,78.49 L220.96,78.59 L221.32,79.11 L221.68,80.01 L222.04,81.22 L222.39,82.68 L222.75,84.34 L223.11,86.14 L223.46,88.01 L223.82,89.90 L224.18,91.74 L224.53,93.48 L224.89,95.06 L225.25,96.41 L225.61,97.48 L225.96,98.21 L226.32,98.54 L226.40,98.55 L226.68,98.48 L227.03,98.18 L227.39,97.67 L227.75,96.97 L228.11,96.10 L228.46,95.08 L228.82,93.94 L229.18,92.68 L229.53,91.35 L229.89,89.94 L230.25,88.50 L230.60,87.03 L230.96,85.56 L231.32,84.11 L231.68,82.69 L232.03,81.34 L232.39,80.07 L232.75,78.90 L233.10,77.86 L233.46,76.96 L233.82,76.22 L234.17,75.67 L234.53,75.33 L234.88,75.21 L234.89,75.21 L235.25,75.33 L235.60,75.65 L235.96,76.14 L236.32,76.77 L236.67,77.51 L237.03,78.33 L237.39,79.20 L237.74,80.09 L238.10,80.97 L238.46,81.80 L238.82,82.56 L239.17,83.21 L239.53,83.73 L239.89,84.09 L240.24,84.24 L240.32,84.25 L240.60,84.21 L240.96,84.06 L241.31,83.81 L241.67,83.46 L242.03,83.02 L242.39,82.51 L242.74,81.92 L243.10,81.27 L243.46,80.58 L243.81,79.84 L244.17,79.06 L244.53,78.26 L244.88,77.45 L245.24,76.62 L245.60,75.80 L245.96,75.00 L246.31,74.21 L246.67,73.45 L247.03,72.72 L247.38,72.05 L247.74,71.43 L248.10,70.87 L248.45,70.39 L248.81,70.00 L249.17,69.69 L249.53,69.48 L249.88,69.38 L250.00,69.38 L250.24,69.53 L250.60,70.30 L250.95,71.60 L251.31,73.34 L251.67,75.41 L252.03,77.70 L252.38,80.12 L252.74,82.55 L253.10,84.90 L253.45,87.05 L253.81,88.91 L254.17,90.36 L254.52,91.31 L254.72,91.58 L254.88,91.71 L255.24,91.97 L255.60,92.20 L255.95,92.38 L256.31,92.55 L256.67,92.69 L257.02,92.83 L257.38,92.97 L257.65,93.07 L257.74,93.11 L258.09,93.23 L258.45,93.34 L258.81,93.44 L259.17,93.53 L259.52,93.63 L259.88,93.72 L260.24,93.83 L260.59,93.96 L260.95,94.11 L261.28,94.28 L261.31,94.30 L261.66,94.61 L262.02,95.12 L262.38,95.77 L262.74,96.53 L263.09,97.37 L263.45,98.26 L263.81,99.14 L264.16,100.00 L264.52,100.78 L264.88,101.47 L265.23,102.01 L265.59,102.38 L265.73,102.46 L265.95,102.58 L266.31,102.75 L266.66,102.91 L267.02,103.05 L267.38,103.18 L267.73,103.28 L268.09,103.34 L268.45,103.38 L268.64,103.39 L268.80,103.38 L269.16,103.28 L269.52,103.10 L269.88,102.83 L270.23,102.50 L270.59,102.12 L270.95,101.69 L271.30,101.23 L271.66,100.75 L272.02,100.26 L272.37,99.77 L272.73,99.29 L273.09,98.84 L273.45,98.42 L273.80,98.05 L274.16,97.74 L274.52,97.50 L274.87,97.34 L275.23,97.27 L275.30,97.27 L275.59,97.31 L275.95,97.45 L276.30,97.68 L276.66,97.98 L277.02,98.35 L277.37,98.77 L277.73,99.22 L278.09,99.70 L278.44,100.17 L278.80,100.64 L279.16,101.09 L279.52,101.50 L279.87,101.87 L280.23,102.16 L280.59,102.38 L280.94,102.51 L281.18,102.53 L281.30,102.53 L281.66,102.46 L282.01,102.33 L282.37,102.13 L282.73,101.89 L283.09,101.60 L283.44,101.28 L283.80,100.94 L284.16,100.59 L284.51,100.23 L284.87,99.88 L285.23,99.54 L285.58,99.23 L285.94,98.96 L286.30,98.73 L286.66,98.56 L287.01,98.44 L287.36,98.41 L287.37,98.41 L287.73,98.52 L288.08,98.81 L288.44,99.22 L288.80,99.72 L289.15,100.25 L289.51,100.76 L289.87,101.22 L290.23,101.56 L290.58,101.73 L290.72,101.75 L290.94,101.67 L291.30,101.27 L291.65,100.78 L292.01,100.44 L292.16,100.40 L292.37,100.45 L292.72,100.71 L293.08,101.14 L293.44,101.64 L293.80,102.15 L294.15,102.58 L294.51,102.84 L294.72,102.89 L294.87,102.88 L295.22,102.79 L295.58,102.65 L295.94,102.49 L296.29,102.37 L296.64,102.32 L296.65,102.32 L297.01,102.37 L297.37,102.51 L297.72,102.71 L298.08,102.96 L298.08,102.96 L298.44,103.95 L298.80,104.93 L299.16,105.87 L299.52,106.78 L299.88,107.66 L300.24,108.49 L300.60,109.29 L300.96,110.03 L301.33,110.73 L301.69,111.37 L301.76,111.50 L302.05,111.98 L302.41,112.57 L302.77,113.14 L303.13,113.70 L303.49,114.24 L303.85,114.75 L304.21,115.24 L304.57,115.69 L304.93,116.11 L305.29,116.49 L305.65,116.82 L306.01,117.11 L306.24,117.26 L306.37,117.35 L306.73,117.56 L307.09,117.77 L307.46,117.96 L307.82,118.14 L308.18,118.31 L308.54,118.47 L308.90,118.62 L309.26,118.76 L309.62,118.90 L309.98,119.03 L310.34,119.15 L310.70,119.27 L311.06,119.39 L311.42,119.50 L311.78,119.62 L312.14,119.73 L312.50,119.84 L312.86,119.95 L313.12,120.04 L313.23,120.07 L313.59,120.19 L313.95,120.32 L314.31,120.45 L314.67,120.58 L315.03,120.71 L315.39,120.84 L315.75,120.96 L316.11,121.09 L316.47,121.21 L316.83,121.32 L317.19,121.43 L317.55,121.53 L317.91,121.62 L318.27,121.70 L318.63,121.77 L318.99,121.82 L319.36,121.86 L319.72,121.88 L320.00,121.89 L320.08,121.89 L320.44,121.88 L320.80,121.86 L321.16,121.84 L321.52,121.81 L321.88,121.77 L322.24,121.73 L322.60,121.69 L322.96,121.64 L323.32,121.59 L323.68,121.54 L324.04,121.50 L324.40,121.45 L324.76,121.40 L325.12,121.36 L325.49,121.33 L325.85,121.30 L326.21,121.27 L326.57,121.25 L326.93,121.25 L327.04,121.25 L327.29,121.26 L327.65,121.32 L328.01,121.43 L328.37,121.56 L328.73,121.71 L329.09,121.88 L329.45,122.04 L329.81,122.19 L330.17,122.32 L330.40,122.38 L330.53,122.42 L330.89,122.51 L331.25,122.61 L331.62,122.71 L331.98,122.81 L332.34,122.90 L332.70,123.00 L333.06,123.09 L333.42,123.17 L333.78,123.25 L334.14,123.32 L334.50,123.38 L334.86,123.43 L335.22,123.48 L335.58,123.50 L335.94,123.52 L336.16,123.52 L336.30,123.52 L336.66,123.52 L337.02,123.51 L337.39,123.49 L337.75,123.47 L338.11,123.44 L338.47,123.41 L338.83,123.38 L339.19,123.35 L339.55,123.31 L339.91,123.27 L340.27,123.23 L340.63,123.19 L340.99,123.15 L341.35,123.10 L341.71,123.06 L342.07,123.02 L342.43,122.99 L342.79,122.95 L343.15,122.92 L343.52,122.89 L343.88,122.87 L344.24,122.84 L344.60,122.83 L344.96,122.82 L345.32,122.81 L345.44,122.81 L345.68,122.99 L346.04,123.70 L346.40,124.52 L346.40,124.52 L346.76,125.48 L347.12,126.43 L347.48,127.36 L347.84,128.26 L348.20,129.12 L348.57,129.95 L348.93,130.72 L349.29,131.44 L349.65,132.09 L350.01,132.67 L350.08,132.77 L350.37,133.19 L350.73,133.70 L351.09,134.19 L351.45,134.66 L351.81,135.12 L352.17,135.57 L352.54,136.00 L352.90,136.41 L353.26,136.81 L353.62,137.19 L353.98,137.54 L354.34,137.88 L354.70,138.21 L355.06,138.51 L355.42,138.79 L355.78,139.05 L356.14,139.29 L356.51,139.50 L356.87,139.70 L356.96,139.75 L357.23,139.88 L357.59,140.05 L357.95,140.21 L358.31,140.37 L358.67,140.52 L359.03,140.67 L359.39,140.81 L359.75,140.94 L360.11,141.07 L360.48,141.19 L360.84,141.31 L361.20,141.41 L361.56,141.52 L361.92,141.61 L362.28,141.70 L362.64,141.78 L363.00,141.85 L363.36,141.92 L363.72,141.98 L364.00,142.02 L364.08,142.03 L364.45,142.08 L364.81,142.13 L365.17,142.18 L365.53,142.22 L365.89,142.27 L366.25,142.31 L366.61,142.35 L366.97,142.39 L367.33,142.43 L367.69,142.47 L368.05,142.50 L368.42,142.54 L368.78,142.57 L369.14,142.60 L369.50,142.64 L369.86,142.67 L370.22,142.70 L370.58,142.73 L370.94,142.76 L371.30,142.78 L371.66,142.81 L372.02,142.83 L372.38,142.86 L372.75,142.88 L373.11,142.91 L373.47,142.93 L373.83,142.95 L374.19,142.97 L374.55,142.99 L374.91,143.01 L375.27,143.03 L375.63,143.05 L375.99,143.07 L376.35,143.09 L376.72,143.10 L377.08,143.12 L377.44,143.14 L377.80,143.16 L377.92,143.16 L378.16,143.17 L378.52,143.19 L378.88,143.20 L379.24,143.22 L379.60,143.24 L379.96,143.25 L380.32,143.27 L380.69,143.28 L381.05,143.30 L381.41,143.31 L381.77,143.33 L382.13,143.34 L382.49,143.36 L382.85,143.37 L383.21,143.39 L383.57,143.40 L383.93,143.42 L384.29,143.43 L384.66,143.44 L385.02,143.46 L385.38,143.47 L385.74,143.48 L386.10,143.49 L386.46,143.51 L386.82,143.52 L387.18,143.53 L387.54,143.54 L387.90,143.55 L388.26,143.56 L388.63,143.57 L388.99,143.58 L389.35,143.59 L389.71,143.60 L390.07,143.61 L390.43,143.61 L390.79,143.62 L391.15,143.63 L391.51,143.63 L391.87,143.64 L392.23,143.64 L392.60,143.65 L392.96,143.65 L393.32,143.65 L393.68,143.66 L394.04,143.66 L394.40,143.66 L394.40,143.66 L394.76,143.20 L395.12,142.71 L395.47,142.18 L395.83,141.63 L396.19,141.04 L396.55,140.42 L396.91,139.78 L397.27,139.12 L397.62,138.44 L397.98,137.74 L398.34,137.03 L398.70,136.30 L398.72,136.26 L399.06,135.47 L399.41,134.53 L399.77,133.61 L400.13,132.89 L400.16,132.84 L400.49,132.35 L400.85,131.83 L401.21,131.33 L401.56,130.86 L401.92,130.41 L402.28,129.98 L402.64,129.57 L403.00,129.18 L403.36,128.81 L403.71,128.47 L404.07,128.14 L404.43,127.82 L404.79,127.53 L405.15,127.26 L405.50,127.00 L405.86,126.75 L406.22,126.53 L406.58,126.32 L406.88,126.16 L406.94,126.13 L407.30,125.94 L407.65,125.76 L408.01,125.58 L408.37,125.40 L408.73,125.23 L409.09,125.07 L409.44,124.90 L409.80,124.75 L410.16,124.59 L410.52,124.45 L410.88,124.30 L411.24,124.16 L411.59,124.03 L411.95,123.90 L412.31,123.78 L412.67,123.66 L413.03,123.55 L413.39,123.45 L413.74,123.34 L414.10,123.25 L414.46,123.16 L414.82,123.08 L415.18,123.00 L415.53,122.93 L415.89,122.87 L416.25,122.81 L416.61,122.76 L416.80,122.74 L416.97,122.72 L417.33,122.68 L417.68,122.64 L418.04,122.59 L418.40,122.55 L418.76,122.51 L419.12,122.47 L419.47,122.43 L419.83,122.39 L420.19,122.36 L420.55,122.32 L420.91,122.28 L421.27,122.24 L421.62,122.21 L421.98,122.17 L422.34,122.14 L422.70,122.10 L423.06,122.07 L423.41,122.03 L423.77,122.00 L424.13,121.97 L424.49,121.93 L424.85,121.90 L425.21,121.87 L425.56,121.84 L425.92,121.81 L426.28,121.78 L426.64,121.75 L427.00,121.73 L427.36,121.70 L427.71,121.67 L428.07,121.64 L428.43,121.62 L428.79,121.59 L429.15,121.57 L429.50,121.54 L429.86,121.52 L430.22,121.50 L430.58,121.48 L430.94,121.45 L431.30,121.43 L431.65,121.41 L432.01,121.39 L432.37,121.37 L432.73,121.36 L433.09,121.34 L433.44,121.32 L433.80,121.30 L434.16,121.29 L434.52,121.27 L434.88,121.26 L435.24,121.24 L435.59,121.23 L435.95,121.22 L436.31,121.21 L436.67,121.19 L437.03,121.18 L437.39,121.17 L437.74,121.16 L438.10,121.15 L438.46,121.15 L438.82,121.14 L439.18,121.13 L439.53,121.13 L439.89,121.12 L440.25,121.12 L440.61,121.11 L440.97,121.11 L441.33,121.11 L441.68,121.11 L442.04,121.10 L442.40,121.10 L442.40,121.10 L442.76,119.91 L443.12,118.73 L443.47,117.57 L443.83,116.44 L444.19,115.33 L444.55,114.26 L444.91,113.21 L445.27,112.21 L445.62,111.25 L445.98,110.33 L446.34,109.46 L446.70,108.64 L447.06,107.88 L447.20,107.59 L447.41,107.16 L447.77,106.45 L448.13,105.76 L448.49,105.08 L448.85,104.41 L449.21,103.76 L449.56,103.13 L449.92,102.52 L450.28,101.92 L450.64,101.35 L451.00,100.81 L451.36,100.29 L451.71,99.80 L452.07,99.33 L452.43,98.90 L452.79,98.51 L453.15,98.14 L453.50,97.81 L453.86,97.52 L453.92,97.48 L454.22,97.26 L454.58,97.01 L454.94,96.77 L455.30,96.53 L455.65,96.31 L456.01,96.09 L456.37,95.88 L456.73,95.68 L457.09,95.49 L457.44,95.31 L457.80,95.14 L458.16,94.98 L458.52,94.84 L458.88,94.70 L459.24,94.57 L459.59,94.45 L459.95,94.35 L460.31,94.25 L460.67,94.17 L460.80,94.14 L461.03,94.09 L461.39,94.02 L461.74,93.95 L462.10,93.89 L462.46,93.82 L462.82,93.76 L463.18,93.71 L463.53,93.65 L463.89,93.60 L464.25,93.54 L464.61,93.49 L464.97,93.45 L465.33,93.40 L465.68,93.35 L466.04,93.31 L466.40,93.27 L466.76,93.23 L467.12,93.19 L467.47,93.15 L467.83,93.11 L468.19,93.08 L468.55,93.04 L468.91,93.01 L469.27,92.97 L469.62,92.94 L469.98,92.91 L470.34,92.88 L470.70,92.84 L471.06,92.81 L471.41,92.78 L471.77,92.75 L472.13,92.72 L472.49,92.68 L472.85,92.65 L473.21,92.62 L473.56,92.58 L473.92,92.55 L474.28,92.51 L474.40,92.50 L474.64,92.48 L475.00,92.44 L475.36,92.41 L475.71,92.37 L476.07,92.34 L476.43,92.30 L476.79,92.27 L477.15,92.23 L477.50,92.20 L477.86,92.17 L478.22,92.13 L478.58,92.10 L478.94,92.07 L479.30,92.03 L479.65,92.00 L480.01,91.97 L480.37,91.93 L480.73,91.90 L481.09,91.87 L481.44,91.84 L481.80,91.81 L482.16,91.78 L482.52,91.75 L482.88,91.72 L483.24,91.69 L483.59,91.66 L483.95,91.63 L484.31,91.60 L484.67,91.57 L485.03,91.54 L485.39,91.51 L485.74,91.48 L486.10,91.46 L486.46,91.43 L486.82,91.40 L487.18,91.37 L487.53,91.35 L487.89,91.32 L488.25,91.30 L488.61,91.27 L488.97,91.25 L489.33,91.22 L489.68,91.20 L490.04,91.17 L490.40,91.15 L490.40,91.15 L490.76,89.72 L491.13,88.32 L491.49,86.95 L491.85,85.61 L492.22,84.31 L492.58,83.04 L492.95,81.81 L493.31,80.62 L493.67,79.48 L494.04,78.39 L494.40,77.35 L494.76,76.34 L495.13,75.33 L495.49,74.34 L495.85,73.37 L496.22,72.41 L496.58,71.49 L496.95,70.59 L497.31,69.73 L497.67,68.91 L498.04,68.14 L498.40,67.41 L498.76,66.74 L499.13,66.13 L499.49,65.58 L499.52,65.54 L499.85,65.07 L500.22,64.59 L500.58,64.12 L500.95,63.66 L501.31,63.23 L501.67,62.81 L502.04,62.41 L502.40,62.02 L502.76,61.65 L503.13,61.30 L503.49,60.96 L503.85,60.63 L504.22,60.32 L504.58,60.03 L504.95,59.75 L505.31,59.49 L505.67,59.24 L506.04,59.00 L506.40,58.78 L506.76,58.56 L507.13,58.36 L507.49,58.16 L507.85,57.96 L508.22,57.77 L508.58,57.59 L508.95,57.41 L509.31,57.24 L509.67,57.07 L510.04,56.91 L510.40,56.75 L510.76,56.60 L511.13,56.46 L511.49,56.32 L511.85,56.19 L512.22,56.06 L512.58,55.94 L512.95,55.83 L513.31,55.72 L513.67,55.62 L514.04,55.52 L514.40,55.43 L514.76,55.35 L515.13,55.26 L515.49,55.17 L515.85,55.09 L516.22,55.01 L516.58,54.93 L516.95,54.85 L517.31,54.77 L517.67,54.70 L518.04,54.63 L518.40,54.56 L518.76,54.50 L519.13,54.43 L519.49,54.38 L519.85,54.32 L520.22,54.27 L520.58,54.23 L520.95,54.19 L521.31,54.15 L521.67,54.12 L522.04,54.10 L522.40,54.08" stroke="#ff20ff" stroke-width="1.1"/>
</g>
<text class="t" transform="translate(202.40,191.80) scale(1.05,1)" font-size="9.3" text-anchor="middle" >0</text>
<text class="t" transform="translate(234.40,191.80) scale(1.05,1)" font-size="9.3" text-anchor="middle" >0.2</text>
<text class="t" transform="translate(266.40,191.80) scale(1.05,1)" font-size="9.3" text-anchor="middle" >0.4</text>
<text class="t" transform="translate(298.40,191.80) scale(1.05,1)" font-size="9.3" text-anchor="middle" >0.6</text>
<text class="t" transform="translate(330.40,191.80) scale(1.05,1)" font-size="9.3" text-anchor="middle" >0.8</text>
<text class="t" transform="translate(362.40,191.80) scale(1.05,1)" font-size="9.3" text-anchor="middle" >1</text>
<text class="t" transform="translate(394.40,191.80) scale(1.05,1)" font-size="9.3" text-anchor="middle" >1.2</text>
<text class="t" transform="translate(426.40,191.80) scale(1.05,1)" font-size="9.3" text-anchor="middle" >1.4</text>
<text class="t" transform="translate(458.40,191.80) scale(1.05,1)" font-size="9.3" text-anchor="middle" >1.6</text>
<text class="t" transform="translate(490.40,191.80) scale(1.05,1)" font-size="9.3" text-anchor="middle" >1.8</text>
<text class="t" transform="translate(522.40,191.80) scale(1.05,1)" font-size="9.3" text-anchor="middle" >2</text>
<text class="t" transform="translate(197.90,164.35) scale(1.05,1)" font-size="9.3" text-anchor="end" >0</text>
<text class="t" transform="translate(197.90,128.77) scale(1.05,1)" font-size="9.3" text-anchor="end" >500</text>
<text class="t" transform="translate(197.90,93.20) scale(1.05,1)" font-size="9.3" text-anchor="end" >1000</text>
<text class="t" transform="translate(197.90,57.62) scale(1.05,1)" font-size="9.3" text-anchor="end" >1500</text>
<text class="t" transform="translate(197.90,22.05) scale(1.05,1)" font-size="9.3" text-anchor="end" >2000</text>
<text class="t" transform="translate(362.70,204.00) scale(1.056,1)" font-size="9.8" text-anchor="middle" >Time (sec)</text>
<text class="t" transform="translate(170.00,90.00) rotate(-90) scale(0.905,1)" font-size="10.4" text-anchor="middle" >PV Power (watts)</text>
<rect x="329.30" y="1.00" width="112.90" height="47.20" fill="#fff" stroke="#5c5c5c" stroke-width="1"/>
<path d="M333.50,7.20H362.00" stroke="#0a0aff" stroke-width="1.9" fill="none"/>
<text class="t" transform="translate(364.80,10.90)" font-size="8.8" text-anchor="start" >Proposed Method</text>
<path d="M333.50,18.80H362.00" stroke="#1b8128" stroke-width="1.2" fill="none"/>
<text class="t" transform="translate(364.80,21.95)" font-size="8.8" text-anchor="start" >CUSA</text>
<path d="M333.50,30.30H362.00" stroke="#ff2a2a" stroke-width="1.2" fill="none"/>
<text class="t" transform="translate(364.80,33.45)" font-size="8.8" text-anchor="start" >GWO</text>
<path d="M333.50,41.70H362.00" stroke="#ff20ff" stroke-width="1.2" fill="none"/>
<text class="t" transform="translate(364.80,44.85)" font-size="8.8" text-anchor="start" >PSO</text>
<text class="s" transform="translate(344.10,218.70)" font-size="12.8" text-anchor="middle" >(i)</text>
<clipPath id="c2"><rect x="33.70" y="236.20" width="300.10" height="180.90"/></clipPath>
<rect x="34.90" y="236.20" width="298.40" height="180.90" fill="#fff"/>
<path d="M49.82,236.20V417.10M64.74,236.20V417.10M79.66,236.20V417.10M94.58,236.20V417.10M124.42,236.20V417.10M139.34,236.20V417.10M154.26,236.20V417.10M169.18,236.20V417.10M199.02,236.20V417.10M213.94,236.20V417.10M228.86,236.20V417.10M243.78,236.20V417.10M273.62,236.20V417.10M288.54,236.20V417.10M303.46,236.20V417.10M318.38,236.20V417.10M34.90,411.20H333.30M34.90,405.30H333.30M34.90,393.50H333.30M34.90,387.60H333.30M34.90,381.70H333.30M34.90,375.80H333.30M34.90,364.00H333.30M34.90,358.10H333.30M34.90,352.20H333.30M34.90,346.30H333.30M34.90,334.50H333.30M34.90,328.60H333.30M34.90,322.70H333.30M34.90,316.80H333.30M34.90,305.00H333.30M34.90,299.10H333.30M34.90,293.20H333.30M34.90,287.30H333.30M34.90,275.50H333.30M34.90,269.60H333.30M34.90,263.70H333.30M34.90,257.80H333.30M34.90,246.00H333.30M34.90,240.10H333.30" stroke="#dbdbdb" stroke-width="0.9" stroke-dasharray="1 1.68" fill="none"/>
<path d="M109.50,417.10V236.20M184.10,417.10V236.20M258.70,417.10V236.20M34.90,399.40H333.30M34.90,369.90H333.30M34.90,340.40H333.30M34.90,310.90H333.30M34.90,281.40H333.30M34.90,251.90H333.30" stroke="#676767" stroke-width="1.15" stroke-dasharray="6.2 3.2" fill="none"/>
<rect x="34.90" y="236.20" width="298.40" height="180.90" fill="none" stroke="#5c5c5c" stroke-width="1.1"/>
<g clip-path="url(#c2)" fill="none" stroke-linejoin="round" stroke-linecap="round">
<path d="M34.90,399.40 L35.00,393.72 L35.10,388.28 L35.20,383.08 L35.30,378.09 L35.40,373.31 L35.50,368.73 L35.60,364.35 L35.70,360.14 L35.80,356.12 L35.89,352.26 L35.99,348.56 L36.09,345.01 L36.19,341.62 L36.29,338.36 L36.39,335.23 L36.49,332.24 L36.59,329.36 L36.69,326.61 L36.79,323.96 L36.89,321.42 L36.99,318.99 L37.09,316.65 L37.19,314.41 L37.29,312.26 L37.39,310.19 L37.49,308.21 L37.59,306.30 L37.69,304.47 L37.79,302.72 L37.88,301.03 L37.98,299.40 L38.08,297.85 L38.18,296.35 L38.28,294.91 L38.38,293.52 L38.48,292.19 L38.58,290.91 L38.68,289.68 L38.78,288.50 L38.88,287.36 L38.98,286.26 L39.08,285.21 L39.18,284.20 L39.28,283.22 L39.38,282.28 L39.48,281.37 L39.58,280.50 L39.68,279.66 L39.78,278.85 L39.87,278.07 L39.97,277.32 L40.07,276.60 L40.17,275.90 L40.27,275.23 L40.37,274.58 L40.47,273.95 L40.57,273.35 L40.67,272.77 L40.77,272.21 L40.87,271.67 L40.97,271.14 L41.07,270.64 L41.17,270.15 L41.27,269.68 L41.37,269.23 L41.47,268.79 L41.57,268.36 L41.67,267.95 L41.77,267.56 L41.86,267.17 L41.96,266.80 L42.06,266.45 L42.16,266.10 L42.26,265.77 L42.36,265.44 L42.46,265.13 L42.56,264.83 L42.66,264.53 L42.76,264.25 L42.86,263.97 L42.96,263.71 L43.06,263.45 L43.16,263.20 L43.26,262.96 L43.36,262.72 L43.46,262.50 L43.56,262.28 L43.66,262.06 L43.76,261.86 L43.85,261.66 L43.95,261.46 L44.05,261.27 L44.15,261.09 L44.25,260.91 L44.35,260.74 L44.45,260.58 L44.55,260.41 L44.65,260.26 L44.75,260.10 L44.85,259.96 L44.95,259.81 L45.05,259.67 L45.15,259.54 L45.25,259.40 L45.35,259.28 L45.45,259.15 L45.55,259.03 L45.65,258.91 L45.75,258.80 L45.84,258.69 L45.94,258.58 L46.04,258.48 L46.14,258.37 L46.24,258.27 L46.34,258.18 L46.44,258.08 L46.54,257.99 L46.64,257.90 L46.74,257.82 L46.84,257.73 L46.94,257.65 L47.04,257.57 L47.14,257.49 L47.24,257.42 L47.34,257.34 L47.44,257.27 L47.54,257.20 L47.64,257.13 L47.74,257.07 L47.83,257.00 L47.93,256.94 L48.03,256.88 L48.13,256.82 L48.23,256.76 L48.33,256.71 L48.43,256.65 L48.53,256.60 L48.63,256.54 L48.73,256.49 L48.83,256.44 L48.93,256.39 L49.03,256.35 L49.13,256.30 L49.23,256.26 L49.33,256.21 L49.43,256.17 L49.53,256.13 L49.63,256.09 L49.73,256.05 L49.82,256.01 L49.92,255.97 L50.02,255.93 L50.12,255.90 L50.22,255.86 L50.32,255.83 L50.42,255.79 L50.52,255.76 L50.62,255.73 L50.72,255.70 L50.82,255.67 L50.92,255.64 L51.02,255.61 L51.12,255.58 L51.22,255.55 L51.32,255.53 L51.42,255.50 L51.52,255.48 L51.62,255.45 L51.72,255.43 L51.81,255.40 L51.91,255.38 L52.01,255.36 L52.11,255.33 L52.21,255.31 L52.31,255.29 L52.41,255.27 L52.51,255.25 L52.61,255.23 L52.71,255.21 L52.81,255.19 L52.91,255.17 L53.01,255.16 L53.11,255.14 L53.21,255.12 L53.31,255.11 L53.41,255.09 L53.51,255.07 L53.61,255.06 L53.71,255.04 L53.80,255.03 L53.90,255.01 L54.00,255.00 L54.10,254.98 L54.20,254.97 L54.30,254.96 L54.40,254.94 L54.50,254.93 L54.60,254.92 L54.70,254.91 L54.80,254.90 L54.90,254.88 L55.00,254.87 L55.10,254.86 L55.20,254.85 L55.30,254.84 L55.40,254.83 L55.50,254.82 L55.60,254.81 L55.70,254.80 L55.79,254.79 L55.89,254.78 L55.99,254.77 L56.09,254.76 L56.19,254.76 L56.29,254.75 L56.39,254.74 L56.49,254.73 L56.59,254.72 L56.69,254.72 L56.79,254.71 L56.89,254.70 L56.99,254.69 L57.09,254.69 L57.19,254.68 L57.29,254.67 L57.39,254.67 L57.49,254.66 L57.59,254.65 L57.69,254.65 L57.78,254.64 L57.88,254.64 L57.98,254.63 L58.08,254.62 L58.18,254.62 L58.28,254.61 L58.38,254.61 L58.48,254.60 L58.58,254.60 L58.68,254.59 L58.78,254.59 L58.88,254.58 L58.98,254.58 L59.08,254.58 L59.18,254.57 L59.28,254.57 L59.38,254.56 L59.48,254.56 L59.58,254.55 L59.68,254.55 L59.77,254.55 L59.87,254.54 L59.97,254.54 L60.07,254.54 L60.17,254.53 L60.27,254.53 L60.37,254.53 L60.47,254.52 L60.57,254.52 L60.67,254.52 L60.77,254.51 L60.87,254.51 L60.97,254.51 L61.07,254.50 L61.17,254.50 L61.27,254.50 L61.37,254.50 L61.47,254.49 L61.57,254.49 L61.67,254.49 L61.76,254.49 L61.86,254.48 L61.96,254.48 L62.06,254.48 L62.16,254.48 L62.26,254.47 L62.36,254.47 L62.46,254.47 L62.56,254.47 L62.66,254.47 L62.76,254.46 L62.86,254.46 L62.96,254.46 L63.06,254.46 L63.16,254.46 L63.26,254.46 L63.36,254.45 L63.46,254.45 L63.56,254.45 L63.66,254.45 L63.75,254.45 L63.85,254.45 L63.95,254.44 L64.05,254.44 L64.15,254.44 L64.25,254.44 L64.35,254.44 L64.45,254.44 L64.55,254.44 L64.65,254.43 L64.75,254.43 L64.85,254.43 L64.95,254.43 L65.05,254.43 L65.15,254.43 L65.25,254.43 L65.35,254.43 L65.45,254.43 L65.55,254.42 L65.65,254.42 L65.74,254.42 L65.84,254.42 L65.94,254.42 L66.04,254.42 L66.14,254.42 L66.24,254.42 L66.34,254.42 L66.44,254.42 L66.54,254.42 L66.64,254.41 L66.74,254.41 L66.84,254.41 L66.94,254.41 L67.04,254.41 L67.14,254.41 L67.24,254.41 L67.34,254.41 L67.44,254.41 L67.54,254.41 L67.64,254.41 L67.73,254.41 L67.83,254.41 L67.93,254.41 L68.03,254.40 L68.13,254.40 L68.23,254.40 L68.33,254.40 L68.43,254.40 L68.53,254.40 L68.63,254.40 L68.73,254.40 L68.83,254.40 L68.93,254.40 L69.03,254.40 L69.13,254.40 L69.23,254.40 L69.33,254.40 L69.43,254.40 L69.53,254.40 L69.63,254.40 L69.72,254.40 L69.82,254.40 L69.92,254.40 L70.02,254.40 L70.12,254.39 L70.22,254.39 L70.32,254.39 L70.42,254.39 L70.52,254.39 L70.62,254.39 L70.72,254.39 L70.82,254.39 L70.92,254.39 L71.02,254.39 L71.12,254.39 L71.22,254.39 L71.32,254.39 L71.42,254.39 L71.52,254.39 L71.62,254.39 L71.71,254.39 L71.81,254.39 L71.91,254.39 L72.01,254.39 L72.11,254.39 L72.21,254.39 L72.31,254.39 L72.41,254.39 L72.51,254.39 L72.61,254.39 L72.71,254.39 L72.81,254.39 L72.91,254.39 L73.01,254.39 L73.11,254.39 L73.21,254.39 L73.31,254.39 L73.41,254.39 L73.51,254.39 L73.61,254.39 L73.70,254.39 L73.80,254.39 L73.90,254.39 L74.00,254.38 L74.10,254.38 L74.20,254.38 L74.30,254.38 L74.40,254.38 L74.50,254.38 L74.60,254.38 L74.70,254.38 L74.80,254.38 L74.90,254.38 L75.00,254.38 L75.10,254.38 L75.20,254.38 L75.30,254.38 L75.40,254.38 L75.50,254.38 L75.60,254.38 L75.69,254.38 L75.79,254.38 L75.89,254.38 L75.99,254.38 L76.09,254.38 L76.19,254.38 L76.29,254.38 L76.39,254.38 L76.49,254.38 L76.59,254.38 L76.69,254.38 L76.79,254.38 L76.89,254.38 L76.99,254.38 L77.09,254.38 L77.19,254.38 L77.29,254.38 L77.39,254.38 L77.49,254.38 L77.59,254.38 L77.68,254.38 L77.78,254.38 L77.88,254.38 L77.98,254.38 L78.08,254.38 L78.18,254.38 L78.28,254.38 L78.38,254.38 L78.48,254.38 L78.58,254.38 L78.68,254.38 L78.78,254.38 L78.88,254.38 L78.98,254.38 L79.08,254.38 L79.18,254.38 L79.28,254.38 L79.38,254.38 L79.48,254.38 L79.58,254.38 L79.67,254.38 L79.77,254.38 L79.87,254.38 L79.97,254.38 L80.07,254.38 L80.17,254.38 L80.27,254.38 L80.37,254.38 L80.47,254.38 L80.57,254.38 L80.67,254.38 L80.77,254.38 L80.87,254.38 L80.97,254.38 L81.07,254.38 L81.17,254.38 L81.27,254.38 L81.37,254.38 L81.47,254.38 L81.57,254.38 L81.66,254.38 L81.76,254.38 L81.86,254.38 L81.96,254.38 L82.06,254.38 L82.16,254.38 L82.26,254.38 L82.36,254.38 L82.46,254.38 L82.56,254.38 L82.66,254.38 L82.76,254.38 L82.86,254.38 L82.96,254.38 L83.06,254.38 L83.16,254.38 L83.26,254.38 L83.36,254.38 L83.46,254.38 L83.56,254.38 L83.65,254.38 L83.75,254.38 L83.85,254.38 L83.95,254.38 L84.05,254.38 L84.15,254.38 L84.25,254.38 L84.35,254.38 L84.45,254.38 L84.55,254.38 L84.65,254.38 L84.75,254.38 L84.85,254.38 L84.95,254.38 L85.05,254.38 L85.15,254.38 L85.25,254.38 L85.35,254.38 L85.45,254.38 L85.55,254.38 L85.64,254.38 L85.74,254.38 L85.84,254.38 L85.94,254.38 L86.04,254.38 L86.14,254.38 L86.24,254.38 L86.34,254.38 L86.44,254.38 L86.54,254.38 L86.64,254.38 L86.74,254.38 L86.84,254.38 L86.94,254.38 L87.04,254.38 L87.14,254.38 L87.24,254.38 L87.34,254.38 L87.44,254.38 L87.54,254.38 L87.63,254.38 L87.73,254.38 L87.83,254.38 L87.93,254.38 L88.03,254.38 L88.13,254.38 L88.23,254.38 L88.33,254.38 L88.43,254.38 L88.53,254.38 L88.63,254.38 L88.73,254.38 L88.83,254.38 L88.93,254.38 L89.03,254.38 L89.13,254.38 L89.23,254.38 L89.33,254.38 L89.43,254.38 L89.53,254.38 L89.62,254.38 L89.72,254.38 L89.82,254.38 L89.92,254.38 L90.02,254.38 L90.12,254.38 L90.22,254.38 L90.32,254.38 L90.42,254.38 L90.52,254.38 L90.62,254.38 L90.72,254.38 L90.82,254.38 L90.92,254.38 L91.02,254.38 L91.12,254.38 L91.22,254.38 L91.32,254.38 L91.42,254.38 L91.52,254.38 L91.61,254.38 L91.71,254.38 L91.81,254.38 L91.91,254.38 L92.01,254.38 L92.11,254.38 L92.21,254.38 L92.31,254.38 L92.41,254.38 L92.51,254.38 L92.61,254.38 L92.71,254.38 L92.81,254.38 L92.91,254.38 L93.01,254.38 L93.11,254.38 L93.21,254.38 L93.31,254.38 L93.41,254.38 L93.51,254.38 L93.60,254.38 L93.70,254.38 L93.80,254.38 L93.90,254.38 L94.00,254.38 L94.10,254.38 L94.20,254.38 L94.30,254.38 L94.40,254.38 L94.50,254.38 L94.60,254.38 L94.70,254.38 L94.80,254.38 L94.90,254.38 L95.00,254.38 L95.10,254.38 L95.20,254.38 L95.30,254.38 L95.40,254.38 L95.50,254.38 L95.59,254.38 L95.69,254.38 L95.79,254.38 L95.89,254.38 L95.99,254.38 L96.09,254.38 L96.19,254.38 L96.29,254.38 L96.39,254.38 L96.49,254.38 L96.59,254.38 L96.69,254.38 L96.79,254.38 L96.89,254.38 L96.99,254.38 L97.09,254.38 L97.19,254.38 L97.29,254.38 L97.39,254.38 L97.49,254.38 L97.58,254.38 L97.68,254.38 L97.78,254.38 L97.88,254.38 L97.98,254.38 L98.08,254.38 L98.18,254.38 L98.28,254.38 L98.38,254.38 L98.48,254.38 L98.58,254.38 L98.68,254.38 L98.78,254.38 L98.88,254.38 L98.98,254.38 L99.08,254.38 L99.18,254.38 L99.28,254.38 L99.38,254.38 L99.48,254.38 L99.57,254.38 L99.67,254.38 L99.77,254.38 L99.87,254.38 L99.97,254.38 L100.07,254.38 L100.17,254.38 L100.27,254.38 L100.37,254.38 L100.47,254.38 L100.57,254.38 L100.67,254.38 L100.77,254.38 L100.87,254.38 L100.97,254.38 L101.07,254.38 L101.17,254.38 L101.27,254.38 L101.37,254.38 L101.47,254.38 L101.56,254.38 L101.66,254.38 L101.76,254.38 L101.86,254.38 L101.96,254.38 L102.06,254.38 L102.16,254.38 L102.26,254.38 L102.36,254.38 L102.46,254.38 L102.56,254.38 L102.66,254.38 L102.76,254.38 L102.86,254.38 L102.96,254.38 L103.06,254.38 L103.16,254.38 L103.26,254.38 L103.36,254.38 L103.46,254.38 L103.55,254.38 L103.65,254.38 L103.75,254.38 L103.85,254.38 L103.95,254.38 L104.05,254.38 L104.15,254.38 L104.25,254.38 L104.35,254.38 L104.45,254.38 L104.55,254.38 L104.65,254.38 L104.75,254.38 L104.85,254.38 L104.95,254.38 L105.05,254.38 L105.15,254.38 L105.25,254.38 L105.35,254.38 L105.45,254.38 L105.54,254.38 L105.64,254.38 L105.74,254.38 L105.84,254.38 L105.94,254.38 L106.04,254.38 L106.14,254.38 L106.24,254.38 L106.34,254.38 L106.44,254.38 L106.54,254.38 L106.64,254.38 L106.74,254.38 L106.84,254.38 L106.94,254.38 L107.04,254.38 L107.14,254.38 L107.24,254.38 L107.34,254.38 L107.44,254.38 L107.53,254.38 L107.63,254.38 L107.73,254.38 L107.83,254.38 L107.93,254.38 L108.03,254.38 L108.13,254.38 L108.23,254.38 L108.33,254.38 L108.43,254.38 L108.53,254.38 L108.63,254.38 L108.73,254.38 L108.83,254.38 L108.93,254.38 L109.03,254.38 L109.13,254.38 L109.23,254.38 L109.33,254.38 L109.43,254.38 L109.52,254.38 L109.62,254.38 L109.72,254.38 L109.82,254.38 L109.92,254.38 L110.02,254.38 L110.12,254.38 L110.22,254.38 L110.32,254.38 L110.42,254.38 L110.52,254.38 L110.62,254.38 L110.72,254.38 L110.82,254.38 L110.92,254.38 L111.02,254.38 L111.12,254.38 L111.22,254.38 L111.32,254.38 L111.42,254.38 L111.51,254.38 L111.61,254.38 L111.71,254.38 L111.81,254.38 L111.91,254.38 L112.01,254.38 L112.11,254.38 L112.21,254.38 L112.31,254.38 L112.41,254.38 L112.51,254.38 L112.61,254.38 L112.71,254.38 L112.81,254.38 L112.91,254.38 L113.01,254.38 L113.11,254.38 L113.21,254.38 L113.31,254.38 L113.41,254.38 L113.50,254.38 L113.60,254.38 L113.70,254.38 L113.80,254.38 L113.90,254.38 L114.00,254.38 L114.10,254.38 L114.20,254.38 L114.30,254.38 L114.40,254.38 L114.50,254.38 L114.60,254.38 L114.70,254.38 L114.80,254.38 L114.90,254.38 L115.00,254.38 L115.10,254.38 L115.20,254.38 L115.30,254.38 L115.40,254.38 L115.49,254.38 L115.59,254.38 L115.69,254.38 L115.79,254.38 L115.89,254.38 L115.99,254.38 L116.09,254.38 L116.19,254.38 L116.29,254.38 L116.39,254.38 L116.49,254.38 L116.59,254.38 L116.69,254.38 L116.79,254.38 L116.89,254.38 L116.99,254.38 L117.09,254.38 L117.19,254.38 L117.29,254.38 L117.39,254.38 L117.48,254.38 L117.58,254.38 L117.68,254.38 L117.78,254.38 L117.88,254.38 L117.98,254.38 L118.08,254.38 L118.18,254.38 L118.28,254.38 L118.38,254.38 L118.48,254.38 L118.58,254.38 L118.68,254.38 L118.78,254.38 L118.88,254.38 L118.98,254.38 L119.08,254.38 L119.18,254.38 L119.28,254.38 L119.38,254.38 L119.47,254.38 L119.57,254.38 L119.67,254.38 L119.77,254.38 L119.87,254.38 L119.97,254.38 L120.07,254.38 L120.17,254.38 L120.27,254.38 L120.37,254.38 L120.47,254.38 L120.57,254.38 L120.67,254.38 L120.77,254.38 L120.87,254.38 L120.97,254.38 L121.07,254.38 L121.17,254.38 L121.27,254.38 L121.37,254.38 L121.46,254.38 L121.56,254.38 L121.66,254.38 L121.76,254.38 L121.86,254.38 L121.96,254.38 L122.06,254.38 L122.16,254.38 L122.26,254.38 L122.36,254.38 L122.46,254.38 L122.56,254.38 L122.66,254.38 L122.76,254.38 L122.86,254.38 L122.96,254.38 L123.06,254.38 L123.16,254.38 L123.26,254.38 L123.36,254.38 L123.45,254.38 L123.55,254.38 L123.65,254.38 L123.75,254.38 L123.85,254.38 L123.95,254.38 L124.05,254.38 L124.15,254.38 L124.25,254.38 L124.35,254.38 L124.45,254.38 L124.55,254.38 L124.65,254.38 L124.75,254.38 L124.85,254.38 L124.95,254.38 L125.05,254.38 L125.15,254.38 L125.25,254.38 L125.35,254.38 L125.44,254.38 L125.54,254.38 L125.64,254.38 L125.74,254.38 L125.84,254.38 L125.94,254.38 L126.04,254.38 L126.14,254.38 L126.24,254.38 L126.34,254.38 L126.44,254.38 L126.54,254.38 L126.64,254.38 L126.74,254.38 L126.84,254.38 L126.94,254.38 L127.04,254.38 L127.14,254.38 L127.24,254.38 L127.34,254.38 L127.43,254.38 L127.53,254.38 L127.63,254.38 L127.73,254.38 L127.83,254.38 L127.93,254.38 L128.03,254.38 L128.13,254.38 L128.23,254.38 L128.33,254.38 L128.43,254.38 L128.53,254.38 L128.63,254.38 L128.73,254.38 L128.83,254.38 L128.93,254.38 L129.03,254.38 L129.13,254.38 L129.23,254.38 L129.33,254.38 L129.42,254.38 L129.52,254.38 L129.62,254.38 L129.72,254.38 L129.82,254.38 L129.92,254.38 L130.02,254.38 L130.12,254.38 L130.22,254.38 L130.32,254.38 L130.42,254.38 L130.52,254.38 L130.62,254.38 L130.72,254.38 L130.82,254.38 L130.92,254.38 L131.02,254.38 L131.12,254.38 L131.22,254.38 L131.32,254.38 L131.41,254.38 L131.51,254.38 L131.61,254.38 L131.71,254.38 L131.81,254.38 L131.91,254.38 L132.01,254.38 L132.11,254.38 L132.21,254.38 L132.31,254.38 L132.41,254.38 L132.51,254.38 L132.61,254.38 L132.71,254.38 L132.81,254.38 L132.91,254.38 L133.01,254.38 L133.11,254.38 L133.21,254.38 L133.31,254.38 L133.40,254.38 L133.50,254.38 L133.60,254.38 L133.70,254.38 L133.80,254.38 L133.90,254.38 L134.00,254.38 L134.10,254.38 L134.20,254.38 L134.30,254.38 L134.40,254.38 L134.50,254.38 L134.60,254.38 L134.70,254.38 L134.80,254.38 L134.90,254.38 L135.00,254.38 L135.10,254.38 L135.20,254.38 L135.30,254.38 L135.39,254.38 L135.49,254.38 L135.59,254.38 L135.69,254.38 L135.79,254.38 L135.89,254.38 L135.99,254.38 L136.09,254.38 L136.19,254.38 L136.29,254.38 L136.39,254.38 L136.49,254.38 L136.59,254.38 L136.69,254.38 L136.79,254.38 L136.89,254.38 L136.99,254.38 L137.09,254.38 L137.19,254.38 L137.29,254.38 L137.38,254.38 L137.48,254.38 L137.58,254.38 L137.68,254.38 L137.78,254.38 L137.88,254.38 L137.98,254.38 L138.08,254.38 L138.18,254.38 L138.28,254.38 L138.38,254.38 L138.48,254.38 L138.58,254.38 L138.68,254.38 L138.78,254.38 L138.88,254.38 L138.98,254.38 L139.08,254.38 L139.18,254.38 L139.28,254.38 L139.37,254.38 L139.47,254.38 L139.57,254.38 L139.67,254.38 L139.77,254.38 L139.87,254.38 L139.97,254.38 L140.07,254.38 L140.17,254.38 L140.27,254.38 L140.37,254.38 L140.47,254.38 L140.57,254.38 L140.67,254.38 L140.77,254.38 L140.87,254.38 L140.97,254.38 L141.07,254.38 L141.17,254.38 L141.27,254.38 L141.36,254.38 L141.46,254.38 L141.56,254.38 L141.66,254.38 L141.76,254.38 L141.86,254.38 L141.96,254.38 L142.06,254.38 L142.16,254.38 L142.26,254.38 L142.36,254.38 L142.46,254.38 L142.56,254.38 L142.66,254.38 L142.76,254.38 L142.86,254.38 L142.96,254.38 L143.06,254.38 L143.16,254.38 L143.26,254.38 L143.35,254.38 L143.45,254.38 L143.55,254.38 L143.65,254.38 L143.75,254.38 L143.85,254.38 L143.95,254.38 L144.05,254.38 L144.15,254.38 L144.25,254.38 L144.35,254.38 L144.45,254.38 L144.55,254.38 L144.65,254.38 L144.75,254.38 L144.85,254.38 L144.95,254.38 L145.05,254.38 L145.15,254.38 L145.25,254.38 L145.34,254.38 L145.44,254.38 L145.54,254.38 L145.64,254.38 L145.74,254.38 L145.84,254.38 L145.94,254.38 L146.04,254.38 L146.14,254.38 L146.24,254.38 L146.34,254.38 L146.44,254.38 L146.54,254.38 L146.64,254.38 L146.74,254.38 L146.84,254.38 L146.94,254.38 L147.04,254.38 L147.14,254.38 L147.24,254.38 L147.33,254.38 L147.43,254.38 L147.53,254.38 L147.63,254.38 L147.73,254.38 L147.83,254.38 L147.93,254.38 L148.03,254.38 L148.13,254.38 L148.23,254.38 L148.33,254.38 L148.43,254.38 L148.53,254.38 L148.63,254.38 L148.73,254.38 L148.83,254.38 L148.93,254.38 L149.03,254.38 L149.13,254.38 L149.23,254.38 L149.32,254.38 L149.42,254.38 L149.52,254.38 L149.62,254.38 L149.72,254.38 L149.82,254.38 L149.92,254.38 L150.02,254.38 L150.12,254.38 L150.22,254.38 L150.32,254.38 L150.42,254.38 L150.52,254.38 L150.62,254.38 L150.72,254.38 L150.82,254.38 L150.92,254.38 L151.02,254.38 L151.12,254.38 L151.22,254.38 L151.31,254.38 L151.41,254.38 L151.51,254.38 L151.61,254.38 L151.71,254.38 L151.81,254.38 L151.91,254.38 L152.01,254.38 L152.11,254.38 L152.21,254.38 L152.31,254.38 L152.41,254.38 L152.51,254.38 L152.61,254.38 L152.71,254.38 L152.81,254.38 L152.91,254.38 L153.01,254.38 L153.11,254.38 L153.21,254.38 L153.30,254.38 L153.40,254.38 L153.50,254.38 L153.60,254.38 L153.70,254.38 L153.80,254.38 L153.90,254.38 L154.00,254.38 L154.10,254.38 L154.20,254.38 L154.30,254.38 L154.40,254.38 L154.50,254.38 L154.60,254.38 L154.70,254.38 L154.80,254.38 L154.90,254.38 L155.00,254.38 L155.10,254.38 L155.20,254.38 L155.29,254.38 L155.39,254.38 L155.49,254.38 L155.59,254.38 L155.69,254.38 L155.79,254.38 L155.89,254.38 L155.99,254.38 L156.09,254.38 L156.19,254.38 L156.29,254.38 L156.39,254.38 L156.49,254.38 L156.59,254.38 L156.69,254.38 L156.79,254.38 L156.89,254.38 L156.99,254.38 L157.09,254.38 L157.19,254.38 L157.28,254.38 L157.38,254.38 L157.48,254.38 L157.58,254.38 L157.68,254.38 L157.78,254.38 L157.88,254.38 L157.98,254.38 L158.08,254.38 L158.18,254.38 L158.28,254.38 L158.38,254.38 L158.48,254.38 L158.58,254.38 L158.68,254.38 L158.78,254.38 L158.88,254.38 L158.98,254.38 L159.08,254.38 L159.18,254.38 L159.27,254.38 L159.37,254.38 L159.47,254.38 L159.57,254.38 L159.67,254.38 L159.77,254.38 L159.87,254.38 L159.97,254.38 L160.07,254.38 L160.17,254.38 L160.27,254.38 L160.37,254.38 L160.47,254.38 L160.57,254.38 L160.67,254.38 L160.77,254.38 L160.87,254.38 L160.97,254.38 L161.07,254.38 L161.17,254.38 L161.26,254.38 L161.36,254.38 L161.46,254.38 L161.56,254.38 L161.66,254.38 L161.76,254.38 L161.86,254.38 L161.96,254.38 L162.06,254.38 L162.16,254.38 L162.26,254.38 L162.36,254.38 L162.46,254.38 L162.56,254.38 L162.66,254.38 L162.76,254.38 L162.86,254.38 L162.96,254.38 L163.06,254.38 L163.16,254.38 L163.25,254.38 L163.35,254.38 L163.45,254.38 L163.55,254.38 L163.65,254.38 L163.75,254.38 L163.85,254.38 L163.95,254.38 L164.05,254.38 L164.15,254.38 L164.25,254.38 L164.35,254.38 L164.45,254.38 L164.55,254.38 L164.65,254.38 L164.75,254.38 L164.85,254.38 L164.95,254.38 L165.05,254.38 L165.15,254.38 L165.24,254.38 L165.34,254.38 L165.44,254.38 L165.54,254.38 L165.64,254.38 L165.74,254.38 L165.84,254.38 L165.94,254.38 L166.04,254.38 L166.14,254.38 L166.24,254.38 L166.34,254.38 L166.44,254.38 L166.54,254.38 L166.64,254.38 L166.74,254.38 L166.84,254.38 L166.94,254.38 L167.04,254.38 L167.14,254.38 L167.23,254.38 L167.33,254.38 L167.43,254.38 L167.53,254.38 L167.63,254.38 L167.73,254.38 L167.83,254.38 L167.93,254.38 L168.03,254.38 L168.13,254.38 L168.23,254.38 L168.33,254.38 L168.43,254.38 L168.53,254.38 L168.63,254.38 L168.73,254.38 L168.83,254.38 L168.93,254.38 L169.03,254.38 L169.13,254.38 L169.22,254.38 L169.32,254.38 L169.42,254.38 L169.52,254.38 L169.62,254.38 L169.72,254.38 L169.82,254.38 L169.92,254.38 L170.02,254.38 L170.12,254.38 L170.22,254.38 L170.32,254.38 L170.42,254.38 L170.52,254.38 L170.62,254.38 L170.72,254.38 L170.82,254.38 L170.92,254.38 L171.02,254.38 L171.12,254.38 L171.21,254.38 L171.31,254.38 L171.41,254.38 L171.51,254.38 L171.61,254.38 L171.71,254.38 L171.81,254.38 L171.91,254.38 L172.01,254.38 L172.11,254.38 L172.21,254.38 L172.31,254.38 L172.41,254.38 L172.51,254.38 L172.61,254.38 L172.71,254.38 L172.81,254.38 L172.91,254.38 L173.01,254.38 L173.11,254.38 L173.20,254.38 L173.30,254.38 L173.40,254.38 L173.50,254.38 L173.60,254.38 L173.70,254.38 L173.80,254.38 L173.90,254.38 L174.00,254.38 L174.10,254.38 L174.20,254.38 L174.30,254.38 L174.40,254.38 L174.50,254.38 L174.60,254.38 L174.70,254.38 L174.80,254.38 L174.90,254.38 L175.00,254.38 L175.10,254.38 L175.19,254.38 L175.29,254.38 L175.39,254.38 L175.49,254.38 L175.59,254.38 L175.69,254.38 L175.79,254.38 L175.89,254.38 L175.99,254.38 L176.09,254.38 L176.19,254.38 L176.29,254.38 L176.39,254.38 L176.49,254.38 L176.59,254.38 L176.69,254.38 L176.79,254.38 L176.89,254.38 L176.99,254.38 L177.09,254.38 L177.18,254.38 L177.28,254.38 L177.38,254.38 L177.48,254.38 L177.58,254.38 L177.68,254.38 L177.78,254.38 L177.88,254.38 L177.98,254.38 L178.08,254.38 L178.18,254.38 L178.28,254.38 L178.38,254.38 L178.48,254.38 L178.58,254.38 L178.68,254.38 L178.78,254.38 L178.88,254.38 L178.98,254.38 L179.08,254.38 L179.17,254.38 L179.27,254.38 L179.37,254.38 L179.47,254.38 L179.57,254.38 L179.67,254.38 L179.77,254.38 L179.87,254.38 L179.97,254.38 L180.07,254.38 L180.17,254.38 L180.27,254.38 L180.37,254.38 L180.47,254.38 L180.57,254.38 L180.67,254.38 L180.77,254.38 L180.87,254.38 L180.97,254.38 L181.07,254.38 L181.16,254.38 L181.26,254.38 L181.36,254.38 L181.46,254.38 L181.56,254.38 L181.66,254.38 L181.76,254.38 L181.86,254.38 L181.96,254.38 L182.06,254.38 L182.16,254.38 L182.26,254.38 L182.36,254.38 L182.46,254.38 L182.56,254.38 L182.66,254.38 L182.76,254.38 L182.86,254.38 L182.96,254.38 L183.06,254.38 L183.15,254.38 L183.25,254.38 L183.35,254.38 L183.45,254.38 L183.55,254.38 L183.65,254.38 L183.75,254.38 L183.85,254.38 L183.95,254.38 L184.05,254.38 L184.15,254.38 L184.25,254.38 L184.35,254.38 L184.45,254.38 L184.55,254.38 L184.65,254.38 L184.75,254.38 L184.85,254.38 L184.95,254.38 L185.05,254.38 L185.14,254.38 L185.24,254.38 L185.34,254.38 L185.44,254.38 L185.54,254.38 L185.64,254.38 L185.74,254.38 L185.84,254.38 L185.94,254.38 L186.04,254.38 L186.14,254.38 L186.24,254.38 L186.34,254.38 L186.44,254.38 L186.54,254.38 L186.64,254.38 L186.74,254.38 L186.84,254.38 L186.94,254.38 L187.04,254.38 L187.13,254.38 L187.23,254.38 L187.33,254.38 L187.43,254.38 L187.53,254.38 L187.63,254.38 L187.73,254.38 L187.83,254.38 L187.93,254.38 L188.03,254.38 L188.13,254.38 L188.23,254.38 L188.33,254.38 L188.43,254.38 L188.53,254.38 L188.63,254.38 L188.73,254.38 L188.83,254.38 L188.93,254.38 L189.03,254.38 L189.12,254.38 L189.22,254.38 L189.32,254.38 L189.42,254.38 L189.52,254.38 L189.62,254.38 L189.72,254.38 L189.82,254.38 L189.92,254.38 L190.02,254.38 L190.12,254.38 L190.22,254.38 L190.32,254.38 L190.42,254.38 L190.52,254.38 L190.62,254.38 L190.72,254.38 L190.82,254.38 L190.92,254.38 L191.02,254.38 L191.11,254.38 L191.21,254.38 L191.31,254.38 L191.41,254.38 L191.51,254.38 L191.61,254.38 L191.71,254.38 L191.81,254.38 L191.91,254.38 L192.01,254.38 L192.11,254.38 L192.21,254.38 L192.31,254.38 L192.41,254.38 L192.51,254.38 L192.61,254.38 L192.71,254.38 L192.81,254.38 L192.91,254.38 L193.01,254.38 L193.10,254.38 L193.20,254.38 L193.30,254.38 L193.40,254.38 L193.50,254.38 L193.60,254.38 L193.70,254.38 L193.80,254.38 L193.90,254.38 L194.00,254.38 L194.10,254.38 L194.20,254.38 L194.30,254.38 L194.40,254.38 L194.50,254.38 L194.60,254.38 L194.70,254.38 L194.80,254.38 L194.90,254.38 L195.00,254.38 L195.09,254.38 L195.19,254.38 L195.29,254.38 L195.39,254.38 L195.49,254.38 L195.59,254.38 L195.69,254.38 L195.79,254.38 L195.89,254.38 L195.99,254.38 L196.09,254.38 L196.19,254.38 L196.29,254.38 L196.39,254.38 L196.49,254.38 L196.59,254.38 L196.69,254.38 L196.79,254.38 L196.89,254.38 L196.99,254.38 L197.08,254.38 L197.18,254.38 L197.28,254.38 L197.38,254.38 L197.48,254.38 L197.58,254.38 L197.68,254.38 L197.78,254.38 L197.88,254.38 L197.98,254.38 L198.08,254.38 L198.18,254.38 L198.28,254.38 L198.38,254.38 L198.48,254.38 L198.58,254.38 L198.68,254.38 L198.78,254.38 L198.88,254.38 L198.98,254.38 L199.07,254.38 L199.17,254.38 L199.27,254.38 L199.37,254.38 L199.47,254.38 L199.57,254.38 L199.67,254.38 L199.77,254.38 L199.87,254.38 L199.97,254.38 L200.07,254.38 L200.17,254.38 L200.27,254.38 L200.37,254.38 L200.47,254.38 L200.57,254.38 L200.67,254.38 L200.77,254.38 L200.87,254.38 L200.97,254.38 L201.06,254.38 L201.16,254.38 L201.26,254.38 L201.36,254.38 L201.46,254.38 L201.56,254.38 L201.66,254.38 L201.76,254.38 L201.86,254.38 L201.96,254.38 L202.06,254.38 L202.16,254.38 L202.26,254.38 L202.36,254.38 L202.46,254.38 L202.56,254.38 L202.66,254.38 L202.76,254.38 L202.86,254.38 L202.96,254.38 L203.05,254.38 L203.15,254.38 L203.25,254.38 L203.35,254.38 L203.45,254.38 L203.55,254.38 L203.65,254.38 L203.75,254.38 L203.85,254.38 L203.95,254.38 L204.05,254.38 L204.15,254.38 L204.25,254.38 L204.35,254.38 L204.45,254.38 L204.55,254.38 L204.65,254.38 L204.75,254.38 L204.85,254.38 L204.95,254.38 L205.04,254.38 L205.14,254.38 L205.24,254.38 L205.34,254.38 L205.44,254.38 L205.54,254.38 L205.64,254.38 L205.74,254.38 L205.84,254.38 L205.94,254.38 L206.04,254.38 L206.14,254.38 L206.24,254.38 L206.34,254.38 L206.44,254.38 L206.54,254.38 L206.64,254.38 L206.74,254.38 L206.84,254.38 L206.94,254.38 L207.03,254.38 L207.13,254.38 L207.23,254.38 L207.33,254.38 L207.43,254.38 L207.53,254.38 L207.63,254.38 L207.73,254.38 L207.83,254.38 L207.93,254.38 L208.03,254.38 L208.13,254.38 L208.23,254.38 L208.33,254.38 L208.43,254.38 L208.53,254.38 L208.63,254.38 L208.73,254.38 L208.83,254.38 L208.93,254.38 L209.02,254.38 L209.12,254.38 L209.22,254.38 L209.32,254.38 L209.42,254.38 L209.52,254.38 L209.62,254.38 L209.72,254.38 L209.82,254.38 L209.92,254.38 L210.02,254.38 L210.12,254.38 L210.22,254.38 L210.32,254.38 L210.42,254.38 L210.52,254.38 L210.62,254.38 L210.72,254.38 L210.82,254.38 L210.92,254.38 L211.01,254.38 L211.11,254.38 L211.21,254.38 L211.31,254.38 L211.41,254.38 L211.51,254.38 L211.61,254.38 L211.71,254.38 L211.81,254.38 L211.91,254.38 L212.01,254.38 L212.11,254.38 L212.21,254.38 L212.31,254.38 L212.41,254.38 L212.51,254.38 L212.61,254.38 L212.71,254.38 L212.81,254.38 L212.91,254.38 L213.00,254.38 L213.10,254.38 L213.20,254.38 L213.30,254.38 L213.40,254.38 L213.50,254.38 L213.60,254.38 L213.70,254.38 L213.80,254.38 L213.90,254.38 L214.00,254.38 L214.10,254.38 L214.20,254.38 L214.30,254.38 L214.40,254.38 L214.50,254.38 L214.60,254.38 L214.70,254.38 L214.80,254.38 L214.90,254.38 L214.99,254.38 L215.09,254.38 L215.19,254.38 L215.29,254.38 L215.39,254.38 L215.49,254.38 L215.59,254.38 L215.69,254.38 L215.79,254.38 L215.89,254.38 L215.99,254.38 L216.09,254.38 L216.19,254.38 L216.29,254.38 L216.39,254.38 L216.49,254.38 L216.59,254.38 L216.69,254.38 L216.79,254.38 L216.89,254.38 L216.98,254.38 L217.08,254.38 L217.18,254.38 L217.28,254.38 L217.38,254.38 L217.48,254.38 L217.58,254.38 L217.68,254.38 L217.78,254.38 L217.88,254.38 L217.98,254.38 L218.08,254.38 L218.18,254.38 L218.28,254.38 L218.38,254.38 L218.48,254.38 L218.58,254.38 L218.68,254.38 L218.78,254.38 L218.88,254.38 L218.97,254.38 L219.07,254.38 L219.17,254.38 L219.27,254.38 L219.37,254.38 L219.47,254.38 L219.57,254.38 L219.67,254.38 L219.77,254.38 L219.87,254.38 L219.97,254.38 L220.07,254.38 L220.17,254.38 L220.27,254.38 L220.37,254.38 L220.47,254.38 L220.57,254.38 L220.67,254.38 L220.77,254.38 L220.87,254.38 L220.96,254.38 L221.06,254.38 L221.16,254.38 L221.26,254.38 L221.36,254.38 L221.46,254.38 L221.56,254.38 L221.66,254.38 L221.76,254.38 L221.86,254.38 L221.96,254.38 L222.06,254.38 L222.16,254.38 L222.26,254.38 L222.36,254.38 L222.46,254.38 L222.56,254.38 L222.66,254.38 L222.76,254.38 L222.86,254.38 L222.95,254.38 L223.05,254.38 L223.15,254.38 L223.25,254.38 L223.35,254.38 L223.45,254.38 L223.55,254.38 L223.65,254.38 L223.75,254.38 L223.85,254.38 L223.95,254.38 L224.05,254.38 L224.15,254.38 L224.25,254.38 L224.35,254.38 L224.45,254.38 L224.55,254.38 L224.65,254.38 L224.75,254.38 L224.85,254.38 L224.94,254.38 L225.04,254.38 L225.14,254.38 L225.24,254.38 L225.34,254.38 L225.44,254.38 L225.54,254.38 L225.64,254.38 L225.74,254.38 L225.84,254.38 L225.94,254.38 L226.04,254.38 L226.14,254.38 L226.24,254.38 L226.34,254.38 L226.44,254.38 L226.54,254.38 L226.64,254.38 L226.74,254.38 L226.84,254.38 L226.93,254.38 L227.03,254.38 L227.13,254.38 L227.23,254.38 L227.33,254.38 L227.43,254.38 L227.53,254.38 L227.63,254.38 L227.73,254.38 L227.83,254.38 L227.93,254.38 L228.03,254.38 L228.13,254.38 L228.23,254.38 L228.33,254.38 L228.43,254.38 L228.53,254.38 L228.63,254.38 L228.73,254.38 L228.83,254.38 L228.92,254.38 L229.02,254.38 L229.12,254.38 L229.22,254.38 L229.32,254.38 L229.42,254.38 L229.52,254.38 L229.62,254.38 L229.72,254.38 L229.82,254.38 L229.92,254.38 L230.02,254.38 L230.12,254.38 L230.22,254.38 L230.32,254.38 L230.42,254.38 L230.52,254.38 L230.62,254.38 L230.72,254.38 L230.82,254.38 L230.91,254.38 L231.01,254.38 L231.11,254.38 L231.21,254.38 L231.31,254.38 L231.41,254.38 L231.51,254.38 L231.61,254.38 L231.71,254.38 L231.81,254.38 L231.91,254.38 L232.01,254.38 L232.11,254.38 L232.21,254.38 L232.31,254.38 L232.41,254.38 L232.51,254.38 L232.61,254.38 L232.71,254.38 L232.81,254.38 L232.90,254.38 L233.00,254.38 L233.10,254.38 L233.20,254.38 L233.30,254.38 L233.40,254.38 L233.50,254.38 L233.60,254.38 L233.70,254.38 L233.80,254.38 L233.90,254.38 L234.00,254.38 L234.10,254.38 L234.20,254.38 L234.30,254.38 L234.40,254.38 L234.50,254.38 L234.60,254.38 L234.70,254.38 L234.80,254.38 L234.89,254.38 L234.99,254.38 L235.09,254.38 L235.19,254.38 L235.29,254.38 L235.39,254.38 L235.49,254.38 L235.59,254.38 L235.69,254.38 L235.79,254.38 L235.89,254.38 L235.99,254.38 L236.09,254.38 L236.19,254.38 L236.29,254.38 L236.39,254.38 L236.49,254.38 L236.59,254.38 L236.69,254.38 L236.79,254.38 L236.88,254.38 L236.98,254.38 L237.08,254.38 L237.18,254.38 L237.28,254.38 L237.38,254.38 L237.48,254.38 L237.58,254.38 L237.68,254.38 L237.78,254.38 L237.88,254.38 L237.98,254.38 L238.08,254.38 L238.18,254.38 L238.28,254.38 L238.38,254.38 L238.48,254.38 L238.58,254.38 L238.68,254.38 L238.78,254.38 L238.87,254.38 L238.97,254.38 L239.07,254.38 L239.17,254.38 L239.27,254.38 L239.37,254.38 L239.47,254.38 L239.57,254.38 L239.67,254.38 L239.77,254.38 L239.87,254.38 L239.97,254.38 L240.07,254.38 L240.17,254.38 L240.27,254.38 L240.37,254.38 L240.47,254.38 L240.57,254.38 L240.67,254.38 L240.77,254.38 L240.86,254.38 L240.96,254.38 L241.06,254.38 L241.16,254.38 L241.26,254.38 L241.36,254.38 L241.46,254.38 L241.56,254.38 L241.66,254.38 L241.76,254.38 L241.86,254.38 L241.96,254.38 L242.06,254.38 L242.16,254.38 L242.26,254.38 L242.36,254.38 L242.46,254.38 L242.56,254.38 L242.66,254.38 L242.76,254.38 L242.85,254.38 L242.95,254.38 L243.05,254.38 L243.15,254.38 L243.25,254.38 L243.35,254.38 L243.45,254.38 L243.55,254.38 L243.65,254.38 L243.75,254.38 L243.85,254.38 L243.95,254.38 L244.05,254.38 L244.15,254.38 L244.25,254.38 L244.35,254.38 L244.45,254.38 L244.55,254.38 L244.65,254.38 L244.75,254.38 L244.84,254.38 L244.94,254.38 L245.04,254.38 L245.14,254.38 L245.24,254.38 L245.34,254.38 L245.44,254.38 L245.54,254.38 L245.64,254.38 L245.74,254.38 L245.84,254.38 L245.94,254.38 L246.04,254.38 L246.14,254.38 L246.24,254.38 L246.34,254.38 L246.44,254.38 L246.54,254.38 L246.64,254.38 L246.74,254.38 L246.83,254.38 L246.93,254.38 L247.03,254.38 L247.13,254.38 L247.23,254.38 L247.33,254.38 L247.43,254.38 L247.53,254.38 L247.63,254.38 L247.73,254.38 L247.83,254.38 L247.93,254.38 L248.03,254.38 L248.13,254.38 L248.23,254.38 L248.33,254.38 L248.43,254.38 L248.53,254.38 L248.63,254.38 L248.73,254.38 L248.82,254.38 L248.92,254.38 L249.02,254.38 L249.12,254.38 L249.22,254.38 L249.32,254.38 L249.42,254.38 L249.52,254.38 L249.62,254.38 L249.72,254.38 L249.82,254.38 L249.92,254.38 L250.02,254.38 L250.12,254.38 L250.22,254.38 L250.32,254.38 L250.42,254.38 L250.52,254.38 L250.62,254.38 L250.72,254.38 L250.81,254.38 L250.91,254.38 L251.01,254.38 L251.11,254.38 L251.21,254.38 L251.31,254.38 L251.41,254.38 L251.51,254.38 L251.61,254.38 L251.71,254.38 L251.81,254.38 L251.91,254.38 L252.01,254.38 L252.11,254.38 L252.21,254.38 L252.31,254.38 L252.41,254.38 L252.51,254.38 L252.61,254.38 L252.71,254.38 L252.80,254.38 L252.90,254.38 L253.00,254.38 L253.10,254.38 L253.20,254.38 L253.30,254.38 L253.40,254.38 L253.50,254.38 L253.60,254.38 L253.70,254.38 L253.80,254.38 L253.90,254.38 L254.00,254.38 L254.10,254.38 L254.20,254.38 L254.30,254.38 L254.40,254.38 L254.50,254.38 L254.60,254.38 L254.70,254.38 L254.79,254.38 L254.89,254.38 L254.99,254.38 L255.09,254.38 L255.19,254.38 L255.29,254.38 L255.39,254.38 L255.49,254.38 L255.59,254.38 L255.69,254.38 L255.79,254.38 L255.89,254.38 L255.99,254.38 L256.09,254.38 L256.19,254.38 L256.29,254.38 L256.39,254.38 L256.49,254.38 L256.59,254.38 L256.69,254.38 L256.78,254.38 L256.88,254.38 L256.98,254.38 L257.08,254.38 L257.18,254.38 L257.28,254.38 L257.38,254.38 L257.48,254.38 L257.58,254.38 L257.68,254.38 L257.78,254.38 L257.88,254.38 L257.98,254.38 L258.08,254.38 L258.18,254.38 L258.28,254.38 L258.38,254.38 L258.48,254.38 L258.58,254.38 L258.68,254.38 L258.77,254.38 L258.87,254.38 L258.97,254.38 L259.07,254.38 L259.17,254.38 L259.27,254.38 L259.37,254.38 L259.47,254.38 L259.57,254.38 L259.67,254.38 L259.77,254.38 L259.87,254.38 L259.97,254.38 L260.07,254.38 L260.17,254.38 L260.27,254.38 L260.37,254.38 L260.47,254.38 L260.57,254.38 L260.67,254.38 L260.76,254.38 L260.86,254.38 L260.96,254.38 L261.06,254.38 L261.16,254.38 L261.26,254.38 L261.36,254.38 L261.46,254.38 L261.56,254.38 L261.66,254.38 L261.76,254.38 L261.86,254.38 L261.96,254.38 L262.06,254.38 L262.16,254.38 L262.26,254.38 L262.36,254.38 L262.46,254.38 L262.56,254.38 L262.66,254.38 L262.75,254.38 L262.85,254.38 L262.95,254.38 L263.05,254.38 L263.15,254.38 L263.25,254.38 L263.35,254.38 L263.45,254.38 L263.55,254.38 L263.65,254.38 L263.75,254.38 L263.85,254.38 L263.95,254.38 L264.05,254.38 L264.15,254.38 L264.25,254.38 L264.35,254.38 L264.45,254.38 L264.55,254.38 L264.65,254.38 L264.74,254.38 L264.84,254.38 L264.94,254.38 L265.04,254.38 L265.14,254.38 L265.24,254.38 L265.34,254.38 L265.44,254.38 L265.54,254.38 L265.64,254.38 L265.74,254.38 L265.84,254.38 L265.94,254.38 L266.04,254.38 L266.14,254.38 L266.24,254.38 L266.34,254.38 L266.44,254.38 L266.54,254.38 L266.64,254.38 L266.73,254.38 L266.83,254.38 L266.93,254.38 L267.03,254.38 L267.13,254.38 L267.23,254.38 L267.33,254.38 L267.43,254.38 L267.53,254.38 L267.63,254.38 L267.73,254.38 L267.83,254.38 L267.93,254.38 L268.03,254.38 L268.13,254.38 L268.23,254.38 L268.33,254.38 L268.43,254.38 L268.53,254.38 L268.63,254.38 L268.72,254.38 L268.82,254.38 L268.92,254.38 L269.02,254.38 L269.12,254.38 L269.22,254.38 L269.32,254.38 L269.42,254.38 L269.52,254.38 L269.62,254.38 L269.72,254.38 L269.82,254.38 L269.92,254.38 L270.02,254.38 L270.12,254.38 L270.22,254.38 L270.32,254.38 L270.42,254.38 L270.52,254.38 L270.62,254.38 L270.71,254.38 L270.81,254.38 L270.91,254.38 L271.01,254.38 L271.11,254.38 L271.21,254.38 L271.31,254.38 L271.41,254.38 L271.51,254.38 L271.61,254.38 L271.71,254.38 L271.81,254.38 L271.91,254.38 L272.01,254.38 L272.11,254.38 L272.21,254.38 L272.31,254.38 L272.41,254.38 L272.51,254.38 L272.61,254.38 L272.70,254.38 L272.80,254.38 L272.90,254.38 L273.00,254.38 L273.10,254.38 L273.20,254.38 L273.30,254.38 L273.40,254.38 L273.50,254.38 L273.60,254.38 L273.70,254.38 L273.80,254.38 L273.90,254.38 L274.00,254.38 L274.10,254.38 L274.20,254.38 L274.30,254.38 L274.40,254.38 L274.50,254.38 L274.60,254.38 L274.69,254.38 L274.79,254.38 L274.89,254.38 L274.99,254.38 L275.09,254.38 L275.19,254.38 L275.29,254.38 L275.39,254.38 L275.49,254.38 L275.59,254.38 L275.69,254.38 L275.79,254.38 L275.89,254.38 L275.99,254.38 L276.09,254.38 L276.19,254.38 L276.29,254.38 L276.39,254.38 L276.49,254.38 L276.59,254.38 L276.68,254.38 L276.78,254.38 L276.88,254.38 L276.98,254.38 L277.08,254.38 L277.18,254.38 L277.28,254.38 L277.38,254.38 L277.48,254.38 L277.58,254.38 L277.68,254.38 L277.78,254.38 L277.88,254.38 L277.98,254.38 L278.08,254.38 L278.18,254.38 L278.28,254.38 L278.38,254.38 L278.48,254.38 L278.58,254.38 L278.67,254.38 L278.77,254.38 L278.87,254.38 L278.97,254.38 L279.07,254.38 L279.17,254.38 L279.27,254.38 L279.37,254.38 L279.47,254.38 L279.57,254.38 L279.67,254.38 L279.77,254.38 L279.87,254.38 L279.97,254.38 L280.07,254.38 L280.17,254.38 L280.27,254.38 L280.37,254.38 L280.47,254.38 L280.57,254.38 L280.66,254.38 L280.76,254.38 L280.86,254.38 L280.96,254.38 L281.06,254.38 L281.16,254.38 L281.26,254.38 L281.36,254.38 L281.46,254.38 L281.56,254.38 L281.66,254.38 L281.76,254.38 L281.86,254.38 L281.96,254.38 L282.06,254.38 L282.16,254.38 L282.26,254.38 L282.36,254.38 L282.46,254.38 L282.56,254.38 L282.65,254.38 L282.75,254.38 L282.85,254.38 L282.95,254.38 L283.05,254.38 L283.15,254.38 L283.25,254.38 L283.35,254.38 L283.45,254.38 L283.55,254.38 L283.65,254.38 L283.75,254.38 L283.85,254.38 L283.95,254.38 L284.05,254.38 L284.15,254.38 L284.25,254.38 L284.35,254.38 L284.45,254.38 L284.55,254.38 L284.64,254.38 L284.74,254.38 L284.84,254.38 L284.94,254.38 L285.04,254.38 L285.14,254.38 L285.24,254.38 L285.34,254.38 L285.44,254.38 L285.54,254.38 L285.64,254.38 L285.74,254.38 L285.84,254.38 L285.94,254.38 L286.04,254.38 L286.14,254.38 L286.24,254.38 L286.34,254.38 L286.44,254.38 L286.54,254.38 L286.63,254.38 L286.73,254.38 L286.83,254.38 L286.93,254.38 L287.03,254.38 L287.13,254.38 L287.23,254.38 L287.33,254.38 L287.43,254.38 L287.53,254.38 L287.63,254.38 L287.73,254.38 L287.83,254.38 L287.93,254.38 L288.03,254.38 L288.13,254.38 L288.23,254.38 L288.33,254.38 L288.43,254.38 L288.53,254.38 L288.62,254.38 L288.72,254.38 L288.82,254.38 L288.92,254.38 L289.02,254.38 L289.12,254.38 L289.22,254.38 L289.32,254.38 L289.42,254.38 L289.52,254.38 L289.62,254.38 L289.72,254.38 L289.82,254.38 L289.92,254.38 L290.02,254.38 L290.12,254.38 L290.22,254.38 L290.32,254.38 L290.42,254.38 L290.52,254.38 L290.61,254.38 L290.71,254.38 L290.81,254.38 L290.91,254.38 L291.01,254.38 L291.11,254.38 L291.21,254.38 L291.31,254.38 L291.41,254.38 L291.51,254.38 L291.61,254.38 L291.71,254.38 L291.81,254.38 L291.91,254.38 L292.01,254.38 L292.11,254.38 L292.21,254.38 L292.31,254.38 L292.41,254.38 L292.51,254.38 L292.60,254.38 L292.70,254.38 L292.80,254.38 L292.90,254.38 L293.00,254.38 L293.10,254.38 L293.20,254.38 L293.30,254.38 L293.40,254.38 L293.50,254.38 L293.60,254.38 L293.70,254.38 L293.80,254.38 L293.90,254.38 L294.00,254.38 L294.10,254.38 L294.20,254.38 L294.30,254.38 L294.40,254.38 L294.50,254.38 L294.59,254.38 L294.69,254.38 L294.79,254.38 L294.89,254.38 L294.99,254.38 L295.09,254.38 L295.19,254.38 L295.29,254.38 L295.39,254.38 L295.49,254.38 L295.59,254.38 L295.69,254.38 L295.79,254.38 L295.89,254.38 L295.99,254.38 L296.09,254.38 L296.19,254.38 L296.29,254.38 L296.39,254.38 L296.49,254.38 L296.58,254.38 L296.68,254.38 L296.78,254.38 L296.88,254.38 L296.98,254.38 L297.08,254.38 L297.18,254.38 L297.28,254.38 L297.38,254.38 L297.48,254.38 L297.58,254.38 L297.68,254.38 L297.78,254.38 L297.88,254.38 L297.98,254.38 L298.08,254.38 L298.18,254.38 L298.28,254.38 L298.38,254.38 L298.48,254.38 L298.57,254.38 L298.67,254.38 L298.77,254.38 L298.87,254.38 L298.97,254.38 L299.07,254.38 L299.17,254.38 L299.27,254.38 L299.37,254.38 L299.47,254.38 L299.57,254.38 L299.67,254.38 L299.77,254.38 L299.87,254.38 L299.97,254.38 L300.07,254.38 L300.17,254.38 L300.27,254.38 L300.37,254.38 L300.47,254.38 L300.56,254.38 L300.66,254.38 L300.76,254.38 L300.86,254.38 L300.96,254.38 L301.06,254.38 L301.16,254.38 L301.26,254.38 L301.36,254.38 L301.46,254.38 L301.56,254.38 L301.66,254.38 L301.76,254.38 L301.86,254.38 L301.96,254.38 L302.06,254.38 L302.16,254.38 L302.26,254.38 L302.36,254.38 L302.46,254.38 L302.55,254.38 L302.65,254.38 L302.75,254.38 L302.85,254.38 L302.95,254.38 L303.05,254.38 L303.15,254.38 L303.25,254.38 L303.35,254.38 L303.45,254.38 L303.55,254.38 L303.65,254.38 L303.75,254.38 L303.85,254.38 L303.95,254.38 L304.05,254.38 L304.15,254.38 L304.25,254.38 L304.35,254.38 L304.45,254.38 L304.54,254.38 L304.64,254.38 L304.74,254.38 L304.84,254.38 L304.94,254.38 L305.04,254.38 L305.14,254.38 L305.24,254.38 L305.34,254.38 L305.44,254.38 L305.54,254.38 L305.64,254.38 L305.74,254.38 L305.84,254.38 L305.94,254.38 L306.04,254.38 L306.14,254.38 L306.24,254.38 L306.34,254.38 L306.44,254.38 L306.53,254.38 L306.63,254.38 L306.73,254.38 L306.83,254.38 L306.93,254.38 L307.03,254.38 L307.13,254.38 L307.23,254.38 L307.33,254.38 L307.43,254.38 L307.53,254.38 L307.63,254.38 L307.73,254.38 L307.83,254.38 L307.93,254.38 L308.03,254.38 L308.13,254.38 L308.23,254.38 L308.33,254.38 L308.43,254.38 L308.52,254.38 L308.62,254.38 L308.72,254.38 L308.82,254.38 L308.92,254.38 L309.02,254.38 L309.12,254.38 L309.22,254.38 L309.32,254.38 L309.42,254.38 L309.52,254.38 L309.62,254.38 L309.72,254.38 L309.82,254.38 L309.92,254.38 L310.02,254.38 L310.12,254.38 L310.22,254.38 L310.32,254.38 L310.42,254.38 L310.51,254.38 L310.61,254.38 L310.71,254.38 L310.81,254.38 L310.91,254.38 L311.01,254.38 L311.11,254.38 L311.21,254.38 L311.31,254.38 L311.41,254.38 L311.51,254.38 L311.61,254.38 L311.71,254.38 L311.81,254.38 L311.91,254.38 L312.01,254.38 L312.11,254.38 L312.21,254.38 L312.31,254.38 L312.41,254.38 L312.50,254.38 L312.60,254.38 L312.70,254.38 L312.80,254.38 L312.90,254.38 L313.00,254.38 L313.10,254.38 L313.20,254.38 L313.30,254.38 L313.40,254.38 L313.50,254.38 L313.60,254.38 L313.70,254.38 L313.80,254.38 L313.90,254.38 L314.00,254.38 L314.10,254.38 L314.20,254.38 L314.30,254.38 L314.40,254.38 L314.49,254.38 L314.59,254.38 L314.69,254.38 L314.79,254.38 L314.89,254.38 L314.99,254.38 L315.09,254.38 L315.19,254.38 L315.29,254.38 L315.39,254.38 L315.49,254.38 L315.59,254.38 L315.69,254.38 L315.79,254.38 L315.89,254.38 L315.99,254.38 L316.09,254.38 L316.19,254.38 L316.29,254.38 L316.39,254.38 L316.48,254.38 L316.58,254.38 L316.68,254.38 L316.78,254.38 L316.88,254.38 L316.98,254.38 L317.08,254.38 L317.18,254.38 L317.28,254.38 L317.38,254.38 L317.48,254.38 L317.58,254.38 L317.68,254.38 L317.78,254.38 L317.88,254.38 L317.98,254.38 L318.08,254.38 L318.18,254.38 L318.28,254.38 L318.38,254.38 L318.47,254.38 L318.57,254.38 L318.67,254.38 L318.77,254.38 L318.87,254.38 L318.97,254.38 L319.07,254.38 L319.17,254.38 L319.27,254.38 L319.37,254.38 L319.47,254.38 L319.57,254.38 L319.67,254.38 L319.77,254.38 L319.87,254.38 L319.97,254.38 L320.07,254.38 L320.17,254.38 L320.27,254.38 L320.37,254.38 L320.46,254.38 L320.56,254.38 L320.66,254.38 L320.76,254.38 L320.86,254.38 L320.96,254.38 L321.06,254.38 L321.16,254.38 L321.26,254.38 L321.36,254.38 L321.46,254.38 L321.56,254.38 L321.66,254.38 L321.76,254.38 L321.86,254.38 L321.96,254.38 L322.06,254.38 L322.16,254.38 L322.26,254.38 L322.36,254.38 L322.45,254.38 L322.55,254.38 L322.65,254.38 L322.75,254.38 L322.85,254.38 L322.95,254.38 L323.05,254.38 L323.15,254.38 L323.25,254.38 L323.35,254.38 L323.45,254.38 L323.55,254.38 L323.65,254.38 L323.75,254.38 L323.85,254.38 L323.95,254.38 L324.05,254.38 L324.15,254.38 L324.25,254.38 L324.35,254.38 L324.44,254.38 L324.54,254.38 L324.64,254.38 L324.74,254.38 L324.84,254.38 L324.94,254.38 L325.04,254.38 L325.14,254.38 L325.24,254.38 L325.34,254.38 L325.44,254.38 L325.54,254.38 L325.64,254.38 L325.74,254.38 L325.84,254.38 L325.94,254.38 L326.04,254.38 L326.14,254.38 L326.24,254.38 L326.34,254.38 L326.43,254.38 L326.53,254.38 L326.63,254.38 L326.73,254.38 L326.83,254.38 L326.93,254.38 L327.03,254.38 L327.13,254.38 L327.23,254.38 L327.33,254.38 L327.43,254.38 L327.53,254.38 L327.63,254.38 L327.73,254.38 L327.83,254.38 L327.93,254.38 L328.03,254.38 L328.13,254.38 L328.23,254.38 L328.33,254.38 L328.42,254.38 L328.52,254.38 L328.62,254.38 L328.72,254.38 L328.82,254.38 L328.92,254.38 L329.02,254.38 L329.12,254.38 L329.22,254.38 L329.32,254.38 L329.42,254.38 L329.52,254.38 L329.62,254.38 L329.72,254.38 L329.82,254.38 L329.92,254.38 L330.02,254.38 L330.12,254.38 L330.22,254.38 L330.32,254.38 L330.41,254.38 L330.51,254.38 L330.61,254.38 L330.71,254.38 L330.81,254.38 L330.91,254.38 L331.01,254.38 L331.11,254.38 L331.21,254.38 L331.31,254.38 L331.41,254.38 L331.51,254.38 L331.61,254.38 L331.71,254.38 L331.81,254.38 L331.91,254.38 L332.01,254.38 L332.11,254.38 L332.21,254.38 L332.31,254.38 L332.40,254.38 L332.50,254.38 L332.60,254.38 L332.70,254.38 L332.80,254.38 L332.90,254.38 L333.00,254.38 L333.10,254.38 L333.20,254.38 L333.30,254.38" stroke="#0a0aff" stroke-width="2.0"/>
</g>
<text class="t" transform="translate(34.90,432.00) scale(0.99,1)" font-size="9.9" text-anchor="middle" >0</text>
<text class="t" transform="translate(109.50,432.00) scale(0.99,1)" font-size="9.9" text-anchor="middle" >0.5</text>
<text class="t" transform="translate(184.10,432.00) scale(0.99,1)" font-size="9.9" text-anchor="middle" >1</text>
<text class="t" transform="translate(258.70,432.00) scale(0.99,1)" font-size="9.9" text-anchor="middle" >1.5</text>
<text class="t" transform="translate(333.30,432.00) scale(0.99,1)" font-size="9.9" text-anchor="middle" >2</text>
<text class="t" transform="translate(31.60,402.96) scale(0.99,1)" font-size="9.9" text-anchor="end" >0</text>
<text class="t" transform="translate(31.60,373.46) scale(0.99,1)" font-size="9.9" text-anchor="end" >50</text>
<text class="t" transform="translate(31.60,343.96) scale(0.99,1)" font-size="9.9" text-anchor="end" >100</text>
<text class="t" transform="translate(31.60,314.46) scale(0.99,1)" font-size="9.9" text-anchor="end" >150</text>
<text class="t" transform="translate(31.60,284.96) scale(0.99,1)" font-size="9.9" text-anchor="end" >200</text>
<text class="t" transform="translate(31.60,255.46) scale(0.99,1)" font-size="9.9" text-anchor="end" >250</text>
<text class="t" transform="translate(184.50,445.70) scale(1.07,1)" font-size="9.8" text-anchor="middle" >Time (sec)</text>
<text class="t" transform="translate(7.20,327.15) rotate(-90) scale(1.07,1)" font-size="9.8" text-anchor="middle" >PV Voltage (V)</text>
<text class="s" transform="translate(208.80,473.20)" font-size="12.6" text-anchor="middle" >(ii)</text>
<clipPath id="c3"><rect x="364.50" y="238.00" width="317.30" height="180.50"/></clipPath>
<rect x="365.70" y="238.00" width="315.60" height="180.50" fill="#fff"/>
<path d="M381.48,238.00V418.50M397.26,238.00V418.50M413.04,238.00V418.50M428.82,238.00V418.50M460.38,238.00V418.50M476.16,238.00V418.50M491.94,238.00V418.50M507.72,238.00V418.50M539.28,238.00V418.50M555.06,238.00V418.50M570.84,238.00V418.50M586.62,238.00V418.50M618.18,238.00V418.50M633.96,238.00V418.50M649.74,238.00V418.50M665.52,238.00V418.50M365.70,410.40H681.30M365.70,392.40H681.30M365.70,383.40H681.30M365.70,374.40H681.30M365.70,356.40H681.30M365.70,347.40H681.30M365.70,338.40H681.30M365.70,320.40H681.30M365.70,311.40H681.30M365.70,302.40H681.30M365.70,284.40H681.30M365.70,275.40H681.30M365.70,266.40H681.30M365.70,248.40H681.30M365.70,239.40H681.30" stroke="#dbdbdb" stroke-width="0.9" stroke-dasharray="1 1.68" fill="none"/>
<path d="M444.60,418.50V238.00M523.50,418.50V238.00M602.40,418.50V238.00M365.70,401.40H681.30M365.70,365.40H681.30M365.70,329.40H681.30M365.70,293.40H681.30M365.70,257.40H681.30" stroke="#585858" stroke-width="1.05" stroke-dasharray="6.1 3.65" fill="none"/>
<rect x="365.70" y="238.00" width="315.60" height="180.50" fill="none" stroke="#5c5c5c" stroke-width="1.1"/>
<g clip-path="url(#c3)" fill="none" stroke-linejoin="round" stroke-linecap="round">
<path d="M365.70,401.40 L365.81,386.66 L365.91,375.20 L366.02,366.12 L366.12,358.77 L366.23,352.70 L366.33,347.56 L366.44,343.13 L366.54,339.22 L366.65,335.71 L366.75,332.51 L366.86,329.56 L366.96,326.81 L367.07,324.23 L367.17,321.78 L367.28,319.45 L367.38,317.23 L367.49,315.10 L367.59,313.06 L367.70,311.10 L367.80,309.21 L367.91,307.38 L368.02,305.63 L368.12,303.94 L368.23,302.30 L368.33,300.72 L368.44,299.20 L368.54,297.73 L368.65,296.31 L368.75,294.94 L368.86,293.62 L368.96,292.34 L369.07,291.10 L369.17,289.91 L369.28,288.75 L369.38,287.64 L369.49,286.56 L369.59,285.52 L369.70,284.52 L369.80,283.55 L369.91,282.61 L370.01,281.71 L370.12,280.83 L370.23,279.99 L370.33,279.17 L370.44,278.38 L370.54,277.62 L370.65,276.89 L370.75,276.18 L370.86,275.49 L370.96,274.83 L371.07,274.19 L371.17,273.57 L371.28,272.97 L371.38,272.39 L371.49,271.83 L371.59,271.29 L371.70,270.77 L371.80,270.27 L371.91,269.78 L372.01,269.31 L372.12,268.86 L372.22,268.42 L372.33,268.00 L372.44,267.59 L372.54,267.20 L372.65,266.81 L372.75,266.45 L372.86,266.09 L372.96,265.74 L373.07,265.41 L373.17,265.09 L373.28,264.78 L373.38,264.48 L373.49,264.19 L373.59,263.91 L373.70,263.64 L373.80,263.38 L373.91,263.13 L374.01,262.89 L374.12,262.65 L374.22,262.42 L374.33,262.20 L374.43,261.99 L374.54,261.79 L374.64,261.59 L374.75,261.40 L374.86,261.21 L374.96,261.03 L375.07,260.86 L375.17,260.70 L375.28,260.54 L375.38,260.38 L375.49,260.23 L375.59,260.08 L375.70,259.94 L375.80,259.81 L375.91,259.68 L376.01,259.55 L376.12,259.43 L376.22,259.31 L376.33,259.20 L376.43,259.09 L376.54,258.98 L376.64,258.88 L376.75,258.78 L376.85,258.68 L376.96,258.59 L377.07,258.50 L377.17,258.42 L377.28,258.33 L377.38,258.25 L377.49,258.17 L377.59,258.10 L377.70,258.03 L377.80,257.96 L377.91,257.89 L378.01,257.82 L378.12,257.76 L378.22,257.70 L378.33,257.64 L378.43,257.58 L378.54,257.53 L378.64,257.47 L378.75,257.42 L378.85,257.37 L378.96,257.33 L379.06,257.28 L379.17,257.23 L379.28,257.19 L379.38,257.15 L379.49,257.11 L379.59,257.07 L379.70,257.03 L379.80,257.00 L379.91,256.96 L380.01,256.93 L380.12,256.89 L380.22,256.86 L380.33,256.83 L380.43,256.80 L380.54,256.77 L380.64,256.75 L380.75,256.72 L380.85,256.69 L380.96,256.67 L381.06,256.64 L381.17,256.62 L381.27,256.60 L381.38,256.58 L381.49,256.56 L381.59,256.54 L381.70,256.52 L381.80,256.50 L381.91,256.48 L382.01,256.46 L382.12,256.44 L382.22,256.43 L382.33,256.41 L382.43,256.40 L382.54,256.38 L382.64,256.37 L382.75,256.35 L382.85,256.34 L382.96,256.33 L383.06,256.31 L383.17,256.30 L383.27,256.29 L383.38,256.28 L383.48,256.27 L383.59,256.26 L383.70,256.25 L383.80,256.24 L383.91,256.23 L384.01,256.22 L384.12,256.21 L384.22,256.20 L384.33,256.19 L384.43,256.19 L384.54,256.18 L384.64,256.17 L384.75,256.16 L384.85,256.16 L384.96,256.15 L385.06,256.14 L385.17,256.14 L385.27,256.13 L385.38,256.13 L385.48,256.12 L385.59,256.11 L385.69,256.11 L385.80,256.10 L385.91,256.10 L386.01,256.09 L386.12,256.09 L386.22,256.09 L386.33,256.08 L386.43,256.08 L386.54,256.07 L386.64,256.07 L386.75,256.07 L386.85,256.06 L386.96,256.06 L387.06,256.06 L387.17,256.05 L387.27,256.05 L387.38,256.05 L387.48,256.04 L387.59,256.04 L387.69,256.04 L387.80,256.03 L387.90,256.03 L388.01,256.03 L388.12,256.03 L388.22,256.03 L388.33,256.02 L388.43,256.02 L388.54,256.02 L388.64,256.02 L388.75,256.01 L388.85,256.01 L388.96,256.01 L389.06,256.01 L389.17,256.01 L389.27,256.01 L389.38,256.00 L389.48,256.00 L389.59,256.00 L389.69,256.00 L389.80,256.00 L389.90,256.00 L390.01,256.00 L390.11,256.00 L390.22,255.99 L390.33,255.99 L390.43,255.99 L390.54,255.99 L390.64,255.99 L390.75,255.99 L390.85,255.99 L390.96,255.99 L391.06,255.99 L391.17,255.98 L391.27,255.98 L391.38,255.98 L391.48,255.98 L391.59,255.98 L391.69,255.98 L391.80,255.98 L391.90,255.98 L392.01,255.98 L392.11,255.98 L392.22,255.98 L392.32,255.98 L392.43,255.98 L392.53,255.98 L392.64,255.98 L392.75,255.97 L392.85,255.97 L392.96,255.97 L393.06,255.97 L393.17,255.97 L393.27,255.97 L393.38,255.97 L393.48,255.97 L393.59,255.97 L393.69,255.97 L393.80,255.97 L393.90,255.97 L394.01,255.97 L394.11,255.97 L394.22,255.97 L394.32,255.97 L394.43,255.97 L394.53,255.97 L394.64,255.97 L394.74,255.97 L394.85,255.97 L394.96,255.97 L395.06,255.97 L395.17,255.97 L395.27,255.97 L395.38,255.97 L395.48,255.97 L395.59,255.97 L395.69,255.97 L395.80,255.97 L395.90,255.97 L396.01,255.97 L396.11,255.96 L396.22,255.96 L396.32,255.96 L396.43,255.96 L396.53,255.96 L396.64,255.96 L396.74,255.96 L396.85,255.96 L396.95,255.96 L397.06,255.96 L397.17,255.96 L397.27,255.96 L397.38,255.96 L397.48,255.96 L397.59,255.96 L397.69,255.96 L397.80,255.96 L397.90,255.96 L398.01,255.96 L398.11,255.96 L398.22,255.96 L398.32,255.96 L398.43,255.96 L398.53,255.96 L398.64,255.96 L398.74,255.96 L398.85,255.96 L398.95,255.96 L399.06,255.96 L399.16,255.96 L399.27,255.96 L399.38,255.96 L399.48,255.96 L399.59,255.96 L399.69,255.96 L399.80,255.96 L399.90,255.96 L400.01,255.96 L400.11,255.96 L400.22,255.96 L400.32,255.96 L400.43,255.96 L400.53,255.96 L400.64,255.96 L400.74,255.96 L400.85,255.96 L400.95,255.96 L401.06,255.96 L401.16,255.96 L401.27,255.96 L401.37,255.96 L401.48,255.96 L401.59,255.96 L401.69,255.96 L401.80,255.96 L401.90,255.96 L402.01,255.96 L402.11,255.96 L402.22,255.96 L402.32,255.96 L402.43,255.96 L402.53,255.96 L402.64,255.96 L402.74,255.96 L402.85,255.96 L402.95,255.96 L403.06,255.96 L403.16,255.96 L403.27,255.96 L403.37,255.96 L403.48,255.96 L403.58,255.96 L403.69,255.96 L403.80,255.96 L403.90,255.96 L404.01,255.96 L404.11,255.96 L404.22,255.96 L404.32,255.96 L404.43,255.96 L404.53,255.96 L404.64,255.96 L404.74,255.96 L404.85,255.96 L404.95,255.96 L405.06,255.96 L405.16,255.96 L405.27,255.96 L405.37,255.96 L405.48,255.96 L405.58,255.96 L405.69,255.96 L405.79,255.96 L405.90,255.96 L406.01,255.96 L406.11,255.96 L406.22,255.96 L406.32,255.96 L406.43,255.96 L406.53,255.96 L406.64,255.96 L406.74,255.96 L406.85,255.96 L406.95,255.96 L407.06,255.96 L407.16,255.96 L407.27,255.96 L407.37,255.96 L407.48,255.96 L407.58,255.96 L407.69,255.96 L407.79,255.96 L407.90,255.96 L408.00,255.96 L408.11,255.96 L408.21,255.96 L408.32,255.96 L408.43,255.96 L408.53,255.96 L408.64,255.96 L408.74,255.96 L408.85,255.96 L408.95,255.96 L409.06,255.96 L409.16,255.96 L409.27,255.96 L409.37,255.96 L409.48,255.96 L409.58,255.96 L409.69,255.96 L409.79,255.96 L409.90,255.96 L410.00,255.96 L410.11,255.96 L410.21,255.96 L410.32,255.96 L410.42,255.96 L410.53,255.96 L410.64,255.96 L410.74,255.96 L410.85,255.96 L410.95,255.96 L411.06,255.96 L411.16,255.96 L411.27,255.96 L411.37,255.96 L411.48,255.96 L411.58,255.96 L411.69,255.96 L411.79,255.96 L411.90,255.96 L412.00,255.96 L412.11,255.96 L412.21,255.96 L412.32,255.96 L412.42,255.96 L412.53,255.96 L412.63,255.96 L412.72,255.96 L412.74,256.08 L412.85,256.89 L412.95,257.68 L413.06,258.44 L413.16,259.18 L413.27,259.90 L413.37,260.60 L413.48,261.28 L413.58,261.94 L413.69,262.59 L413.79,263.21 L413.90,263.82 L414.00,264.40 L414.11,264.98 L414.21,265.53 L414.32,266.07 L414.42,266.59 L414.53,267.10 L414.63,267.60 L414.74,268.08 L414.84,268.54 L414.95,269.00 L415.06,269.44 L415.16,269.86 L415.27,270.28 L415.37,270.68 L415.48,271.08 L415.58,271.46 L415.69,271.83 L415.79,272.19 L415.90,272.53 L416.00,272.87 L416.11,273.20 L416.21,273.52 L416.32,273.83 L416.42,274.14 L416.53,274.43 L416.63,274.71 L416.74,274.99 L416.84,275.26 L416.95,275.52 L417.05,275.77 L417.16,276.02 L417.27,276.26 L417.37,276.49 L417.48,276.72 L417.58,276.94 L417.69,277.15 L417.79,277.36 L417.90,277.56 L418.00,277.76 L418.11,277.95 L418.21,278.13 L418.32,278.31 L418.42,278.48 L418.53,278.65 L418.63,278.82 L418.74,278.98 L418.84,279.13 L418.95,279.28 L419.05,279.43 L419.16,279.57 L419.26,279.71 L419.37,279.84 L419.48,279.97 L419.58,280.10 L419.69,280.22 L419.79,280.34 L419.90,280.46 L420.00,280.57 L420.11,280.68 L420.21,280.79 L420.32,280.89 L420.42,280.99 L420.53,281.09 L420.63,281.18 L420.74,281.27 L420.84,281.36 L420.95,281.45 L421.05,281.53 L421.16,281.62 L421.26,281.70 L421.37,281.77 L421.47,281.85 L421.58,281.92 L421.69,281.99 L421.79,282.06 L421.90,282.13 L422.00,282.19 L422.11,282.26 L422.21,282.32 L422.32,282.38 L422.42,282.43 L422.53,282.49 L422.63,282.54 L422.74,282.60 L422.84,282.65 L422.95,282.70 L423.05,282.75 L423.16,282.80 L423.26,282.84 L423.37,282.89 L423.47,282.93 L423.58,282.97 L423.68,283.01 L423.79,283.05 L423.89,283.09 L424.00,283.13 L424.11,283.16 L424.21,283.20 L424.32,283.23 L424.42,283.27 L424.53,283.30 L424.63,283.33 L424.74,283.36 L424.84,283.39 L424.95,283.42 L425.05,283.45 L425.16,283.47 L425.26,283.50 L425.37,283.53 L425.47,283.55 L425.58,283.58 L425.68,283.60 L425.79,283.62 L425.89,283.64 L426.00,283.67 L426.10,283.69 L426.21,283.71 L426.32,283.73 L426.42,283.75 L426.53,283.77 L426.63,283.78 L426.74,283.80 L426.84,283.82 L426.95,283.83 L427.05,283.85 L427.16,283.87 L427.26,283.88 L427.37,283.90 L427.47,283.91 L427.58,283.93 L427.68,283.94 L427.79,283.95 L427.89,283.96 L428.00,283.98 L428.10,283.99 L428.21,284.00 L428.31,284.01 L428.42,284.02 L428.53,284.03 L428.63,284.04 L428.74,284.05 L428.84,284.06 L428.95,284.07 L429.05,284.08 L429.16,284.09 L429.26,284.10 L429.37,284.11 L429.47,284.12 L429.58,284.13 L429.68,284.13 L429.79,284.14 L429.89,284.15 L430.00,284.16 L430.10,284.16 L430.21,284.17 L430.31,284.18 L430.42,284.18 L430.52,284.19 L430.63,284.20 L430.74,284.20 L430.84,284.21 L430.95,284.21 L431.05,284.22 L431.16,284.22 L431.26,284.23 L431.37,284.23 L431.47,284.24 L431.58,284.24 L431.68,284.25 L431.79,284.25 L431.89,284.26 L432.00,284.26 L432.10,284.26 L432.21,284.27 L432.31,284.27 L432.42,284.27 L432.52,284.28 L432.63,284.28 L432.73,284.29 L432.84,284.29 L432.95,284.29 L433.05,284.29 L433.16,284.30 L433.26,284.30 L433.37,284.30 L433.47,284.31 L433.58,284.31 L433.68,284.31 L433.79,284.31 L433.89,284.32 L434.00,284.32 L434.10,284.32 L434.21,284.32 L434.31,284.33 L434.42,284.33 L434.52,284.33 L434.63,284.33 L434.73,284.33 L434.84,284.34 L434.94,284.34 L435.05,284.34 L435.16,284.34 L435.26,284.34 L435.37,284.34 L435.47,284.35 L435.58,284.35 L435.68,284.35 L435.79,284.35 L435.89,284.35 L436.00,284.35 L436.10,284.35 L436.21,284.36 L436.31,284.36 L436.42,284.36 L436.52,284.36 L436.63,284.36 L436.73,284.36 L436.84,284.36 L436.94,284.36 L437.05,284.37 L437.15,284.37 L437.26,284.37 L437.37,284.37 L437.47,284.37 L437.58,284.37 L437.68,284.37 L437.79,284.37 L437.89,284.37 L438.00,284.37 L438.10,284.37 L438.21,284.37 L438.31,284.38 L438.42,284.38 L438.52,284.38 L438.63,284.38 L438.73,284.38 L438.84,284.38 L438.94,284.38 L439.05,284.38 L439.15,284.38 L439.26,284.38 L439.36,284.38 L439.47,284.38 L439.58,284.38 L439.68,284.38 L439.79,284.38 L439.89,284.38 L440.00,284.38 L440.10,284.38 L440.21,284.39 L440.31,284.39 L440.42,284.39 L440.52,284.39 L440.63,284.39 L440.73,284.39 L440.84,284.39 L440.94,284.39 L441.05,284.39 L441.15,284.39 L441.26,284.39 L441.36,284.39 L441.47,284.39 L441.57,284.39 L441.68,284.39 L441.78,284.39 L441.89,284.39 L442.00,284.39 L442.10,284.39 L442.21,284.39 L442.31,284.39 L442.42,284.39 L442.52,284.39 L442.63,284.39 L442.73,284.39 L442.84,284.39 L442.94,284.39 L443.05,284.39 L443.15,284.39 L443.26,284.39 L443.36,284.39 L443.47,284.39 L443.57,284.39 L443.68,284.39 L443.78,284.39 L443.89,284.39 L443.99,284.39 L444.10,284.39 L444.21,284.40 L444.31,284.40 L444.42,284.40 L444.52,284.40 L444.63,284.40 L444.73,284.40 L444.84,284.40 L444.94,284.40 L445.05,284.40 L445.15,284.40 L445.26,284.40 L445.36,284.40 L445.47,284.40 L445.57,284.40 L445.68,284.40 L445.78,284.40 L445.89,284.40 L445.99,284.40 L446.10,284.40 L446.20,284.40 L446.31,284.40 L446.42,284.40 L446.52,284.40 L446.63,284.40 L446.73,284.40 L446.84,284.40 L446.94,284.40 L447.05,284.40 L447.15,284.40 L447.26,284.40 L447.36,284.40 L447.47,284.40 L447.57,284.40 L447.68,284.40 L447.78,284.40 L447.89,284.40 L447.99,284.40 L448.10,284.40 L448.20,284.40 L448.31,284.40 L448.41,284.40 L448.52,284.40 L448.63,284.40 L448.73,284.40 L448.84,284.40 L448.94,284.40 L449.05,284.40 L449.15,284.40 L449.26,284.40 L449.36,284.40 L449.47,284.40 L449.57,284.40 L449.68,284.40 L449.78,284.40 L449.89,284.40 L449.99,284.40 L450.10,284.40 L450.20,284.40 L450.31,284.40 L450.41,284.40 L450.52,284.40 L450.62,284.40 L450.73,284.40 L450.84,284.40 L450.94,284.40 L451.05,284.40 L451.15,284.40 L451.26,284.40 L451.36,284.40 L451.47,284.40 L451.57,284.40 L451.68,284.40 L451.78,284.40 L451.89,284.40 L451.99,284.40 L452.10,284.40 L452.20,284.40 L452.31,284.40 L452.41,284.40 L452.52,284.40 L452.62,284.40 L452.73,284.40 L452.83,284.40 L452.94,284.40 L453.05,284.40 L453.15,284.40 L453.26,284.40 L453.36,284.40 L453.47,284.40 L453.57,284.40 L453.68,284.40 L453.78,284.40 L453.89,284.40 L453.99,284.40 L454.10,284.40 L454.20,284.40 L454.31,284.40 L454.41,284.40 L454.52,284.40 L454.62,284.40 L454.73,284.40 L454.83,284.40 L454.94,284.40 L455.04,284.40 L455.15,284.40 L455.26,284.40 L455.36,284.40 L455.47,284.40 L455.57,284.40 L455.68,284.40 L455.78,284.40 L455.89,284.40 L455.99,284.40 L456.10,284.40 L456.20,284.40 L456.31,284.40 L456.41,284.40 L456.52,284.40 L456.62,284.40 L456.73,284.40 L456.83,284.40 L456.94,284.40 L457.04,284.40 L457.15,284.40 L457.25,284.40 L457.36,284.40 L457.46,284.40 L457.57,284.40 L457.68,284.40 L457.78,284.40 L457.89,284.40 L457.99,284.40 L458.10,284.40 L458.20,284.40 L458.31,284.40 L458.41,284.40 L458.52,284.40 L458.62,284.40 L458.73,284.40 L458.83,284.40 L458.94,284.40 L459.04,284.40 L459.15,284.40 L459.25,284.40 L459.36,284.40 L459.46,284.40 L459.57,284.40 L459.67,284.40 L459.78,284.40 L459.89,284.40 L459.99,284.40 L460.10,284.40 L460.20,284.40 L460.31,284.40 L460.38,284.40 L460.41,284.65 L460.52,285.48 L460.62,286.28 L460.73,287.06 L460.83,287.82 L460.94,288.55 L461.04,289.27 L461.15,289.96 L461.25,290.64 L461.36,291.29 L461.46,291.93 L461.57,292.55 L461.67,293.15 L461.78,293.73 L461.88,294.30 L461.99,294.85 L462.10,295.38 L462.20,295.90 L462.31,296.41 L462.41,296.90 L462.52,297.37 L462.62,297.84 L462.73,298.29 L462.83,298.72 L462.94,299.15 L463.04,299.56 L463.15,299.96 L463.25,300.35 L463.36,300.72 L463.46,301.09 L463.57,301.45 L463.67,301.79 L463.78,302.13 L463.88,302.46 L463.99,302.77 L464.09,303.08 L464.20,303.38 L464.31,303.67 L464.41,303.95 L464.52,304.23 L464.62,304.50 L464.73,304.76 L464.83,305.01 L464.94,305.25 L465.04,305.49 L465.15,305.72 L465.25,305.94 L465.36,306.16 L465.46,306.37 L465.57,306.58 L465.67,306.78 L465.78,306.97 L465.88,307.16 L465.99,307.34 L466.09,307.52 L466.20,307.69 L466.30,307.86 L466.41,308.02 L466.52,308.18 L466.62,308.34 L466.73,308.48 L466.83,308.63 L466.94,308.77 L467.04,308.91 L467.15,309.04 L467.25,309.17 L467.36,309.30 L467.46,309.42 L467.57,309.54 L467.67,309.65 L467.78,309.76 L467.88,309.87 L467.99,309.98 L468.09,310.08 L468.20,310.18 L468.30,310.27 L468.41,310.37 L468.51,310.46 L468.62,310.55 L468.73,310.63 L468.83,310.72 L468.94,310.80 L469.04,310.88 L469.15,310.95 L469.25,311.03 L469.36,311.10 L469.46,311.17 L469.57,311.24 L469.67,311.31 L469.78,311.37 L469.88,311.43 L469.99,311.49 L470.09,311.55 L470.20,311.61 L470.30,311.67 L470.41,311.72 L470.51,311.77 L470.62,311.82 L470.72,311.87 L470.83,311.92 L470.94,311.97 L471.04,312.01 L471.15,312.06 L471.25,312.10 L471.36,312.14 L471.46,312.18 L471.57,312.22 L471.67,312.26 L471.78,312.30 L471.88,312.33 L471.99,312.37 L472.09,312.40 L472.20,312.44 L472.30,312.47 L472.41,312.50 L472.51,312.53 L472.62,312.56 L472.72,312.59 L472.83,312.62 L472.93,312.64 L473.04,312.67 L473.15,312.69 L473.25,312.72 L473.36,312.74 L473.46,312.77 L473.57,312.79 L473.67,312.81 L473.78,312.83 L473.88,312.85 L473.99,312.87 L474.09,312.89 L474.20,312.91 L474.30,312.93 L474.41,312.95 L474.51,312.97 L474.62,312.98 L474.72,313.00 L474.83,313.02 L474.93,313.03 L475.04,313.05 L475.14,313.06 L475.25,313.08 L475.35,313.09 L475.46,313.10 L475.57,313.12 L475.67,313.13 L475.78,313.14 L475.88,313.15 L475.99,313.16 L476.09,313.18 L476.20,313.19 L476.30,313.20 L476.41,313.21 L476.51,313.22 L476.62,313.23 L476.72,313.24 L476.83,313.25 L476.93,313.26 L477.04,313.26 L477.14,313.27 L477.25,313.28 L477.35,313.29 L477.46,313.30 L477.56,313.30 L477.67,313.31 L477.78,313.32 L477.88,313.33 L477.99,313.33 L478.09,313.34 L478.20,313.34 L478.30,313.35 L478.41,313.36 L478.51,313.36 L478.62,313.37 L478.72,313.37 L478.83,313.38 L478.93,313.38 L479.04,313.39 L479.14,313.39 L479.25,313.40 L479.35,313.40 L479.46,313.41 L479.56,313.41 L479.67,313.42 L479.77,313.42 L479.88,313.42 L479.99,313.43 L480.09,313.43 L480.20,313.44 L480.30,313.44 L480.41,313.44 L480.51,313.45 L480.62,313.45 L480.72,313.45 L480.83,313.46 L480.93,313.46 L481.04,313.46 L481.14,313.46 L481.25,313.47 L481.35,313.47 L481.46,313.47 L481.56,313.47 L481.67,313.48 L481.77,313.48 L481.88,313.48 L481.98,313.48 L482.09,313.49 L482.20,313.49 L482.30,313.49 L482.41,313.49 L482.51,313.49 L482.62,313.50 L482.72,313.50 L482.83,313.50 L482.93,313.50 L483.04,313.50 L483.14,313.50 L483.25,313.51 L483.35,313.51 L483.46,313.51 L483.56,313.51 L483.67,313.51 L483.77,313.51 L483.88,313.52 L483.98,313.52 L484.09,313.52 L484.19,313.52 L484.30,313.52 L484.41,313.52 L484.51,313.52 L484.62,313.52 L484.72,313.52 L484.83,313.53 L484.93,313.53 L485.04,313.53 L485.14,313.53 L485.25,313.53 L485.35,313.53 L485.46,313.53 L485.56,313.53 L485.67,313.53 L485.77,313.53 L485.88,313.53 L485.98,313.53 L486.09,313.54 L486.19,313.54 L486.30,313.54 L486.40,313.54 L486.51,313.54 L486.62,313.54 L486.72,313.54 L486.83,313.54 L486.93,313.54 L487.04,313.54 L487.14,313.54 L487.25,313.54 L487.35,313.54 L487.46,313.54 L487.56,313.54 L487.67,313.54 L487.77,313.54 L487.88,313.55 L487.98,313.55 L488.09,313.55 L488.19,313.55 L488.30,313.55 L488.40,313.55 L488.51,313.55 L488.61,313.55 L488.72,313.55 L488.83,313.55 L488.93,313.55 L489.04,313.55 L489.14,313.55 L489.25,313.55 L489.35,313.55 L489.46,313.55 L489.56,313.55 L489.67,313.55 L489.77,313.55 L489.88,313.55 L489.98,313.55 L490.09,313.55 L490.19,313.55 L490.30,313.55 L490.40,313.55 L490.51,313.55 L490.61,313.55 L490.72,313.55 L490.82,313.55 L490.93,313.55 L491.03,313.55 L491.14,313.55 L491.25,313.55 L491.35,313.55 L491.46,313.55 L491.56,313.55 L491.67,313.55 L491.77,313.55 L491.88,313.56 L491.98,313.56 L492.09,313.56 L492.19,313.56 L492.30,313.56 L492.40,313.56 L492.51,313.56 L492.61,313.56 L492.72,313.56 L492.82,313.56 L492.93,313.56 L493.03,313.56 L493.14,313.56 L493.24,313.56 L493.35,313.56 L493.46,313.56 L493.56,313.56 L493.67,313.56 L493.77,313.56 L493.88,313.56 L493.98,313.56 L494.09,313.56 L494.19,313.56 L494.30,313.56 L494.40,313.56 L494.51,313.56 L494.61,313.56 L494.72,313.56 L494.82,313.56 L494.93,313.56 L495.03,313.56 L495.14,313.56 L495.24,313.56 L495.35,313.56 L495.45,313.56 L495.56,313.56 L495.67,313.56 L495.77,313.56 L495.88,313.56 L495.98,313.56 L496.09,313.56 L496.19,313.56 L496.30,313.56 L496.40,313.56 L496.51,313.56 L496.61,313.56 L496.72,313.56 L496.82,313.56 L496.93,313.56 L497.03,313.56 L497.14,313.56 L497.24,313.56 L497.35,313.56 L497.45,313.56 L497.56,313.56 L497.66,313.56 L497.77,313.56 L497.88,313.56 L497.98,313.56 L498.09,313.56 L498.19,313.56 L498.30,313.56 L498.40,313.56 L498.51,313.56 L498.61,313.56 L498.72,313.56 L498.82,313.56 L498.93,313.56 L499.03,313.56 L499.14,313.56 L499.24,313.56 L499.35,313.56 L499.45,313.56 L499.56,313.56 L499.66,313.56 L499.77,313.56 L499.87,313.56 L499.98,313.56 L500.09,313.56 L500.19,313.56 L500.30,313.56 L500.40,313.56 L500.51,313.56 L500.61,313.56 L500.72,313.56 L500.82,313.56 L500.93,313.56 L501.03,313.56 L501.14,313.56 L501.24,313.56 L501.35,313.56 L501.45,313.56 L501.56,313.56 L501.66,313.56 L501.77,313.56 L501.87,313.56 L501.98,313.56 L502.08,313.56 L502.19,313.56 L502.30,313.56 L502.40,313.56 L502.51,313.56 L502.61,313.56 L502.72,313.56 L502.82,313.56 L502.93,313.56 L503.03,313.56 L503.14,313.56 L503.24,313.56 L503.35,313.56 L503.45,313.56 L503.56,313.56 L503.66,313.56 L503.77,313.56 L503.87,313.56 L503.98,313.56 L504.08,313.56 L504.19,313.56 L504.29,313.56 L504.40,313.56 L504.51,313.56 L504.61,313.56 L504.72,313.56 L504.82,313.56 L504.93,313.56 L505.03,313.56 L505.14,313.56 L505.24,313.56 L505.35,313.56 L505.45,313.56 L505.56,313.56 L505.66,313.56 L505.77,313.56 L505.87,313.56 L505.98,313.56 L506.08,313.56 L506.19,313.56 L506.29,313.56 L506.40,313.56 L506.50,313.56 L506.61,313.56 L506.72,313.56 L506.82,313.56 L506.93,313.56 L507.03,313.56 L507.14,313.56 L507.24,313.56 L507.35,313.56 L507.45,313.56 L507.56,313.56 L507.66,313.56 L507.72,313.56 L507.77,313.94 L507.87,314.76 L507.98,315.56 L508.08,316.34 L508.19,317.09 L508.29,317.82 L508.40,318.53 L508.50,319.23 L508.61,319.90 L508.71,320.55 L508.82,321.18 L508.92,321.80 L509.03,322.40 L509.14,322.98 L509.24,323.54 L509.35,324.09 L509.45,324.62 L509.56,325.14 L509.66,325.64 L509.77,326.13 L509.87,326.60 L509.98,327.06 L510.08,327.51 L510.19,327.95 L510.29,328.37 L510.40,328.78 L510.50,329.18 L510.61,329.56 L510.71,329.94 L510.82,330.31 L510.92,330.66 L511.03,331.00 L511.13,331.34 L511.24,331.66 L511.35,331.98 L511.45,332.29 L511.56,332.59 L511.66,332.88 L511.77,333.16 L511.87,333.43 L511.98,333.70 L512.08,333.95 L512.19,334.20 L512.29,334.45 L512.40,334.68 L512.50,334.91 L512.61,335.14 L512.71,335.35 L512.82,335.56 L512.92,335.77 L513.03,335.97 L513.13,336.16 L513.24,336.35 L513.34,336.53 L513.45,336.71 L513.56,336.88 L513.66,337.05 L513.77,337.21 L513.87,337.36 L513.98,337.52 L514.08,337.67 L514.19,337.81 L514.29,337.95 L514.40,338.09 L514.50,338.22 L514.61,338.35 L514.71,338.47 L514.82,338.59 L514.92,338.71 L515.03,338.83 L515.13,338.94 L515.24,339.05 L515.34,339.15 L515.45,339.25 L515.55,339.35 L515.66,339.45 L515.77,339.54 L515.87,339.63 L515.98,339.72 L516.08,339.81 L516.19,339.89 L516.29,339.97 L516.40,340.05 L516.50,340.13 L516.61,340.20 L516.71,340.27 L516.82,340.34 L516.92,340.41 L517.03,340.48 L517.13,340.54 L517.24,340.60 L517.34,340.66 L517.45,340.72 L517.55,340.78 L517.66,340.83 L517.76,340.89 L517.87,340.94 L517.98,340.99 L518.08,341.04 L518.19,341.09 L518.29,341.14 L518.40,341.18 L518.50,341.22 L518.61,341.27 L518.71,341.31 L518.82,341.35 L518.92,341.39 L519.03,341.43 L519.13,341.46 L519.24,341.50 L519.34,341.53 L519.45,341.57 L519.55,341.60 L519.66,341.63 L519.76,341.66 L519.87,341.69 L519.97,341.72 L520.08,341.75 L520.19,341.78 L520.29,341.81 L520.40,341.83 L520.50,341.86 L520.61,341.88 L520.71,341.91 L520.82,341.93 L520.92,341.95 L521.03,341.97 L521.13,342.00 L521.24,342.02 L521.34,342.04 L521.45,342.06 L521.55,342.08 L521.66,342.09 L521.76,342.11 L521.87,342.13 L521.97,342.15 L522.08,342.16 L522.18,342.18 L522.29,342.19 L522.40,342.21 L522.50,342.22 L522.61,342.24 L522.71,342.25 L522.82,342.26 L522.92,342.28 L523.03,342.29 L523.13,342.30 L523.24,342.31 L523.34,342.33 L523.45,342.34 L523.55,342.35 L523.66,342.36 L523.76,342.37 L523.87,342.38 L523.97,342.39 L524.08,342.40 L524.18,342.41 L524.29,342.42 L524.39,342.43 L524.50,342.43 L524.60,342.44 L524.71,342.45 L524.82,342.46 L524.92,342.46 L525.03,342.47 L525.13,342.48 L525.24,342.49 L525.34,342.49 L525.45,342.50 L525.55,342.51 L525.66,342.51 L525.76,342.52 L525.87,342.52 L525.97,342.53 L526.08,342.53 L526.18,342.54 L526.29,342.55 L526.39,342.55 L526.50,342.55 L526.60,342.56 L526.71,342.56 L526.81,342.57 L526.92,342.57 L527.03,342.58 L527.13,342.58 L527.24,342.59 L527.34,342.59 L527.45,342.59 L527.55,342.60 L527.66,342.60 L527.76,342.60 L527.87,342.61 L527.97,342.61 L528.08,342.61 L528.18,342.62 L528.29,342.62 L528.39,342.62 L528.50,342.62 L528.60,342.63 L528.71,342.63 L528.81,342.63 L528.92,342.64 L529.02,342.64 L529.13,342.64 L529.24,342.64 L529.34,342.64 L529.45,342.65 L529.55,342.65 L529.66,342.65 L529.76,342.65 L529.87,342.65 L529.97,342.66 L530.08,342.66 L530.18,342.66 L530.29,342.66 L530.39,342.66 L530.50,342.67 L530.60,342.67 L530.71,342.67 L530.81,342.67 L530.92,342.67 L531.02,342.67 L531.13,342.67 L531.23,342.68 L531.34,342.68 L531.45,342.68 L531.55,342.68 L531.66,342.68 L531.76,342.68 L531.87,342.68 L531.97,342.68 L532.08,342.68 L532.18,342.69 L532.29,342.69 L532.39,342.69 L532.50,342.69 L532.60,342.69 L532.71,342.69 L532.81,342.69 L532.92,342.69 L533.02,342.69 L533.13,342.69 L533.23,342.69 L533.34,342.69 L533.44,342.70 L533.55,342.70 L533.66,342.70 L533.76,342.70 L533.87,342.70 L533.97,342.70 L534.08,342.70 L534.18,342.70 L534.29,342.70 L534.39,342.70 L534.50,342.70 L534.60,342.70 L534.71,342.70 L534.81,342.70 L534.92,342.70 L535.02,342.70 L535.13,342.70 L535.23,342.71 L535.34,342.71 L535.44,342.71 L535.55,342.71 L535.65,342.71 L535.76,342.71 L535.87,342.71 L535.97,342.71 L536.08,342.71 L536.18,342.71 L536.29,342.71 L536.39,342.71 L536.50,342.71 L536.60,342.71 L536.71,342.71 L536.81,342.71 L536.92,342.71 L537.02,342.71 L537.13,342.71 L537.23,342.71 L537.34,342.71 L537.44,342.71 L537.55,342.71 L537.65,342.71 L537.76,342.71 L537.86,342.71 L537.97,342.71 L538.08,342.71 L538.18,342.71 L538.29,342.71 L538.39,342.71 L538.50,342.71 L538.60,342.71 L538.71,342.71 L538.81,342.71 L538.92,342.71 L539.02,342.71 L539.13,342.71 L539.23,342.72 L539.34,342.72 L539.44,342.72 L539.55,342.72 L539.65,342.72 L539.76,342.72 L539.86,342.72 L539.97,342.72 L540.07,342.72 L540.18,342.72 L540.28,342.72 L540.39,342.72 L540.50,342.72 L540.60,342.72 L540.71,342.72 L540.81,342.72 L540.92,342.72 L541.02,342.72 L541.13,342.72 L541.23,342.72 L541.34,342.72 L541.44,342.72 L541.55,342.72 L541.65,342.72 L541.76,342.72 L541.86,342.72 L541.97,342.72 L542.07,342.72 L542.18,342.72 L542.28,342.72 L542.39,342.72 L542.49,342.72 L542.60,342.72 L542.71,342.72 L542.81,342.72 L542.92,342.72 L543.02,342.72 L543.13,342.72 L543.23,342.72 L543.34,342.72 L543.44,342.72 L543.55,342.72 L543.65,342.72 L543.76,342.72 L543.86,342.72 L543.97,342.72 L544.07,342.72 L544.18,342.72 L544.28,342.72 L544.39,342.72 L544.49,342.72 L544.60,342.72 L544.70,342.72 L544.81,342.72 L544.92,342.72 L545.02,342.72 L545.13,342.72 L545.23,342.72 L545.34,342.72 L545.44,342.72 L545.55,342.72 L545.65,342.72 L545.76,342.72 L545.86,342.72 L545.97,342.72 L546.07,342.72 L546.18,342.72 L546.28,342.72 L546.39,342.72 L546.49,342.72 L546.60,342.72 L546.70,342.72 L546.81,342.72 L546.91,342.72 L547.02,342.72 L547.13,342.72 L547.23,342.72 L547.34,342.72 L547.44,342.72 L547.55,342.72 L547.65,342.72 L547.76,342.72 L547.86,342.72 L547.97,342.72 L548.07,342.72 L548.18,342.72 L548.28,342.72 L548.39,342.72 L548.49,342.72 L548.60,342.72 L548.70,342.72 L548.81,342.72 L548.91,342.72 L549.02,342.72 L549.12,342.72 L549.23,342.72 L549.34,342.72 L549.44,342.72 L549.55,342.72 L549.65,342.72 L549.76,342.72 L549.86,342.72 L549.97,342.72 L550.07,342.72 L550.18,342.72 L550.28,342.72 L550.39,342.72 L550.49,342.72 L550.60,342.72 L550.70,342.72 L550.81,342.72 L550.91,342.72 L551.02,342.72 L551.12,342.72 L551.23,342.72 L551.33,342.72 L551.44,342.72 L551.55,342.72 L551.65,342.72 L551.76,342.72 L551.86,342.72 L551.97,342.72 L552.07,342.72 L552.18,342.72 L552.28,342.72 L552.39,342.72 L552.49,342.72 L552.60,342.72 L552.70,342.72 L552.81,342.72 L552.91,342.72 L553.02,342.72 L553.12,342.72 L553.23,342.72 L553.33,342.72 L553.44,342.72 L553.54,342.72 L553.65,342.72 L553.76,342.72 L553.86,342.72 L553.97,342.72 L554.07,342.72 L554.18,342.72 L554.28,342.72 L554.39,342.72 L554.49,342.72 L554.60,342.72 L554.70,342.72 L554.81,342.72 L554.91,342.72 L555.02,342.72 L555.06,342.72 L555.12,342.11 L555.23,341.13 L555.33,340.18 L555.44,339.26 L555.54,338.37 L555.65,337.52 L555.75,336.69 L555.86,335.89 L555.97,335.12 L556.07,334.38 L556.18,333.66 L556.28,332.97 L556.39,332.30 L556.49,331.65 L556.60,331.03 L556.70,330.43 L556.81,329.84 L556.91,329.28 L557.02,328.74 L557.12,328.22 L557.23,327.71 L557.33,327.22 L557.44,326.75 L557.54,326.30 L557.65,325.86 L557.75,325.43 L557.86,325.02 L557.96,324.63 L558.07,324.25 L558.17,323.88 L558.28,323.52 L558.39,323.18 L558.49,322.85 L558.60,322.53 L558.70,322.22 L558.81,321.92 L558.91,321.63 L559.02,321.35 L559.12,321.08 L559.23,320.82 L559.33,320.57 L559.44,320.33 L559.54,320.10 L559.65,319.87 L559.75,319.65 L559.86,319.44 L559.96,319.24 L560.07,319.05 L560.17,318.86 L560.28,318.67 L560.38,318.50 L560.49,318.33 L560.60,318.16 L560.70,318.00 L560.81,317.85 L560.91,317.70 L561.02,317.56 L561.12,317.42 L561.23,317.29 L561.33,317.16 L561.44,317.04 L561.54,316.92 L561.65,316.80 L561.75,316.69 L561.86,316.58 L561.96,316.48 L562.07,316.38 L562.17,316.28 L562.28,316.18 L562.38,316.09 L562.49,316.01 L562.59,315.92 L562.70,315.84 L562.81,315.76 L562.91,315.69 L563.02,315.61 L563.12,315.54 L563.23,315.47 L563.33,315.41 L563.44,315.34 L563.54,315.28 L563.65,315.22 L563.75,315.17 L563.86,315.11 L563.96,315.06 L564.07,315.01 L564.17,314.96 L564.28,314.91 L564.38,314.86 L564.49,314.82 L564.59,314.77 L564.70,314.73 L564.80,314.69 L564.91,314.65 L565.02,314.61 L565.12,314.58 L565.23,314.54 L565.33,314.51 L565.44,314.48 L565.54,314.44 L565.65,314.41 L565.75,314.38 L565.86,314.36 L565.96,314.33 L566.07,314.30 L566.17,314.28 L566.28,314.25 L566.38,314.23 L566.49,314.20 L566.59,314.18 L566.70,314.16 L566.80,314.14 L566.91,314.12 L567.01,314.10 L567.12,314.08 L567.23,314.06 L567.33,314.05 L567.44,314.03 L567.54,314.01 L567.65,314.00 L567.75,313.98 L567.86,313.97 L567.96,313.95 L568.07,313.94 L568.17,313.93 L568.28,313.91 L568.38,313.90 L568.49,313.89 L568.59,313.88 L568.70,313.87 L568.80,313.86 L568.91,313.85 L569.01,313.84 L569.12,313.83 L569.22,313.82 L569.33,313.81 L569.44,313.80 L569.54,313.79 L569.65,313.78 L569.75,313.78 L569.86,313.77 L569.96,313.76 L570.07,313.76 L570.17,313.75 L570.28,313.74 L570.38,313.74 L570.49,313.73 L570.59,313.72 L570.70,313.72 L570.80,313.71 L570.91,313.71 L571.01,313.70 L571.12,313.70 L571.22,313.69 L571.33,313.69 L571.43,313.68 L571.54,313.68 L571.65,313.68 L571.75,313.67 L571.86,313.67 L571.96,313.66 L572.07,313.66 L572.17,313.66 L572.28,313.65 L572.38,313.65 L572.49,313.65 L572.59,313.64 L572.70,313.64 L572.80,313.64 L572.91,313.64 L573.01,313.63 L573.12,313.63 L573.22,313.63 L573.33,313.63 L573.43,313.62 L573.54,313.62 L573.64,313.62 L573.75,313.62 L573.85,313.62 L573.96,313.61 L574.07,313.61 L574.17,313.61 L574.28,313.61 L574.38,313.61 L574.49,313.60 L574.59,313.60 L574.70,313.60 L574.80,313.60 L574.91,313.60 L575.01,313.60 L575.12,313.60 L575.22,313.60 L575.33,313.59 L575.43,313.59 L575.54,313.59 L575.64,313.59 L575.75,313.59 L575.85,313.59 L575.96,313.59 L576.06,313.59 L576.17,313.59 L576.28,313.58 L576.38,313.58 L576.49,313.58 L576.59,313.58 L576.70,313.58 L576.80,313.58 L576.91,313.58 L577.01,313.58 L577.12,313.58 L577.22,313.58 L577.33,313.58 L577.43,313.58 L577.54,313.58 L577.64,313.58 L577.75,313.58 L577.85,313.57 L577.96,313.57 L578.06,313.57 L578.17,313.57 L578.27,313.57 L578.38,313.57 L578.49,313.57 L578.59,313.57 L578.70,313.57 L578.80,313.57 L578.91,313.57 L579.01,313.57 L579.12,313.57 L579.22,313.57 L579.33,313.57 L579.43,313.57 L579.54,313.57 L579.64,313.57 L579.75,313.57 L579.85,313.57 L579.96,313.57 L580.06,313.57 L580.17,313.57 L580.27,313.57 L580.38,313.57 L580.48,313.57 L580.59,313.57 L580.70,313.57 L580.80,313.57 L580.91,313.57 L581.01,313.57 L581.12,313.56 L581.22,313.56 L581.33,313.56 L581.43,313.56 L581.54,313.56 L581.64,313.56 L581.75,313.56 L581.85,313.56 L581.96,313.56 L582.06,313.56 L582.17,313.56 L582.27,313.56 L582.38,313.56 L582.48,313.56 L582.59,313.56 L582.69,313.56 L582.80,313.56 L582.91,313.56 L583.01,313.56 L583.12,313.56 L583.22,313.56 L583.33,313.56 L583.43,313.56 L583.54,313.56 L583.64,313.56 L583.75,313.56 L583.85,313.56 L583.96,313.56 L584.06,313.56 L584.17,313.56 L584.27,313.56 L584.38,313.56 L584.48,313.56 L584.59,313.56 L584.69,313.56 L584.80,313.56 L584.90,313.56 L585.01,313.56 L585.12,313.56 L585.22,313.56 L585.33,313.56 L585.43,313.56 L585.54,313.56 L585.64,313.56 L585.75,313.56 L585.85,313.56 L585.96,313.56 L586.06,313.56 L586.17,313.56 L586.27,313.56 L586.38,313.56 L586.48,313.56 L586.59,313.56 L586.69,313.56 L586.80,313.56 L586.90,313.56 L587.01,313.56 L587.11,313.56 L587.22,313.56 L587.33,313.56 L587.43,313.56 L587.54,313.56 L587.64,313.56 L587.75,313.56 L587.85,313.56 L587.96,313.56 L588.06,313.56 L588.17,313.56 L588.27,313.56 L588.38,313.56 L588.48,313.56 L588.59,313.56 L588.69,313.56 L588.80,313.56 L588.90,313.56 L589.01,313.56 L589.11,313.56 L589.22,313.56 L589.32,313.56 L589.43,313.56 L589.54,313.56 L589.64,313.56 L589.75,313.56 L589.85,313.56 L589.96,313.56 L590.06,313.56 L590.17,313.56 L590.27,313.56 L590.38,313.56 L590.48,313.56 L590.59,313.56 L590.69,313.56 L590.80,313.56 L590.90,313.56 L591.01,313.56 L591.11,313.56 L591.22,313.56 L591.32,313.56 L591.43,313.56 L591.53,313.56 L591.64,313.56 L591.74,313.56 L591.85,313.56 L591.96,313.56 L592.06,313.56 L592.17,313.56 L592.27,313.56 L592.38,313.56 L592.48,313.56 L592.59,313.56 L592.69,313.56 L592.80,313.56 L592.90,313.56 L593.01,313.56 L593.11,313.56 L593.22,313.56 L593.32,313.56 L593.43,313.56 L593.53,313.56 L593.64,313.56 L593.74,313.56 L593.85,313.56 L593.95,313.56 L594.06,313.56 L594.17,313.56 L594.27,313.56 L594.38,313.56 L594.48,313.56 L594.59,313.56 L594.69,313.56 L594.80,313.56 L594.90,313.56 L595.01,313.56 L595.11,313.56 L595.22,313.56 L595.32,313.56 L595.43,313.56 L595.53,313.56 L595.64,313.56 L595.74,313.56 L595.85,313.56 L595.95,313.56 L596.06,313.56 L596.16,313.56 L596.27,313.56 L596.38,313.56 L596.48,313.56 L596.59,313.56 L596.69,313.56 L596.80,313.56 L596.90,313.56 L597.01,313.56 L597.11,313.56 L597.22,313.56 L597.32,313.56 L597.43,313.56 L597.53,313.56 L597.64,313.56 L597.74,313.56 L597.85,313.56 L597.95,313.56 L598.06,313.56 L598.16,313.56 L598.27,313.56 L598.37,313.56 L598.48,313.56 L598.59,313.56 L598.69,313.56 L598.80,313.56 L598.90,313.56 L599.01,313.56 L599.11,313.56 L599.22,313.56 L599.32,313.56 L599.43,313.56 L599.53,313.56 L599.64,313.56 L599.74,313.56 L599.85,313.56 L599.95,313.56 L600.06,313.56 L600.16,313.56 L600.27,313.56 L600.37,313.56 L600.48,313.56 L600.58,313.56 L600.69,313.56 L600.80,313.56 L600.90,313.56 L601.01,313.56 L601.11,313.56 L601.22,313.56 L601.32,313.56 L601.43,313.56 L601.53,313.56 L601.64,313.56 L601.74,313.56 L601.85,313.56 L601.95,313.56 L602.06,313.56 L602.16,313.56 L602.27,313.56 L602.37,313.56 L602.40,313.56 L602.48,312.80 L602.58,311.82 L602.69,310.88 L602.79,309.96 L602.90,309.08 L603.01,308.23 L603.11,307.41 L603.22,306.62 L603.32,305.85 L603.43,305.11 L603.53,304.39 L603.64,303.71 L603.74,303.04 L603.85,302.40 L603.95,301.78 L604.06,301.18 L604.16,300.60 L604.27,300.04 L604.37,299.50 L604.48,298.98 L604.58,298.48 L604.69,297.99 L604.79,297.52 L604.90,297.07 L605.00,296.63 L605.11,296.21 L605.22,295.80 L605.32,295.41 L605.43,295.03 L605.53,294.66 L605.64,294.31 L605.74,293.97 L605.85,293.64 L605.95,293.32 L606.06,293.01 L606.16,292.71 L606.27,292.43 L606.37,292.15 L606.48,291.88 L606.58,291.63 L606.69,291.38 L606.79,291.14 L606.90,290.90 L607.00,290.68 L607.11,290.46 L607.21,290.25 L607.32,290.05 L607.42,289.86 L607.53,289.67 L607.64,289.49 L607.74,289.31 L607.85,289.14 L607.95,288.98 L608.06,288.82 L608.16,288.67 L608.27,288.52 L608.37,288.38 L608.48,288.24 L608.58,288.11 L608.69,287.98 L608.79,287.86 L608.90,287.74 L609.00,287.62 L609.11,287.51 L609.21,287.40 L609.32,287.30 L609.42,287.20 L609.53,287.10 L609.63,287.01 L609.74,286.92 L609.85,286.83 L609.95,286.75 L610.06,286.67 L610.16,286.59 L610.27,286.52 L610.37,286.44 L610.48,286.37 L610.58,286.30 L610.69,286.24 L610.79,286.17 L610.90,286.11 L611.00,286.05 L611.11,286.00 L611.21,285.94 L611.32,285.89 L611.42,285.84 L611.53,285.79 L611.63,285.74 L611.74,285.69 L611.84,285.65 L611.95,285.61 L612.06,285.56 L612.16,285.52 L612.27,285.49 L612.37,285.45 L612.48,285.41 L612.58,285.38 L612.69,285.34 L612.79,285.31 L612.90,285.28 L613.00,285.25 L613.11,285.22 L613.21,285.19 L613.32,285.16 L613.42,285.14 L613.53,285.11 L613.63,285.09 L613.74,285.06 L613.84,285.04 L613.95,285.02 L614.05,285.00 L614.16,284.98 L614.27,284.96 L614.37,284.94 L614.48,284.92 L614.58,284.90 L614.69,284.88 L614.79,284.87 L614.90,284.85 L615.00,284.84 L615.11,284.82 L615.21,284.81 L615.32,284.79 L615.42,284.78 L615.53,284.77 L615.63,284.75 L615.74,284.74 L615.84,284.73 L615.95,284.72 L616.05,284.71 L616.16,284.70 L616.26,284.69 L616.37,284.68 L616.48,284.67 L616.58,284.66 L616.69,284.65 L616.79,284.64 L616.90,284.63 L617.00,284.62 L617.11,284.62 L617.21,284.61 L617.32,284.60 L617.42,284.59 L617.53,284.59 L617.63,284.58 L617.74,284.58 L617.84,284.57 L617.95,284.56 L618.05,284.56 L618.16,284.55 L618.26,284.55 L618.37,284.54 L618.47,284.54 L618.58,284.53 L618.69,284.53 L618.79,284.52 L618.90,284.52 L619.00,284.51 L619.11,284.51 L619.21,284.51 L619.32,284.50 L619.42,284.50 L619.53,284.50 L619.63,284.49 L619.74,284.49 L619.84,284.49 L619.95,284.48 L620.05,284.48 L620.16,284.48 L620.26,284.48 L620.37,284.47 L620.47,284.47 L620.58,284.47 L620.68,284.47 L620.79,284.46 L620.90,284.46 L621.00,284.46 L621.11,284.46 L621.21,284.45 L621.32,284.45 L621.42,284.45 L621.53,284.45 L621.63,284.45 L621.74,284.45 L621.84,284.44 L621.95,284.44 L622.05,284.44 L622.16,284.44 L622.26,284.44 L622.37,284.44 L622.47,284.44 L622.58,284.43 L622.68,284.43 L622.79,284.43 L622.89,284.43 L623.00,284.43 L623.11,284.43 L623.21,284.43 L623.32,284.43 L623.42,284.43 L623.53,284.43 L623.63,284.42 L623.74,284.42 L623.84,284.42 L623.95,284.42 L624.05,284.42 L624.16,284.42 L624.26,284.42 L624.37,284.42 L624.47,284.42 L624.58,284.42 L624.68,284.42 L624.79,284.42 L624.89,284.42 L625.00,284.42 L625.10,284.41 L625.21,284.41 L625.31,284.41 L625.42,284.41 L625.53,284.41 L625.63,284.41 L625.74,284.41 L625.84,284.41 L625.95,284.41 L626.05,284.41 L626.16,284.41 L626.26,284.41 L626.37,284.41 L626.47,284.41 L626.58,284.41 L626.68,284.41 L626.79,284.41 L626.89,284.41 L627.00,284.41 L627.10,284.41 L627.21,284.41 L627.31,284.41 L627.42,284.41 L627.52,284.41 L627.63,284.41 L627.74,284.41 L627.84,284.41 L627.95,284.41 L628.05,284.41 L628.16,284.41 L628.26,284.41 L628.37,284.41 L628.47,284.40 L628.58,284.40 L628.68,284.40 L628.79,284.40 L628.89,284.40 L629.00,284.40 L629.10,284.40 L629.21,284.40 L629.31,284.40 L629.42,284.40 L629.52,284.40 L629.63,284.40 L629.73,284.40 L629.84,284.40 L629.95,284.40 L630.05,284.40 L630.16,284.40 L630.26,284.40 L630.37,284.40 L630.47,284.40 L630.58,284.40 L630.68,284.40 L630.79,284.40 L630.89,284.40 L631.00,284.40 L631.10,284.40 L631.21,284.40 L631.31,284.40 L631.42,284.40 L631.52,284.40 L631.63,284.40 L631.73,284.40 L631.84,284.40 L631.94,284.40 L632.05,284.40 L632.16,284.40 L632.26,284.40 L632.37,284.40 L632.47,284.40 L632.58,284.40 L632.68,284.40 L632.79,284.40 L632.89,284.40 L633.00,284.40 L633.10,284.40 L633.21,284.40 L633.31,284.40 L633.42,284.40 L633.52,284.40 L633.63,284.40 L633.73,284.40 L633.84,284.40 L633.94,284.40 L634.05,284.40 L634.15,284.40 L634.26,284.40 L634.37,284.40 L634.47,284.40 L634.58,284.40 L634.68,284.40 L634.79,284.40 L634.89,284.40 L635.00,284.40 L635.10,284.40 L635.21,284.40 L635.31,284.40 L635.42,284.40 L635.52,284.40 L635.63,284.40 L635.73,284.40 L635.84,284.40 L635.94,284.40 L636.05,284.40 L636.15,284.40 L636.26,284.40 L636.36,284.40 L636.47,284.40 L636.58,284.40 L636.68,284.40 L636.79,284.40 L636.89,284.40 L637.00,284.40 L637.10,284.40 L637.21,284.40 L637.31,284.40 L637.42,284.40 L637.52,284.40 L637.63,284.40 L637.73,284.40 L637.84,284.40 L637.94,284.40 L638.05,284.40 L638.15,284.40 L638.26,284.40 L638.36,284.40 L638.47,284.40 L638.57,284.40 L638.68,284.40 L638.79,284.40 L638.89,284.40 L639.00,284.40 L639.10,284.40 L639.21,284.40 L639.31,284.40 L639.42,284.40 L639.52,284.40 L639.63,284.40 L639.73,284.40 L639.84,284.40 L639.94,284.40 L640.05,284.40 L640.15,284.40 L640.26,284.40 L640.36,284.40 L640.47,284.40 L640.57,284.40 L640.68,284.40 L640.78,284.40 L640.89,284.40 L640.99,284.40 L641.10,284.40 L641.21,284.40 L641.31,284.40 L641.42,284.40 L641.52,284.40 L641.63,284.40 L641.73,284.40 L641.84,284.40 L641.94,284.40 L642.05,284.40 L642.15,284.40 L642.26,284.40 L642.36,284.40 L642.47,284.40 L642.57,284.40 L642.68,284.40 L642.78,284.40 L642.89,284.40 L642.99,284.40 L643.10,284.40 L643.20,284.40 L643.31,284.40 L643.42,284.40 L643.52,284.40 L643.63,284.40 L643.73,284.40 L643.84,284.40 L643.94,284.40 L644.05,284.40 L644.15,284.40 L644.26,284.40 L644.36,284.40 L644.47,284.40 L644.57,284.40 L644.68,284.40 L644.78,284.40 L644.89,284.40 L644.99,284.40 L645.10,284.40 L645.20,284.40 L645.31,284.40 L645.41,284.40 L645.52,284.40 L645.63,284.40 L645.73,284.40 L645.84,284.40 L645.94,284.40 L646.05,284.40 L646.15,284.40 L646.26,284.40 L646.36,284.40 L646.47,284.40 L646.57,284.40 L646.68,284.40 L646.78,284.40 L646.89,284.40 L646.99,284.40 L647.10,284.40 L647.20,284.40 L647.31,284.40 L647.41,284.40 L647.52,284.40 L647.62,284.40 L647.73,284.40 L647.84,284.40 L647.94,284.40 L648.05,284.40 L648.15,284.40 L648.26,284.40 L648.36,284.40 L648.47,284.40 L648.57,284.40 L648.68,284.40 L648.78,284.40 L648.89,284.40 L648.99,284.40 L649.10,284.40 L649.20,284.40 L649.31,284.40 L649.41,284.40 L649.52,284.40 L649.62,284.40 L649.73,284.40 L649.74,284.40 L649.83,283.52 L649.94,282.57 L650.05,281.65 L650.15,280.76 L650.26,279.91 L650.36,279.08 L650.47,278.28 L650.57,277.51 L650.68,276.77 L650.78,276.05 L650.89,275.36 L650.99,274.69 L651.10,274.04 L651.20,273.42 L651.31,272.82 L651.41,272.24 L651.52,271.68 L651.62,271.13 L651.73,270.61 L651.83,270.10 L651.94,269.62 L652.04,269.15 L652.15,268.69 L652.26,268.25 L652.36,267.83 L652.47,267.42 L652.57,267.02 L652.68,266.64 L652.78,266.27 L652.89,265.92 L652.99,265.57 L653.10,265.24 L653.20,264.92 L653.31,264.61 L653.41,264.31 L653.52,264.03 L653.62,263.75 L653.73,263.48 L653.83,263.22 L653.94,262.97 L654.04,262.73 L654.15,262.49 L654.25,262.27 L654.36,262.05 L654.47,261.84 L654.57,261.64 L654.68,261.44 L654.78,261.25 L654.89,261.07 L654.99,260.89 L655.10,260.72 L655.20,260.56 L655.31,260.40 L655.41,260.25 L655.52,260.10 L655.62,259.96 L655.73,259.82 L655.83,259.69 L655.94,259.56 L656.04,259.43 L656.15,259.31 L656.25,259.20 L656.36,259.09 L656.46,258.98 L656.57,258.87 L656.67,258.77 L656.78,258.68 L656.89,258.58 L656.99,258.49 L657.10,258.41 L657.20,258.32 L657.31,258.24 L657.41,258.16 L657.52,258.09 L657.62,258.01 L657.73,257.94 L657.83,257.87 L657.94,257.81 L658.04,257.74 L658.15,257.68 L658.25,257.62 L658.36,257.57 L658.46,257.51 L658.57,257.46 L658.67,257.40 L658.78,257.35 L658.88,257.31 L658.99,257.26 L659.10,257.22 L659.20,257.17 L659.31,257.13 L659.41,257.09 L659.52,257.05 L659.62,257.01 L659.73,256.98 L659.83,256.94 L659.94,256.91 L660.04,256.88 L660.15,256.84 L660.25,256.81 L660.36,256.78 L660.46,256.76 L660.57,256.73 L660.67,256.70 L660.78,256.68 L660.88,256.65 L660.99,256.63 L661.09,256.60 L661.20,256.58 L661.31,256.56 L661.41,256.54 L661.52,256.52 L661.62,256.50 L661.73,256.48 L661.83,256.46 L661.94,256.45 L662.04,256.43 L662.15,256.41 L662.25,256.40 L662.36,256.38 L662.46,256.37 L662.57,256.35 L662.67,256.34 L662.78,256.33 L662.88,256.31 L662.99,256.30 L663.09,256.29 L663.20,256.28 L663.30,256.27 L663.41,256.26 L663.52,256.25 L663.62,256.24 L663.73,256.23 L663.83,256.22 L663.94,256.21 L664.04,256.20 L664.15,256.19 L664.25,256.18 L664.36,256.18 L664.46,256.17 L664.57,256.16 L664.67,256.16 L664.78,256.15 L664.88,256.14 L664.99,256.14 L665.09,256.13 L665.20,256.12 L665.30,256.12 L665.41,256.11 L665.51,256.11 L665.62,256.10 L665.73,256.10 L665.83,256.09 L665.94,256.09 L666.04,256.08 L666.15,256.08 L666.25,256.08 L666.36,256.07 L666.46,256.07 L666.57,256.06 L666.67,256.06 L666.78,256.06 L666.88,256.05 L666.99,256.05 L667.09,256.05 L667.20,256.04 L667.30,256.04 L667.41,256.04 L667.51,256.04 L667.62,256.03 L667.72,256.03 L667.83,256.03 L667.94,256.03 L668.04,256.02 L668.15,256.02 L668.25,256.02 L668.36,256.02 L668.46,256.02 L668.57,256.01 L668.67,256.01 L668.78,256.01 L668.88,256.01 L668.99,256.01 L669.09,256.00 L669.20,256.00 L669.30,256.00 L669.41,256.00 L669.51,256.00 L669.62,256.00 L669.72,256.00 L669.83,255.99 L669.93,255.99 L670.04,255.99 L670.15,255.99 L670.25,255.99 L670.36,255.99 L670.46,255.99 L670.57,255.99 L670.67,255.99 L670.78,255.99 L670.88,255.98 L670.99,255.98 L671.09,255.98 L671.20,255.98 L671.30,255.98 L671.41,255.98 L671.51,255.98 L671.62,255.98 L671.72,255.98 L671.83,255.98 L671.93,255.98 L672.04,255.98 L672.14,255.98 L672.25,255.98 L672.36,255.98 L672.46,255.97 L672.57,255.97 L672.67,255.97 L672.78,255.97 L672.88,255.97 L672.99,255.97 L673.09,255.97 L673.20,255.97 L673.30,255.97 L673.41,255.97 L673.51,255.97 L673.62,255.97 L673.72,255.97 L673.83,255.97 L673.93,255.97 L674.04,255.97 L674.14,255.97 L674.25,255.97 L674.35,255.97 L674.46,255.97 L674.56,255.97 L674.67,255.97 L674.78,255.97 L674.88,255.97 L674.99,255.97 L675.09,255.97 L675.20,255.97 L675.30,255.97 L675.41,255.97 L675.51,255.97 L675.62,255.97 L675.72,255.96 L675.83,255.96 L675.93,255.96 L676.04,255.96 L676.14,255.96 L676.25,255.96 L676.35,255.96 L676.46,255.96 L676.56,255.96 L676.67,255.96 L676.77,255.96 L676.88,255.96 L676.99,255.96 L677.09,255.96 L677.20,255.96 L677.30,255.96 L677.41,255.96 L677.51,255.96 L677.62,255.96 L677.72,255.96 L677.83,255.96 L677.93,255.96 L678.04,255.96 L678.14,255.96 L678.25,255.96 L678.35,255.96 L678.46,255.96 L678.56,255.96 L678.67,255.96 L678.77,255.96 L678.88,255.96 L678.98,255.96 L679.09,255.96 L679.20,255.96 L679.30,255.96 L679.41,255.96 L679.51,255.96 L679.62,255.96 L679.72,255.96 L679.83,255.96 L679.93,255.96 L680.04,255.96 L680.14,255.96 L680.25,255.96 L680.35,255.96 L680.46,255.96 L680.56,255.96 L680.67,255.96 L680.77,255.96 L680.88,255.96 L680.98,255.96 L681.09,255.96 L681.19,255.96 L681.30,255.96" stroke="#0a0aff" stroke-width="2.2"/>
<path d="M365.70,401.40 L365.92,386.78 L366.14,373.90 L366.33,365.40 L366.36,364.40 L366.58,357.21 L366.80,350.94 L367.02,345.53 L367.24,340.89 L367.46,336.93 L367.59,334.80 L367.68,333.53 L367.90,330.25 L368.12,327.02 L368.34,323.90 L368.56,320.95 L368.78,318.23 L369.00,315.79 L369.22,313.69 L369.44,311.98 L369.66,310.73 L369.88,309.98 L370.06,309.78 L370.10,309.78 L370.32,309.83 L370.54,309.97 L370.76,310.21 L370.98,310.56 L371.19,311.02 L371.41,311.62 L371.63,312.35 L371.85,313.24 L372.07,314.30 L372.29,315.53 L372.51,316.94 L372.73,318.55 L372.95,320.37 L373.17,322.41 L373.39,324.68 L373.61,327.19 L373.83,329.95 L374.05,332.98 L374.27,336.28 L374.49,339.87 L374.71,343.75 L374.93,347.94 L374.93,347.94 L375.14,344.00 L375.35,340.15 L375.56,336.39 L375.77,332.72 L375.99,329.15 L376.20,325.68 L376.41,322.30 L376.62,319.02 L376.83,315.85 L377.04,312.77 L377.25,309.79 L377.46,306.92 L377.67,304.16 L377.88,301.50 L378.09,298.94 L378.30,296.50 L378.51,294.16 L378.73,291.94 L378.94,289.83 L379.15,287.83 L379.36,285.95 L379.57,284.18 L379.78,282.53 L379.99,281.00 L380.20,279.59 L380.41,278.30 L380.62,277.14 L380.83,276.09 L381.04,275.18 L381.25,274.38 L381.47,273.72 L381.68,273.18 L381.89,272.78 L382.10,272.50 L382.31,272.36 L382.43,272.34 L382.52,272.37 L382.73,272.61 L382.94,273.09 L383.15,273.80 L383.36,274.72 L383.57,275.84 L383.78,277.13 L383.99,278.59 L384.21,280.19 L384.42,281.92 L384.63,283.76 L384.84,285.70 L385.05,287.72 L385.26,289.81 L385.47,291.95 L385.68,294.11 L385.89,296.30 L386.10,298.49 L386.31,300.66 L386.52,302.79 L386.73,304.89 L386.95,306.91 L387.16,308.86 L387.37,310.71 L387.58,312.45 L387.79,314.06 L388.00,315.52 L388.21,316.82 L388.42,317.95 L388.63,318.89 L388.84,319.61 L389.05,320.11 L389.26,320.37 L389.37,320.40 L389.47,320.38 L389.69,320.22 L389.90,319.90 L390.11,319.44 L390.32,318.84 L390.53,318.12 L390.74,317.28 L390.95,316.33 L391.16,315.28 L391.37,314.13 L391.58,312.91 L391.79,311.61 L392.00,310.25 L392.21,308.83 L392.43,307.36 L392.64,305.86 L392.85,304.33 L393.06,302.78 L393.27,301.21 L393.48,299.65 L393.69,298.09 L393.90,296.55 L394.11,295.03 L394.32,293.55 L394.53,292.11 L394.74,290.72 L394.95,289.39 L395.17,288.13 L395.38,286.95 L395.59,285.86 L395.80,284.87 L396.01,283.97 L396.22,283.20 L396.43,282.54 L396.64,282.02 L396.85,281.64 L397.06,281.41 L397.26,281.34 L397.27,281.34 L397.48,281.45 L397.70,281.75 L397.91,282.22 L398.12,282.83 L398.33,283.58 L398.54,284.44 L398.75,285.39 L398.96,286.42 L399.17,287.51 L399.38,288.64 L399.59,289.79 L399.80,290.94 L400.01,292.08 L400.22,293.18 L400.44,294.23 L400.65,295.21 L400.86,296.11 L401.07,296.89 L401.28,297.55 L401.49,298.07 L401.70,298.43 L401.91,298.60 L401.99,298.62 L402.12,298.61 L402.33,298.55 L402.54,298.45 L402.75,298.29 L402.96,298.09 L403.18,297.85 L403.39,297.57 L403.60,297.25 L403.81,296.90 L404.02,296.51 L404.23,296.09 L404.44,295.64 L404.65,295.16 L404.86,294.66 L405.07,294.14 L405.28,293.60 L405.49,293.04 L405.70,292.47 L405.92,291.88 L406.13,291.28 L406.34,290.68 L406.55,290.07 L406.76,289.45 L406.97,288.84 L407.18,288.22 L407.39,287.61 L407.60,287.00 L407.81,286.40 L408.02,285.81 L408.23,285.24 L408.44,284.67 L408.66,284.13 L408.87,283.60 L409.08,283.10 L409.29,282.62 L409.50,282.16 L409.71,281.74 L409.92,281.34 L410.13,280.98 L410.34,280.65 L410.55,280.36 L410.76,280.11 L410.97,279.91 L411.18,279.74 L411.40,279.63 L411.61,279.56 L411.78,279.54 L411.82,279.54 L412.03,279.65 L412.24,279.89 L412.45,280.28 L412.66,280.79 L412.87,281.41 L413.08,282.15 L413.29,282.98 L413.50,283.90 L413.71,284.90 L413.92,285.97 L414.14,287.10 L414.35,288.28 L414.56,289.51 L414.77,290.77 L414.98,292.05 L415.19,293.35 L415.40,294.66 L415.61,295.96 L415.82,297.25 L416.03,298.52 L416.24,299.76 L416.45,300.95 L416.66,302.10 L416.88,303.19 L417.09,304.22 L417.30,305.16 L417.51,306.02 L417.72,306.79 L417.93,307.45 L418.14,307.99 L418.35,308.42 L418.56,308.71 L418.77,308.86 L418.88,308.88 L418.98,308.87 L419.19,308.76 L419.40,308.57 L419.62,308.29 L419.83,307.96 L420.04,307.57 L420.25,307.15 L420.46,306.70 L420.67,306.24 L420.88,305.79 L421.09,305.35 L421.30,304.94 L421.51,304.58 L421.72,304.27 L421.93,304.04 L422.15,303.89 L422.35,303.84 L422.36,303.84 L422.57,303.88 L422.78,304.00 L422.99,304.20 L423.20,304.46 L423.41,304.78 L423.62,305.15 L423.83,305.57 L424.04,306.03 L424.25,306.53 L424.46,307.06 L424.67,307.61 L424.89,308.18 L425.10,308.76 L425.31,309.34 L425.52,309.93 L425.73,310.50 L425.94,311.07 L426.15,311.61 L426.36,312.13 L426.57,312.61 L426.78,313.06 L426.99,313.47 L427.20,313.82 L427.41,314.12 L427.63,314.36 L427.84,314.53 L428.05,314.62 L428.19,314.64 L428.26,314.64 L428.47,314.61 L428.68,314.54 L428.89,314.44 L429.10,314.31 L429.31,314.15 L429.52,313.96 L429.73,313.74 L429.94,313.50 L430.15,313.23 L430.37,312.94 L430.58,312.64 L430.79,312.31 L431.00,311.97 L431.21,311.61 L431.42,311.24 L431.63,310.86 L431.84,310.48 L432.05,310.08 L432.26,309.67 L432.47,309.27 L432.68,308.86 L432.89,308.45 L433.11,308.04 L433.32,307.63 L433.53,307.23 L433.74,306.83 L433.95,306.45 L434.16,306.07 L434.37,305.70 L434.58,305.35 L434.79,305.01 L435.00,304.69 L435.21,304.39 L435.42,304.11 L435.63,303.85 L435.85,303.61 L436.06,303.40 L436.27,303.21 L436.48,303.06 L436.69,302.93 L436.90,302.84 L437.11,302.78 L437.32,302.76 L437.34,302.76 L437.53,302.79 L437.74,302.89 L437.95,303.05 L438.16,303.28 L438.37,303.55 L438.59,303.88 L438.80,304.24 L439.01,304.65 L439.22,305.08 L439.43,305.55 L439.64,306.03 L439.85,306.53 L440.06,307.04 L440.27,307.56 L440.48,308.07 L440.69,308.58 L440.90,309.08 L441.11,309.56 L441.33,310.02 L441.54,310.46 L441.75,310.86 L441.96,311.22 L442.17,311.54 L442.38,311.81 L442.59,312.03 L442.80,312.18 L443.01,312.28 L443.18,312.30 L443.22,312.30 L443.43,312.27 L443.64,312.19 L443.85,312.08 L444.07,311.92 L444.28,311.73 L444.49,311.51 L444.70,311.26 L444.91,310.99 L445.12,310.69 L445.33,310.37 L445.54,310.03 L445.75,309.68 L445.96,309.31 L446.17,308.94 L446.38,308.56 L446.60,308.17 L446.81,307.79 L447.02,307.41 L447.23,307.03 L447.44,306.66 L447.65,306.30 L447.86,305.95 L448.07,305.62 L448.28,305.31 L448.49,305.02 L448.70,304.76 L448.91,304.52 L449.12,304.31 L449.34,304.14 L449.55,304.01 L449.76,303.91 L449.97,303.85 L450.12,303.84 L450.18,303.84 L450.39,303.93 L450.60,304.12 L450.81,304.39 L451.02,304.75 L451.23,305.17 L451.44,305.64 L451.65,306.16 L451.86,306.70 L452.08,307.26 L452.29,307.83 L452.50,308.39 L452.71,308.94 L452.92,309.45 L453.13,309.92 L453.34,310.34 L453.55,310.69 L453.76,310.96 L453.97,311.14 L454.18,311.22 L454.23,311.22 L454.39,311.12 L454.60,310.77 L454.82,310.25 L455.03,309.62 L455.24,308.98 L455.45,308.41 L455.66,307.99 L455.87,307.80 L455.90,307.80 L456.08,307.85 L456.29,308.03 L456.50,308.30 L456.71,308.64 L456.92,309.03 L457.13,309.43 L457.34,309.81 L457.56,310.16 L457.77,310.44 L457.98,310.62 L458.17,310.68 L458.19,310.68 L458.40,310.58 L458.61,310.34 L458.82,310.02 L459.03,309.66 L459.24,309.32 L459.45,309.05 L459.66,308.90 L459.75,308.88 L459.87,308.92 L460.08,309.15 L460.30,309.57 L460.51,310.13 L460.72,310.83 L460.93,311.62 L461.14,312.47 L461.35,313.36 L461.56,314.26 L461.77,315.14 L461.98,315.97 L462.19,316.72 L462.27,316.98 L462.40,317.39 L462.61,318.10 L462.82,318.84 L463.04,319.61 L463.25,320.40 L463.46,321.19 L463.67,321.98 L463.88,322.75 L464.09,323.50 L464.30,324.22 L464.51,324.89 L464.72,325.51 L464.93,326.06 L465.14,326.54 L465.35,326.94 L465.56,327.24 L465.75,327.42 L465.78,327.44 L465.99,327.60 L466.20,327.75 L466.41,327.89 L466.62,328.02 L466.83,328.13 L467.04,328.24 L467.25,328.33 L467.46,328.40 L467.67,328.45 L467.88,328.49 L468.09,328.50 L468.11,328.50 L468.30,328.49 L468.52,328.46 L468.73,328.41 L468.94,328.33 L469.15,328.25 L469.36,328.15 L469.57,328.04 L469.78,327.92 L469.99,327.79 L470.20,327.67 L470.41,327.53 L470.62,327.40 L470.83,327.28 L471.05,327.15 L471.26,327.04 L471.47,326.93 L471.58,326.88 L471.68,326.84 L471.89,326.74 L472.10,326.63 L472.31,326.52 L472.52,326.40 L472.73,326.29 L472.94,326.17 L473.15,326.06 L473.36,325.95 L473.57,325.84 L473.79,325.75 L474.00,325.66 L474.21,325.59 L474.42,325.53 L474.63,325.48 L474.84,325.45 L475.05,325.44 L475.06,325.44 L475.26,325.45 L475.47,325.49 L475.68,325.56 L475.89,325.64 L476.10,325.74 L476.31,325.85 L476.53,325.98 L476.74,326.11 L476.95,326.24 L477.16,326.38 L477.37,326.51 L477.58,326.63 L477.79,326.75 L478.00,326.86 L478.05,326.88 L478.21,326.95 L478.42,327.05 L478.63,327.16 L478.84,327.27 L479.05,327.39 L479.27,327.50 L479.48,327.62 L479.69,327.73 L479.90,327.84 L480.11,327.95 L480.32,328.05 L480.53,328.15 L480.74,328.23 L480.95,328.31 L481.16,328.37 L481.37,328.43 L481.58,328.47 L481.79,328.49 L482.00,328.50 L482.01,328.50 L482.22,328.49 L482.43,328.45 L482.64,328.40 L482.85,328.32 L483.06,328.24 L483.27,328.13 L483.48,328.02 L483.69,327.90 L483.90,327.77 L484.11,327.64 L484.32,327.51 L484.53,327.38 L484.75,327.26 L484.96,327.14 L485.17,327.02 L485.38,326.92 L485.47,326.88 L485.59,326.83 L485.80,326.73 L486.01,326.63 L486.22,326.53 L486.43,326.42 L486.64,326.31 L486.85,326.20 L487.06,326.09 L487.27,325.98 L487.49,325.87 L487.70,325.76 L487.91,325.66 L488.12,325.57 L488.33,325.48 L488.54,325.39 L488.75,325.32 L488.96,325.25 L489.17,325.19 L489.38,325.15 L489.59,325.11 L489.80,325.09 L490.01,325.08 L490.05,325.08 L490.23,325.09 L490.44,325.12 L490.65,325.18 L490.86,325.26 L491.07,325.36 L491.28,325.47 L491.49,325.59 L491.70,325.72 L491.91,325.86 L492.12,326.01 L492.33,326.16 L492.54,326.31 L492.75,326.45 L492.97,326.60 L493.18,326.73 L493.39,326.85 L493.60,326.96 L493.81,327.06 L494.02,327.14 L494.23,327.20 L494.44,327.23 L494.62,327.24 L494.65,327.24 L494.86,327.23 L495.07,327.22 L495.28,327.19 L495.50,327.15 L495.71,327.12 L495.92,327.07 L496.13,327.02 L496.34,326.97 L496.55,326.93 L496.76,326.88 L496.97,326.83 L497.18,326.79 L497.39,326.76 L497.60,326.73 L497.81,326.71 L498.02,326.70 L498.09,326.70 L498.24,326.71 L498.45,326.75 L498.66,326.83 L498.87,326.93 L499.08,327.04 L499.29,327.16 L499.50,327.28 L499.71,327.39 L499.92,327.48 L500.13,327.55 L500.34,327.59 L500.46,327.60 L500.55,327.60 L500.76,327.56 L500.98,327.49 L501.19,327.40 L501.40,327.28 L501.61,327.14 L501.82,326.99 L502.03,326.83 L502.24,326.67 L502.45,326.50 L502.66,326.35 L502.87,326.20 L503.08,326.07 L503.29,325.96 L503.50,325.88 L503.72,325.82 L503.93,325.80 L503.93,325.80 L504.14,325.80 L504.35,325.80 L504.56,325.80 L504.77,325.80 L504.98,325.81 L505.19,325.81 L505.40,325.82 L505.61,325.83 L505.82,325.84 L506.03,325.86 L506.24,325.88 L506.46,325.91 L506.67,325.94 L506.88,325.97 L507.09,326.01 L507.30,326.05 L507.51,326.10 L507.72,326.16 L507.72,326.16 L507.93,327.70 L508.14,329.22 L508.36,330.69 L508.57,332.10 L508.78,333.43 L508.99,334.66 L509.21,335.77 L509.42,336.74 L509.61,337.50 L509.63,337.56 L509.84,338.29 L510.06,338.98 L510.27,339.64 L510.48,340.27 L510.69,340.86 L510.90,341.43 L511.12,341.97 L511.33,342.47 L511.54,342.95 L511.75,343.40 L511.97,343.82 L512.18,344.21 L512.39,344.58 L512.60,344.92 L512.81,345.24 L513.03,345.53 L513.09,345.60 L513.24,345.79 L513.45,346.05 L513.66,346.31 L513.88,346.55 L514.09,346.79 L514.30,347.02 L514.51,347.24 L514.73,347.45 L514.94,347.65 L515.15,347.85 L515.36,348.03 L515.57,348.21 L515.79,348.38 L516.00,348.54 L516.21,348.70 L516.42,348.84 L516.64,348.98 L516.85,349.11 L517.06,349.23 L517.27,349.34 L517.49,349.44 L517.70,349.54 L517.76,349.56 L517.91,349.62 L518.12,349.71 L518.33,349.80 L518.55,349.88 L518.76,349.96 L518.97,350.05 L519.18,350.13 L519.40,350.21 L519.61,350.29 L519.82,350.36 L520.03,350.44 L520.24,350.51 L520.46,350.58 L520.67,350.65 L520.88,350.72 L521.09,350.78 L521.31,350.84 L521.52,350.90 L521.73,350.96 L521.94,351.01 L522.16,351.06 L522.37,351.10 L522.58,351.15 L522.79,351.19 L523.00,351.22 L523.22,351.25 L523.43,351.28 L523.64,351.30 L523.85,351.32 L524.07,351.34 L524.28,351.35 L524.49,351.36 L524.68,351.36 L524.70,351.36 L524.92,351.36 L525.13,351.35 L525.34,351.33 L525.55,351.31 L525.76,351.28 L525.98,351.26 L526.19,351.22 L526.40,351.18 L526.61,351.14 L526.83,351.10 L527.04,351.05 L527.25,351.01 L527.46,350.96 L527.67,350.91 L527.89,350.86 L528.10,350.80 L528.31,350.75 L528.52,350.70 L528.74,350.65 L528.95,350.61 L529.16,350.56 L529.37,350.51 L529.59,350.47 L529.80,350.43 L530.01,350.40 L530.22,350.37 L530.43,350.34 L530.65,350.32 L530.86,350.30 L531.07,350.29 L531.28,350.28 L531.39,350.28 L531.50,350.28 L531.71,350.28 L531.92,350.29 L532.13,350.30 L532.35,350.32 L532.56,350.33 L532.77,350.35 L532.98,350.37 L533.19,350.40 L533.41,350.42 L533.62,350.44 L533.83,350.47 L534.04,350.49 L534.26,350.52 L534.47,350.54 L534.68,350.56 L534.89,350.58 L535.11,350.60 L535.32,350.61 L535.53,350.62 L535.74,350.63 L535.95,350.64 L536.12,350.64 L536.17,350.64 L536.38,350.64 L536.59,350.63 L536.80,350.61 L537.02,350.59 L537.23,350.57 L537.44,350.54 L537.65,350.51 L537.86,350.48 L538.08,350.44 L538.29,350.40 L538.50,350.36 L538.71,350.31 L538.93,350.27 L539.14,350.22 L539.35,350.17 L539.56,350.13 L539.78,350.08 L539.99,350.03 L540.20,349.98 L540.41,349.93 L540.62,349.89 L540.84,349.84 L541.05,349.80 L541.26,349.76 L541.47,349.72 L541.69,349.69 L541.90,349.66 L542.11,349.63 L542.32,349.61 L542.54,349.59 L542.75,349.57 L542.96,349.56 L543.17,349.56 L543.22,349.56 L543.38,349.56 L543.60,349.58 L543.81,349.61 L544.02,349.64 L544.23,349.69 L544.45,349.74 L544.66,349.80 L544.87,349.86 L545.08,349.93 L545.29,350.00 L545.51,350.07 L545.72,350.14 L545.93,350.22 L546.14,350.29 L546.36,350.35 L546.57,350.42 L546.78,350.47 L546.99,350.52 L547.21,350.57 L547.42,350.60 L547.63,350.63 L547.84,350.64 L547.96,350.64 L548.05,350.64 L548.27,350.63 L548.48,350.61 L548.69,350.59 L548.90,350.56 L549.12,350.53 L549.33,350.49 L549.54,350.45 L549.75,350.41 L549.97,350.36 L550.18,350.32 L550.39,350.28 L550.60,350.24 L550.81,350.20 L551.03,350.17 L551.24,350.14 L551.45,350.12 L551.66,350.11 L551.88,350.10 L551.90,350.10 L552.09,350.10 L552.30,350.11 L552.51,350.12 L552.72,350.14 L552.94,350.17 L553.15,350.19 L553.36,350.23 L553.57,350.27 L553.79,350.31 L554.00,350.35 L554.21,350.40 L554.42,350.46 L554.64,350.52 L554.85,350.58 L555.06,350.64 L555.06,350.64 L555.27,348.44 L555.48,346.34 L555.69,344.38 L555.91,342.60 L556.12,341.06 L556.32,339.84 L556.33,339.81 L556.54,338.75 L556.75,337.76 L556.96,336.86 L557.17,336.02 L557.38,335.27 L557.60,334.58 L557.81,333.97 L558.02,333.44 L558.22,333.00 L558.23,332.97 L558.44,332.55 L558.65,332.14 L558.86,331.75 L559.08,331.38 L559.29,331.03 L559.50,330.70 L559.71,330.39 L559.92,330.09 L560.13,329.81 L560.34,329.55 L560.55,329.31 L560.77,329.08 L560.98,328.88 L561.19,328.69 L561.40,328.52 L561.61,328.37 L561.69,328.32 L561.82,328.23 L562.03,328.10 L562.25,327.97 L562.46,327.85 L562.67,327.72 L562.88,327.61 L563.09,327.49 L563.30,327.38 L563.51,327.27 L563.72,327.16 L563.94,327.06 L564.15,326.96 L564.36,326.86 L564.57,326.77 L564.78,326.68 L564.99,326.60 L565.20,326.51 L565.42,326.43 L565.63,326.36 L565.84,326.28 L566.05,326.21 L566.26,326.15 L566.47,326.08 L566.68,326.02 L566.89,325.97 L567.11,325.91 L567.32,325.86 L567.53,325.81 L567.74,325.77 L567.95,325.73 L568.16,325.69 L568.37,325.66 L568.59,325.63 L568.63,325.62 L568.80,325.60 L569.01,325.57 L569.22,325.54 L569.43,325.52 L569.64,325.49 L569.85,325.47 L570.07,325.44 L570.28,325.42 L570.49,325.39 L570.70,325.37 L570.91,325.35 L571.12,325.33 L571.33,325.31 L571.54,325.29 L571.76,325.27 L571.97,325.25 L572.18,325.23 L572.39,325.21 L572.60,325.20 L572.81,325.18 L573.02,325.16 L573.24,325.15 L573.45,325.13 L573.66,325.11 L573.87,325.10 L574.08,325.08 L574.29,325.07 L574.50,325.06 L574.71,325.04 L574.93,325.03 L575.14,325.01 L575.35,325.00 L575.56,324.99 L575.77,324.98 L575.98,324.96 L576.19,324.95 L576.41,324.94 L576.62,324.93 L576.83,324.92 L577.04,324.90 L577.25,324.89 L577.46,324.88 L577.67,324.87 L577.88,324.86 L578.10,324.85 L578.31,324.83 L578.52,324.82 L578.73,324.81 L578.94,324.80 L579.15,324.79 L579.36,324.77 L579.58,324.76 L579.79,324.75 L580.00,324.74 L580.21,324.73 L580.31,324.72 L580.42,324.71 L580.63,324.70 L580.84,324.69 L581.05,324.68 L581.27,324.66 L581.48,324.65 L581.69,324.64 L581.90,324.63 L582.11,324.62 L582.32,324.60 L582.53,324.59 L582.75,324.58 L582.96,324.57 L583.17,324.56 L583.38,324.55 L583.59,324.54 L583.80,324.52 L584.01,324.51 L584.22,324.50 L584.44,324.49 L584.65,324.48 L584.86,324.47 L585.07,324.46 L585.28,324.45 L585.49,324.44 L585.70,324.43 L585.92,324.42 L586.13,324.41 L586.34,324.40 L586.55,324.39 L586.76,324.38 L586.97,324.37 L587.18,324.36 L587.39,324.35 L587.61,324.34 L587.82,324.33 L588.03,324.32 L588.24,324.31 L588.45,324.30 L588.66,324.29 L588.87,324.28 L589.09,324.27 L589.30,324.26 L589.51,324.25 L589.72,324.25 L589.93,324.24 L590.14,324.23 L590.35,324.22 L590.56,324.21 L590.78,324.20 L590.99,324.19 L591.20,324.19 L591.35,324.18 L591.41,324.18 L591.62,324.17 L591.83,324.16 L592.04,324.15 L592.26,324.15 L592.47,324.14 L592.68,324.13 L592.89,324.12 L593.10,324.11 L593.31,324.11 L593.52,324.10 L593.74,324.09 L593.95,324.08 L594.16,324.07 L594.37,324.07 L594.58,324.06 L594.79,324.05 L595.00,324.04 L595.21,324.04 L595.43,324.03 L595.64,324.02 L595.85,324.01 L596.06,324.01 L596.27,324.00 L596.48,323.99 L596.69,323.99 L596.91,323.98 L597.12,323.97 L597.33,323.97 L597.54,323.96 L597.75,323.95 L597.96,323.94 L598.17,323.94 L598.38,323.93 L598.60,323.93 L598.81,323.92 L599.02,323.91 L599.23,323.91 L599.44,323.90 L599.65,323.89 L599.86,323.89 L600.08,323.88 L600.29,323.88 L600.50,323.87 L600.71,323.86 L600.92,323.86 L601.13,323.85 L601.34,323.85 L601.55,323.84 L601.77,323.84 L601.98,323.83 L602.19,323.83 L602.40,323.82 L602.40,323.82 L602.61,322.48 L602.82,321.18 L603.03,319.93 L603.25,318.74 L603.46,317.62 L603.67,316.59 L603.82,315.90 L603.88,315.64 L604.09,314.74 L604.30,313.86 L604.51,313.01 L604.72,312.19 L604.94,311.40 L605.15,310.66 L605.36,309.96 L605.57,309.32 L605.78,308.74 L605.99,308.22 L606.19,307.80 L606.20,307.77 L606.42,307.35 L606.63,306.95 L606.84,306.57 L607.05,306.20 L607.26,305.84 L607.47,305.50 L607.68,305.18 L607.89,304.87 L608.11,304.59 L608.32,304.32 L608.53,304.07 L608.74,303.84 L608.95,303.64 L609.16,303.46 L609.37,303.30 L609.59,303.16 L609.66,303.12 L609.80,303.05 L610.01,302.93 L610.22,302.83 L610.43,302.72 L610.64,302.62 L610.85,302.52 L611.06,302.43 L611.28,302.34 L611.49,302.25 L611.70,302.17 L611.91,302.08 L612.12,302.00 L612.33,301.93 L612.54,301.86 L612.76,301.78 L612.97,301.72 L613.18,301.65 L613.39,301.59 L613.60,301.53 L613.81,301.47 L614.02,301.42 L614.23,301.37 L614.45,301.32 L614.66,301.27 L614.87,301.23 L615.08,301.19 L615.29,301.15 L615.50,301.11 L615.71,301.08 L615.93,301.05 L616.14,301.02 L616.35,300.99 L616.56,300.96 L616.60,300.96 L616.77,300.94 L616.98,300.92 L617.19,300.90 L617.41,300.87 L617.62,300.85 L617.83,300.83 L618.04,300.81 L618.25,300.79 L618.46,300.77 L618.67,300.75 L618.88,300.73 L619.10,300.71 L619.31,300.70 L619.52,300.68 L619.73,300.66 L619.94,300.64 L620.15,300.63 L620.36,300.61 L620.58,300.60 L620.79,300.58 L621.00,300.57 L621.21,300.55 L621.42,300.54 L621.63,300.53 L621.84,300.51 L622.05,300.50 L622.27,300.49 L622.48,300.47 L622.69,300.46 L622.90,300.45 L623.11,300.44 L623.32,300.43 L623.53,300.42 L623.75,300.41 L623.96,300.40 L624.17,300.39 L624.38,300.38 L624.59,300.37 L624.80,300.36 L625.01,300.35 L625.22,300.34 L625.44,300.33 L625.65,300.32 L625.86,300.31 L626.07,300.30 L626.28,300.29 L626.49,300.28 L626.70,300.28 L626.92,300.27 L627.13,300.26 L627.34,300.25 L627.55,300.24 L627.65,300.24 L627.76,300.24 L627.97,300.23 L628.18,300.22 L628.39,300.21 L628.61,300.20 L628.82,300.20 L629.03,300.19 L629.24,300.18 L629.45,300.17 L629.66,300.17 L629.87,300.16 L630.09,300.15 L630.30,300.14 L630.51,300.13 L630.72,300.13 L630.93,300.12 L631.14,300.11 L631.35,300.10 L631.56,300.10 L631.78,300.09 L631.99,300.08 L632.20,300.07 L632.41,300.07 L632.62,300.06 L632.83,300.05 L633.04,300.04 L633.26,300.04 L633.47,300.03 L633.68,300.02 L633.89,300.01 L634.10,300.01 L634.31,300.00 L634.52,299.99 L634.73,299.99 L634.95,299.98 L635.16,299.97 L635.37,299.97 L635.58,299.96 L635.79,299.95 L636.00,299.95 L636.21,299.94 L636.43,299.93 L636.64,299.93 L636.85,299.92 L637.06,299.91 L637.27,299.91 L637.48,299.90 L637.69,299.89 L637.90,299.89 L638.12,299.88 L638.33,299.88 L638.54,299.87 L638.75,299.87 L638.96,299.86 L639.17,299.85 L639.38,299.85 L639.60,299.84 L639.81,299.84 L640.02,299.83 L640.23,299.83 L640.44,299.82 L640.65,299.82 L640.86,299.81 L641.08,299.81 L641.29,299.80 L641.50,299.80 L641.71,299.79 L641.92,299.79 L642.13,299.78 L642.34,299.78 L642.55,299.78 L642.77,299.77 L642.98,299.77 L643.19,299.76 L643.40,299.76 L643.61,299.76 L643.82,299.75 L644.03,299.75 L644.25,299.75 L644.46,299.74 L644.67,299.74 L644.88,299.74 L645.09,299.73 L645.30,299.73 L645.51,299.73 L645.72,299.72 L645.94,299.72 L646.15,299.72 L646.36,299.72 L646.57,299.72 L646.78,299.71 L646.99,299.71 L647.20,299.71 L647.42,299.71 L647.63,299.71 L647.84,299.71 L648.05,299.70 L648.26,299.70 L648.47,299.70 L648.68,299.70 L648.89,299.70 L649.11,299.70 L649.32,299.70 L649.53,299.70 L649.74,299.70 L649.74,299.70 L649.95,298.25 L650.17,296.83 L650.38,295.45 L650.59,294.14 L650.81,292.92 L651.02,291.82 L651.23,290.86 L651.32,290.52 L651.45,290.04 L651.66,289.26 L651.87,288.51 L652.09,287.79 L652.30,287.10 L652.51,286.44 L652.73,285.82 L652.94,285.22 L653.15,284.65 L653.37,284.12 L653.58,283.61 L653.79,283.14 L654.00,282.70 L654.22,282.29 L654.43,281.91 L654.64,281.56 L654.79,281.34 L654.86,281.24 L655.07,280.93 L655.28,280.63 L655.50,280.34 L655.71,280.05 L655.92,279.77 L656.14,279.50 L656.35,279.24 L656.56,278.98 L656.78,278.74 L656.99,278.51 L657.20,278.29 L657.42,278.08 L657.63,277.89 L657.84,277.70 L658.06,277.54 L658.27,277.38 L658.48,277.24 L658.70,277.12 L658.91,277.01 L659.12,276.92 L659.34,276.85 L659.37,276.84 L659.55,276.79 L659.76,276.73 L659.98,276.67 L660.19,276.61 L660.40,276.56 L660.62,276.51 L660.83,276.46 L661.04,276.41 L661.26,276.36 L661.47,276.31 L661.68,276.27 L661.89,276.23 L662.11,276.19 L662.32,276.15 L662.53,276.11 L662.75,276.07 L662.96,276.03 L663.17,276.00 L663.39,275.97 L663.60,275.94 L663.81,275.91 L664.03,275.88 L664.24,275.85 L664.45,275.82 L664.67,275.80 L664.88,275.77 L665.09,275.75 L665.31,275.73 L665.52,275.71 L665.73,275.69 L665.95,275.67 L666.16,275.66 L666.37,275.64 L666.59,275.63 L666.80,275.61 L667.01,275.60 L667.23,275.59 L667.41,275.58 L667.44,275.58 L667.65,275.57 L667.87,275.56 L668.08,275.55 L668.29,275.54 L668.51,275.53 L668.72,275.52 L668.93,275.51 L669.15,275.50 L669.36,275.49 L669.57,275.48 L669.78,275.47 L670.00,275.47 L670.21,275.46 L670.42,275.45 L670.64,275.44 L670.85,275.43 L671.06,275.42 L671.28,275.42 L671.49,275.41 L671.70,275.40 L671.92,275.39 L672.13,275.39 L672.34,275.38 L672.56,275.37 L672.77,275.36 L672.98,275.36 L673.20,275.35 L673.41,275.34 L673.62,275.34 L673.84,275.33 L674.05,275.33 L674.26,275.32 L674.48,275.31 L674.69,275.31 L674.90,275.30 L675.12,275.30 L675.33,275.29 L675.54,275.29 L675.76,275.28 L675.97,275.28 L676.18,275.27 L676.40,275.27 L676.61,275.27 L676.82,275.26 L677.04,275.26 L677.25,275.25 L677.46,275.25 L677.67,275.25 L677.89,275.24 L678.10,275.24 L678.31,275.24 L678.53,275.24 L678.74,275.23 L678.95,275.23 L679.17,275.23 L679.38,275.23 L679.59,275.23 L679.81,275.22 L680.02,275.22 L680.23,275.22 L680.45,275.22 L680.66,275.22 L680.87,275.22 L681.09,275.22 L681.30,275.22" stroke="#ff2a2a" stroke-width="1.15"/>
<path d="M365.70,401.40 L366.05,391.07 L366.33,383.40 L366.41,381.37 L366.76,372.28 L367.04,365.40 L367.11,363.64 L367.47,355.10 L367.82,347.57 L367.83,347.40 L368.17,341.23 L368.53,335.55 L368.88,330.84 L369.01,329.40 L369.24,327.22 L369.59,324.09 L369.94,321.31 L370.30,318.82 L370.65,316.56 L371.00,314.45 L371.32,312.66 L371.36,312.44 L371.71,310.54 L372.06,308.77 L372.42,307.11 L372.77,305.54 L373.12,304.02 L373.48,302.54 L373.83,301.07 L374.19,299.58 L374.28,299.16 L374.54,298.07 L374.89,296.59 L375.25,295.13 L375.60,293.68 L375.95,292.26 L376.31,290.84 L376.66,289.43 L377.01,288.02 L377.37,286.61 L377.42,286.38 L377.72,285.18 L378.07,283.73 L378.43,282.27 L378.78,280.81 L379.14,279.36 L379.49,277.94 L379.84,276.56 L380.20,275.23 L380.55,273.96 L380.71,273.42 L380.90,272.75 L381.26,271.57 L381.61,270.41 L381.96,269.27 L382.32,268.16 L382.67,267.09 L383.02,266.06 L383.38,265.08 L383.73,264.15 L384.09,263.27 L384.29,262.80 L384.44,262.46 L384.79,261.68 L385.15,260.93 L385.50,260.22 L385.85,259.55 L386.21,258.91 L386.56,258.31 L386.91,257.76 L387.16,257.40 L387.27,257.25 L387.62,256.77 L387.97,256.30 L388.33,255.86 L388.68,255.43 L389.04,255.03 L389.39,254.64 L389.74,254.26 L390.10,253.91 L390.45,253.57 L390.80,253.25 L391.16,252.94 L391.42,252.72 L391.51,252.65 L391.86,252.36 L392.22,252.09 L392.57,251.82 L392.92,251.56 L393.28,251.30 L393.63,251.05 L393.99,250.82 L394.34,250.59 L394.69,250.37 L395.05,250.15 L395.40,249.95 L395.75,249.76 L396.11,249.58 L396.46,249.40 L396.81,249.24 L397.10,249.12 L397.17,249.09 L397.52,248.95 L397.87,248.81 L398.23,248.67 L398.58,248.54 L398.94,248.40 L399.29,248.28 L399.64,248.15 L400.00,248.03 L400.35,247.92 L400.70,247.81 L401.06,247.70 L401.41,247.60 L401.76,247.50 L402.12,247.41 L402.47,247.32 L402.82,247.24 L403.18,247.16 L403.53,247.09 L403.89,247.03 L404.24,246.97 L404.28,246.96 L404.59,246.91 L404.95,246.85 L405.30,246.80 L405.65,246.74 L406.01,246.69 L406.36,246.64 L406.71,246.58 L407.07,246.53 L407.42,246.48 L407.77,246.44 L408.13,246.39 L408.48,246.35 L408.84,246.30 L409.19,246.27 L409.54,246.23 L409.90,246.20 L410.25,246.17 L410.60,246.14 L410.96,246.12 L411.31,246.10 L411.66,246.08 L412.02,246.07 L412.37,246.06 L412.72,246.06 L412.72,246.06 L413.08,247.61 L413.43,249.12 L413.78,250.58 L414.14,251.97 L414.49,253.28 L414.84,254.48 L415.20,255.56 L415.41,256.14 L415.55,256.52 L415.90,257.41 L416.26,258.26 L416.61,259.08 L416.96,259.86 L417.32,260.60 L417.67,261.30 L418.02,261.97 L418.38,262.61 L418.73,263.21 L419.08,263.78 L419.44,264.33 L419.79,264.84 L420.14,265.32 L420.14,265.32 L420.50,265.79 L420.85,266.25 L421.20,266.69 L421.56,267.13 L421.91,267.55 L422.26,267.96 L422.62,268.36 L422.97,268.75 L423.32,269.12 L423.68,269.48 L424.03,269.83 L424.38,270.16 L424.74,270.47 L425.09,270.77 L425.44,271.06 L425.80,271.33 L426.15,271.58 L426.50,271.81 L426.86,272.03 L427.08,272.16 L427.21,272.23 L427.56,272.42 L427.92,272.61 L428.27,272.79 L428.62,272.97 L428.98,273.14 L429.33,273.31 L429.68,273.48 L430.04,273.64 L430.39,273.79 L430.74,273.94 L431.10,274.08 L431.45,274.22 L431.80,274.36 L432.15,274.49 L432.51,274.61 L432.86,274.73 L433.21,274.84 L433.57,274.95 L433.92,275.05 L434.27,275.15 L434.63,275.24 L434.98,275.33 L435.33,275.40 L435.69,275.48 L436.04,275.55 L436.24,275.58 L436.39,275.61 L436.75,275.67 L437.10,275.73 L437.45,275.78 L437.81,275.84 L438.16,275.89 L438.51,275.94 L438.87,276.00 L439.22,276.05 L439.57,276.10 L439.93,276.14 L440.28,276.19 L440.63,276.23 L440.99,276.28 L441.34,276.32 L441.69,276.36 L442.05,276.40 L442.40,276.44 L442.75,276.47 L443.11,276.51 L443.46,276.54 L443.81,276.57 L444.17,276.60 L444.52,276.63 L444.87,276.66 L445.23,276.69 L445.58,276.71 L445.93,276.74 L446.29,276.76 L446.64,276.78 L446.99,276.80 L447.35,276.82 L447.70,276.84 L447.76,276.84 L448.05,276.85 L448.41,276.87 L448.76,276.89 L449.11,276.90 L449.47,276.92 L449.82,276.93 L450.17,276.95 L450.53,276.96 L450.88,276.98 L451.23,276.99 L451.59,277.01 L451.94,277.02 L452.29,277.03 L452.65,277.05 L453.00,277.06 L453.35,277.07 L453.71,277.08 L454.06,277.10 L454.41,277.11 L454.77,277.12 L455.12,277.13 L455.47,277.14 L455.82,277.15 L456.18,277.15 L456.53,277.16 L456.88,277.17 L457.24,277.17 L457.59,277.18 L457.94,277.19 L458.30,277.19 L458.65,277.19 L459.00,277.20 L459.36,277.20 L459.71,277.20 L460.06,277.20 L460.06,277.20 L460.42,278.56 L460.78,279.89 L461.13,281.18 L461.49,282.42 L461.84,283.60 L462.20,284.71 L462.27,284.94 L462.55,285.77 L462.91,286.81 L463.27,287.83 L463.62,288.84 L463.98,289.82 L464.33,290.77 L464.69,291.69 L465.04,292.57 L465.40,293.41 L465.75,294.20 L466.11,294.93 L466.47,295.61 L466.82,296.23 L466.85,296.28 L467.18,296.81 L467.53,297.36 L467.89,297.90 L468.24,298.41 L468.60,298.90 L468.96,299.37 L469.31,299.82 L469.67,300.24 L470.02,300.63 L470.38,301.00 L470.73,301.34 L471.09,301.65 L471.44,301.94 L471.58,302.04 L471.80,302.19 L472.16,302.44 L472.51,302.68 L472.87,302.91 L473.22,303.13 L473.58,303.35 L473.93,303.55 L474.29,303.75 L474.65,303.94 L475.00,304.12 L475.36,304.29 L475.71,304.45 L476.07,304.61 L476.42,304.76 L476.78,304.90 L477.14,305.03 L477.49,305.15 L477.85,305.26 L478.20,305.37 L478.53,305.46 L478.56,305.47 L478.91,305.56 L479.27,305.65 L479.62,305.74 L479.98,305.83 L480.34,305.92 L480.69,306.00 L481.05,306.08 L481.40,306.16 L481.76,306.24 L482.11,306.31 L482.47,306.38 L482.83,306.45 L483.18,306.51 L483.54,306.58 L483.89,306.64 L484.25,306.69 L484.60,306.75 L484.96,306.80 L485.31,306.85 L485.67,306.89 L486.03,306.93 L486.38,306.97 L486.74,307.01 L487.09,307.04 L487.45,307.06 L487.68,307.08 L487.80,307.09 L488.16,307.11 L488.52,307.13 L488.87,307.16 L489.23,307.18 L489.58,307.20 L489.94,307.22 L490.29,307.24 L490.65,307.26 L491.00,307.28 L491.36,307.30 L491.72,307.32 L492.07,307.34 L492.43,307.36 L492.78,307.38 L493.14,307.40 L493.49,307.42 L493.85,307.44 L494.21,307.45 L494.56,307.47 L494.92,307.49 L495.27,307.50 L495.63,307.52 L495.98,307.53 L496.34,307.55 L496.70,307.56 L497.05,307.58 L497.41,307.59 L497.76,307.61 L498.12,307.62 L498.47,307.63 L498.83,307.64 L499.18,307.66 L499.54,307.67 L499.90,307.68 L500.25,307.69 L500.61,307.70 L500.96,307.71 L501.32,307.72 L501.67,307.73 L502.03,307.73 L502.39,307.74 L502.74,307.75 L503.10,307.76 L503.45,307.76 L503.81,307.77 L504.16,307.77 L504.52,307.78 L504.87,307.78 L505.23,307.79 L505.59,307.79 L505.94,307.79 L506.30,307.80 L506.65,307.80 L507.01,307.80 L507.36,307.80 L507.72,307.80 L507.72,307.80 L508.08,309.13 L508.43,310.44 L508.79,311.70 L509.14,312.93 L509.50,314.10 L509.86,315.22 L510.21,316.28 L510.57,317.27 L510.88,318.06 L510.92,318.18 L511.28,319.04 L511.64,319.87 L511.99,320.68 L512.35,321.45 L512.70,322.20 L513.06,322.92 L513.42,323.61 L513.77,324.28 L514.13,324.91 L514.48,325.51 L514.84,326.09 L515.19,326.64 L515.55,327.16 L515.61,327.24 L515.91,327.65 L516.26,328.14 L516.62,328.61 L516.97,329.06 L517.33,329.50 L517.69,329.92 L518.04,330.32 L518.40,330.71 L518.75,331.07 L519.11,331.41 L519.47,331.72 L519.82,332.01 L520.18,332.27 L520.19,332.28 L520.53,332.52 L520.89,332.76 L521.25,332.98 L521.60,333.20 L521.96,333.42 L522.31,333.62 L522.67,333.82 L523.03,334.01 L523.38,334.19 L523.74,334.37 L524.09,334.53 L524.45,334.70 L524.81,334.85 L525.16,335.00 L525.52,335.14 L525.87,335.27 L526.23,335.40 L526.58,335.52 L526.94,335.64 L527.13,335.70 L527.30,335.75 L527.65,335.86 L528.01,335.97 L528.36,336.08 L528.72,336.18 L529.08,336.28 L529.43,336.39 L529.79,336.49 L530.14,336.58 L530.50,336.68 L530.86,336.77 L531.21,336.86 L531.57,336.94 L531.92,337.03 L532.28,337.11 L532.64,337.18 L532.99,337.25 L533.35,337.32 L533.70,337.38 L534.06,337.44 L534.42,337.49 L534.77,337.54 L535.13,337.59 L535.48,337.63 L535.84,337.66 L536.12,337.68 L536.20,337.69 L536.55,337.71 L536.91,337.73 L537.26,337.76 L537.62,337.78 L537.97,337.81 L538.33,337.83 L538.69,337.85 L539.04,337.87 L539.40,337.90 L539.75,337.92 L540.11,337.94 L540.47,337.96 L540.82,337.98 L541.18,338.00 L541.53,338.02 L541.89,338.04 L542.25,338.06 L542.60,338.07 L542.96,338.09 L543.31,338.11 L543.67,338.13 L544.03,338.14 L544.38,338.16 L544.74,338.17 L545.09,338.19 L545.45,338.20 L545.81,338.22 L546.16,338.23 L546.52,338.24 L546.87,338.25 L547.23,338.27 L547.59,338.28 L547.94,338.29 L548.30,338.30 L548.65,338.31 L549.01,338.32 L549.36,338.33 L549.72,338.34 L550.08,338.35 L550.43,338.35 L550.79,338.36 L551.14,338.37 L551.50,338.37 L551.86,338.38 L552.21,338.38 L552.57,338.39 L552.92,338.39 L553.28,338.39 L553.64,338.40 L553.99,338.40 L554.35,338.40 L554.70,338.40 L555.06,338.40 L555.06,338.40 L555.41,336.64 L555.77,334.96 L556.12,333.35 L556.47,331.83 L556.83,330.41 L557.05,329.58 L557.18,329.10 L557.53,327.81 L557.89,326.56 L558.24,325.38 L558.59,324.30 L558.95,323.37 L559.30,322.60 L559.32,322.56 L559.65,321.96 L560.01,321.37 L560.36,320.82 L560.71,320.31 L561.07,319.83 L561.42,319.38 L561.77,318.96 L562.13,318.57 L562.48,318.20 L562.83,317.85 L563.19,317.51 L563.54,317.19 L563.89,316.87 L563.98,316.80 L564.25,316.57 L564.60,316.27 L564.95,315.98 L565.31,315.70 L565.66,315.42 L566.01,315.16 L566.37,314.90 L566.72,314.65 L567.07,314.41 L567.42,314.17 L567.78,313.94 L568.13,313.73 L568.48,313.51 L568.84,313.31 L569.19,313.11 L569.54,312.93 L569.90,312.75 L570.25,312.57 L570.60,312.41 L570.84,312.30 L570.96,312.25 L571.31,312.09 L571.66,311.94 L572.02,311.79 L572.37,311.64 L572.72,311.49 L573.08,311.35 L573.43,311.21 L573.78,311.07 L574.14,310.94 L574.49,310.80 L574.84,310.68 L575.20,310.55 L575.55,310.43 L575.90,310.31 L576.26,310.20 L576.61,310.09 L576.96,309.99 L577.32,309.88 L577.67,309.79 L578.02,309.69 L578.38,309.61 L578.73,309.52 L579.08,309.45 L579.44,309.37 L579.79,309.30 L580.14,309.24 L580.15,309.24 L580.50,309.18 L580.85,309.12 L581.20,309.07 L581.56,309.01 L581.91,308.96 L582.26,308.91 L582.62,308.86 L582.97,308.81 L583.32,308.76 L583.68,308.71 L584.03,308.67 L584.38,308.63 L584.74,308.58 L585.09,308.54 L585.44,308.50 L585.80,308.46 L586.15,308.42 L586.50,308.39 L586.86,308.35 L587.21,308.32 L587.56,308.28 L587.92,308.25 L588.27,308.22 L588.62,308.19 L588.98,308.16 L589.33,308.13 L589.68,308.10 L590.04,308.07 L590.39,308.05 L590.74,308.02 L591.09,308.00 L591.35,307.98 L591.45,307.97 L591.80,307.95 L592.15,307.93 L592.51,307.90 L592.86,307.88 L593.21,307.86 L593.57,307.83 L593.92,307.81 L594.27,307.79 L594.63,307.77 L594.98,307.75 L595.33,307.73 L595.69,307.70 L596.04,307.68 L596.39,307.67 L596.75,307.65 L597.10,307.63 L597.45,307.61 L597.81,307.59 L598.16,307.58 L598.51,307.56 L598.87,307.55 L599.22,307.53 L599.57,307.52 L599.93,307.51 L600.28,307.49 L600.63,307.48 L600.99,307.47 L601.34,307.46 L601.69,307.45 L602.05,307.45 L602.40,307.44 L602.40,307.44 L602.75,306.00 L603.11,304.59 L603.46,303.21 L603.81,301.87 L604.17,300.56 L604.52,299.29 L604.87,298.07 L605.08,297.36 L605.23,296.88 L605.58,295.67 L605.93,294.45 L606.29,293.24 L606.64,292.05 L606.99,290.92 L607.35,289.86 L607.70,288.90 L608.05,288.05 L608.41,287.35 L608.55,287.10 L608.76,286.78 L609.11,286.26 L609.47,285.76 L609.82,285.29 L610.17,284.85 L610.53,284.43 L610.88,284.04 L611.23,283.66 L611.59,283.32 L611.94,282.99 L612.29,282.68 L612.65,282.40 L613.00,282.13 L613.35,281.89 L613.71,281.65 L614.06,281.44 L614.23,281.34 L614.41,281.24 L614.76,281.05 L615.12,280.86 L615.47,280.68 L615.82,280.50 L616.18,280.32 L616.53,280.15 L616.88,279.99 L617.24,279.83 L617.59,279.68 L617.94,279.53 L618.30,279.38 L618.65,279.25 L619.00,279.11 L619.36,278.99 L619.71,278.86 L620.06,278.75 L620.42,278.64 L620.77,278.53 L621.12,278.43 L621.48,278.34 L621.83,278.26 L622.18,278.17 L622.54,278.10 L622.89,278.03 L623.24,277.97 L623.55,277.92 L623.60,277.91 L623.95,277.86 L624.30,277.81 L624.66,277.76 L625.01,277.71 L625.36,277.66 L625.72,277.62 L626.07,277.58 L626.42,277.53 L626.78,277.49 L627.13,277.45 L627.48,277.42 L627.84,277.38 L628.19,277.34 L628.54,277.31 L628.90,277.27 L629.25,277.24 L629.60,277.21 L629.96,277.18 L630.31,277.15 L630.66,277.12 L631.02,277.10 L631.37,277.07 L631.72,277.05 L632.08,277.02 L632.43,277.00 L632.78,276.97 L633.14,276.95 L633.49,276.93 L633.84,276.91 L634.20,276.89 L634.55,276.87 L634.90,276.85 L635.06,276.84 L635.26,276.83 L635.61,276.81 L635.96,276.79 L636.32,276.77 L636.67,276.75 L637.02,276.74 L637.38,276.72 L637.73,276.70 L638.08,276.68 L638.43,276.66 L638.79,276.65 L639.14,276.63 L639.49,276.61 L639.85,276.59 L640.20,276.58 L640.55,276.56 L640.91,276.54 L641.26,276.53 L641.61,276.51 L641.97,276.50 L642.32,276.48 L642.67,276.47 L643.03,276.46 L643.38,276.44 L643.73,276.43 L644.09,276.42 L644.44,276.41 L644.79,276.39 L645.15,276.38 L645.50,276.37 L645.85,276.36 L646.21,276.35 L646.56,276.35 L646.91,276.34 L647.27,276.33 L647.62,276.32 L647.97,276.32 L648.33,276.31 L648.68,276.31 L649.03,276.31 L649.39,276.30 L649.74,276.30 L649.74,276.30 L650.10,274.57 L650.46,272.90 L650.82,271.30 L651.17,269.78 L651.53,268.36 L651.89,267.04 L652.25,265.85 L652.42,265.32 L652.61,264.77 L652.97,263.75 L653.33,262.78 L653.68,261.85 L654.04,260.97 L654.40,260.15 L654.76,259.39 L655.12,258.69 L655.48,258.05 L655.84,257.48 L655.89,257.40 L656.20,256.97 L656.55,256.47 L656.91,256.00 L657.27,255.55 L657.63,255.11 L657.99,254.70 L658.35,254.30 L658.71,253.93 L659.06,253.57 L659.42,253.23 L659.78,252.91 L660.14,252.60 L660.50,252.31 L660.86,252.05 L661.22,251.79 L661.57,251.56 L661.73,251.46 L661.93,251.34 L662.29,251.12 L662.65,250.92 L663.01,250.72 L663.37,250.52 L663.73,250.33 L664.09,250.15 L664.44,249.97 L664.80,249.80 L665.16,249.63 L665.52,249.47 L665.88,249.32 L666.24,249.17 L666.60,249.03 L666.95,248.89 L667.31,248.76 L667.67,248.64 L668.03,248.52 L668.39,248.41 L668.75,248.31 L669.11,248.21 L669.46,248.12 L669.78,248.04 L669.82,248.03 L670.18,247.95 L670.54,247.86 L670.90,247.78 L671.26,247.69 L671.62,247.61 L671.98,247.53 L672.33,247.45 L672.69,247.37 L673.05,247.29 L673.41,247.22 L673.77,247.14 L674.13,247.07 L674.49,247.00 L674.84,246.93 L675.20,246.86 L675.56,246.80 L675.92,246.74 L676.28,246.68 L676.64,246.62 L677.00,246.57 L677.36,246.52 L677.71,246.47 L678.07,246.43 L678.43,246.39 L678.79,246.36 L679.15,246.33 L679.51,246.30 L679.87,246.28 L680.22,246.26 L680.58,246.25 L680.94,246.24 L681.30,246.24" stroke="#ff20ff" stroke-width="1.2"/>
</g>
<text class="t" transform="translate(365.70,433.50)" font-size="10.2" text-anchor="middle" >0</text>
<text class="t" transform="translate(444.60,433.50)" font-size="10.2" text-anchor="middle" >0.5</text>
<text class="t" transform="translate(523.50,433.50)" font-size="10.2" text-anchor="middle" >1</text>
<text class="t" transform="translate(602.40,433.50)" font-size="10.2" text-anchor="middle" >1.5</text>
<text class="t" transform="translate(681.30,433.50)" font-size="10.2" text-anchor="middle" >2</text>
<text class="t" transform="translate(360.50,405.47)" font-size="10.2" text-anchor="end" >0</text>
<text class="t" transform="translate(360.50,369.47)" font-size="10.2" text-anchor="end" >2</text>
<text class="t" transform="translate(360.50,333.47)" font-size="10.2" text-anchor="end" >4</text>
<text class="t" transform="translate(360.50,297.47)" font-size="10.2" text-anchor="end" >6</text>
<text class="t" transform="translate(360.50,261.47)" font-size="10.2" text-anchor="end" >8</text>
<text class="t" transform="translate(525.50,447.90) scale(1.078,1)" font-size="10.0" text-anchor="middle" >Time (sec)</text>
<text class="t" transform="translate(349.30,328.20) rotate(-90) scale(1.035,1)" font-size="11.0" text-anchor="middle" >PV Current (A)</text>
<rect x="566.40" y="366.30" width="114.40" height="51.70" fill="#fff" stroke="#5c5c5c" stroke-width="1"/>
<path d="M569.30,373.20H599.80" stroke="#0a0aff" stroke-width="1.9" fill="none"/>
<text class="t" transform="translate(602.30,376.48)" font-size="9.1" text-anchor="start" >Proposed Method</text>
<path d="M569.30,386.10H599.80" stroke="#ff2a2a" stroke-width="1.2" fill="none"/>
<text class="t" transform="translate(602.30,389.38)" font-size="9.1" text-anchor="start" >GWO</text>
<path d="M569.30,398.40H599.80" stroke="#1b8128" stroke-width="1.2" fill="none"/>
<text class="t" transform="translate(602.30,401.68)" font-size="9.1" text-anchor="start" >CUSA</text>
<path d="M569.30,410.70H599.80" stroke="#ff20ff" stroke-width="1.2" fill="none"/>
<text class="t" transform="translate(602.30,413.98)" font-size="9.1" text-anchor="start" >PSO</text>
<text class="s" transform="translate(478.00,473.20)" font-size="12.3" text-anchor="middle" >(iii)</text>
</svg>
</body>
</html>
